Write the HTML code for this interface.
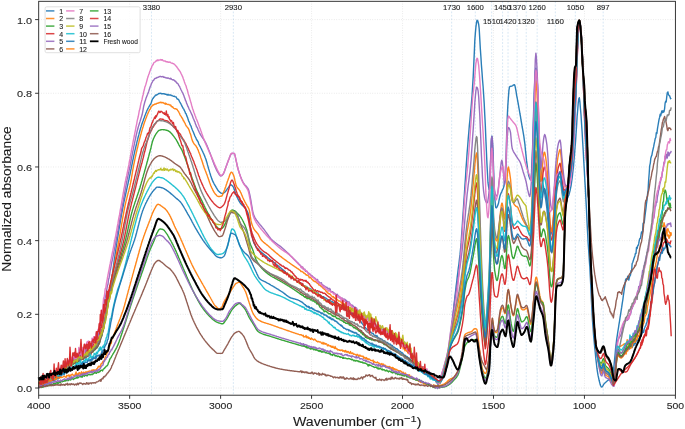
<!DOCTYPE html>
<html><head><meta charset="utf-8"><style>
html,body{margin:0;padding:0;background:#fff;}
svg{display:block;font-family:"Liberation Sans", sans-serif;will-change:transform;} text{stroke:#222;stroke-width:0.1px;paint-order:stroke;}
</style></head><body>
<svg width="685" height="429" viewBox="0 0 685 429">
<rect width="685" height="429" fill="#fff"/>
<line x1="129.66" y1="1.3" x2="129.66" y2="395.2" stroke="#b8b8b8" stroke-opacity="0.45" stroke-width="0.8" stroke-dasharray="0.8 1.6"/>
<line x1="220.61" y1="1.3" x2="220.61" y2="395.2" stroke="#b8b8b8" stroke-opacity="0.45" stroke-width="0.8" stroke-dasharray="0.8 1.6"/>
<line x1="311.57" y1="1.3" x2="311.57" y2="395.2" stroke="#b8b8b8" stroke-opacity="0.45" stroke-width="0.8" stroke-dasharray="0.8 1.6"/>
<line x1="402.53" y1="1.3" x2="402.53" y2="395.2" stroke="#b8b8b8" stroke-opacity="0.45" stroke-width="0.8" stroke-dasharray="0.8 1.6"/>
<line x1="493.49" y1="1.3" x2="493.49" y2="395.2" stroke="#b8b8b8" stroke-opacity="0.45" stroke-width="0.8" stroke-dasharray="0.8 1.6"/>
<line x1="584.44" y1="1.3" x2="584.44" y2="395.2" stroke="#b8b8b8" stroke-opacity="0.45" stroke-width="0.8" stroke-dasharray="0.8 1.6"/>
<line x1="38.7" y1="388.00" x2="675.4" y2="388.00" stroke="#b8b8b8" stroke-opacity="0.45" stroke-width="0.8" stroke-dasharray="0.8 1.6"/>
<line x1="38.7" y1="314.32" x2="675.4" y2="314.32" stroke="#b8b8b8" stroke-opacity="0.45" stroke-width="0.8" stroke-dasharray="0.8 1.6"/>
<line x1="38.7" y1="240.64" x2="675.4" y2="240.64" stroke="#b8b8b8" stroke-opacity="0.45" stroke-width="0.8" stroke-dasharray="0.8 1.6"/>
<line x1="38.7" y1="166.96" x2="675.4" y2="166.96" stroke="#b8b8b8" stroke-opacity="0.45" stroke-width="0.8" stroke-dasharray="0.8 1.6"/>
<line x1="38.7" y1="93.28" x2="675.4" y2="93.28" stroke="#b8b8b8" stroke-opacity="0.45" stroke-width="0.8" stroke-dasharray="0.8 1.6"/>
<line x1="38.7" y1="19.60" x2="675.4" y2="19.60" stroke="#b8b8b8" stroke-opacity="0.45" stroke-width="0.8" stroke-dasharray="0.8 1.6"/>
<line x1="151.49" y1="1.3" x2="151.49" y2="395.2" stroke="#8fbce0" stroke-opacity="0.45" stroke-width="0.8" stroke-dasharray="1.8 1.6"/>
<line x1="233.35" y1="1.3" x2="233.35" y2="395.2" stroke="#8fbce0" stroke-opacity="0.45" stroke-width="0.8" stroke-dasharray="1.8 1.6"/>
<line x1="451.65" y1="1.3" x2="451.65" y2="395.2" stroke="#8fbce0" stroke-opacity="0.45" stroke-width="0.8" stroke-dasharray="1.8 1.6"/>
<line x1="475.29" y1="1.3" x2="475.29" y2="395.2" stroke="#8fbce0" stroke-opacity="0.45" stroke-width="0.8" stroke-dasharray="1.8 1.6"/>
<line x1="491.67" y1="1.3" x2="491.67" y2="395.2" stroke="#8fbce0" stroke-opacity="0.45" stroke-width="0.8" stroke-dasharray="1.8 1.6"/>
<line x1="502.58" y1="1.3" x2="502.58" y2="395.2" stroke="#8fbce0" stroke-opacity="0.45" stroke-width="0.8" stroke-dasharray="1.8 1.6"/>
<line x1="508.04" y1="1.3" x2="508.04" y2="395.2" stroke="#8fbce0" stroke-opacity="0.45" stroke-width="0.8" stroke-dasharray="1.8 1.6"/>
<line x1="517.13" y1="1.3" x2="517.13" y2="395.2" stroke="#8fbce0" stroke-opacity="0.45" stroke-width="0.8" stroke-dasharray="1.8 1.6"/>
<line x1="526.23" y1="1.3" x2="526.23" y2="395.2" stroke="#8fbce0" stroke-opacity="0.45" stroke-width="0.8" stroke-dasharray="1.8 1.6"/>
<line x1="537.15" y1="1.3" x2="537.15" y2="395.2" stroke="#8fbce0" stroke-opacity="0.45" stroke-width="0.8" stroke-dasharray="1.8 1.6"/>
<line x1="555.34" y1="1.3" x2="555.34" y2="395.2" stroke="#8fbce0" stroke-opacity="0.45" stroke-width="0.8" stroke-dasharray="1.8 1.6"/>
<line x1="575.35" y1="1.3" x2="575.35" y2="395.2" stroke="#8fbce0" stroke-opacity="0.45" stroke-width="0.8" stroke-dasharray="1.8 1.6"/>
<line x1="603.18" y1="1.3" x2="603.18" y2="395.2" stroke="#8fbce0" stroke-opacity="0.45" stroke-width="0.8" stroke-dasharray="1.8 1.6"/>
<g>
<polyline points="38.7,385.2 39.2,385.2 39.8,384.5 40.3,383.7 40.9,383.8 41.4,383.1 42.0,383.7 42.5,384.5 43.1,382.7 43.6,382.4 44.2,383.0 44.7,382.6 45.3,382.1 45.8,381.0 46.4,381.4 46.9,381.8 47.5,379.8 48.0,380.2 48.6,378.7 49.1,378.9 49.7,378.1 50.2,379.2 50.8,378.0 51.3,379.0 51.9,378.6 52.4,378.0 53.0,375.7 53.5,377.0 54.1,377.1 54.6,376.9 55.2,375.2 55.7,375.7 56.3,375.0 56.8,374.8 57.4,376.0 57.9,374.1 58.5,374.3 59.0,374.7 59.6,373.1 60.1,373.2 60.7,372.9 61.2,372.5 61.8,371.0 62.3,371.6 62.9,372.3 63.4,369.4 64.0,370.9 64.5,369.8 65.1,368.7 65.6,370.4 66.2,368.9 66.7,366.8 67.3,367.4 67.8,367.4 68.4,366.3 68.9,366.6 69.5,365.5 70.0,365.7 70.6,366.0 71.1,363.8 71.7,364.2 72.2,363.3 72.8,363.5 73.3,362.0 73.9,362.2 74.4,362.2 75.0,362.8 75.5,362.7 76.1,360.3 76.6,360.5 77.2,361.4 77.7,358.9 78.3,359.8 78.8,359.8 79.4,360.7 79.9,359.9 80.5,358.7 81.0,358.4 81.6,358.2 82.1,359.3 82.7,357.4 83.2,357.2 83.8,357.4 84.3,356.7 84.9,356.3 85.4,355.2 86.0,355.8 86.5,355.1 87.1,356.1 87.6,355.3 88.2,354.4 88.7,354.5 89.3,353.2 89.8,353.9 90.4,352.5 90.9,352.5 91.5,350.4 92.0,351.3 92.6,349.0 93.1,348.2 93.7,349.1 94.2,348.1 94.8,348.4 95.3,349.6 95.9,346.5 96.4,346.1 97.0,346.1 97.5,345.6 98.1,344.2 98.6,343.1 99.2,342.7 99.7,341.1 100.3,338.3 100.8,337.5 101.4,335.8 101.9,333.0 102.5,332.1 103.0,329.1 103.6,328.4 104.1,325.2 104.7,322.4 105.2,318.9 105.8,316.2 106.3,311.4 106.9,308.7 107.4,306.5 108.0,301.0 108.5,299.9 109.1,294.2 109.6,292.8 110.2,288.0 110.7,285.9 111.3,281.6 111.8,276.5 112.4,273.9 112.9,270.0 113.5,266.1 114.0,262.2 114.6,258.2 115.1,254.4 115.7,250.5 116.2,246.8 116.8,243.2 117.3,239.7 117.9,236.3 118.4,232.9 119.0,229.5 119.5,226.3 120.1,223.0 120.6,219.8 121.2,216.7 121.7,213.7 122.3,210.7 122.8,207.8 123.4,205.0 123.9,202.2 124.5,199.6 125.0,197.1 125.6,194.5 126.1,192.1 126.7,189.6 127.2,187.1 127.8,184.6 128.3,182.1 128.9,179.5 129.4,176.9 130.0,174.3 130.5,171.7 131.1,169.0 131.6,166.3 132.2,163.6 132.7,160.9 133.3,158.3 133.8,155.7 134.4,153.2 134.9,150.7 135.5,148.3 136.0,146.0 136.6,143.7 137.1,141.4 137.7,139.2 138.2,137.0 138.8,134.9 139.3,132.8 139.9,130.8 140.4,128.8 141.0,127.0 141.5,125.3 142.1,123.6 142.6,122.0 143.2,120.5 143.7,119.0 144.3,117.5 144.8,116.1 145.4,114.6 145.9,113.2 146.5,111.8 147.0,110.5 147.6,109.4 148.1,108.3 148.7,107.3 149.2,106.3 149.8,105.3 150.3,104.5 150.9,103.6 151.4,102.2 152.0,100.2 152.5,98.9 153.1,98.5 153.6,97.3 154.2,96.9 154.7,96.5 155.3,95.4 155.8,95.0 156.4,95.2 156.9,94.8 157.5,94.4 158.0,94.1 158.6,93.7 159.1,93.3 159.7,93.5 160.2,93.3 160.8,93.1 161.3,93.7 161.9,93.6 162.4,93.8 163.0,93.6 163.5,93.8 164.1,93.8 164.6,93.9 165.2,94.3 165.7,94.1 166.3,94.5 166.8,94.6 167.4,95.1 167.9,94.3 168.5,95.0 169.0,94.9 169.6,95.0 170.1,94.8 170.7,95.1 171.2,95.6 171.8,95.5 172.3,95.7 172.9,95.9 173.4,96.4 174.0,96.4 174.5,96.2 175.1,96.9 175.6,96.9 176.2,97.0 176.7,98.1 177.3,99.0 177.8,99.2 178.4,99.5 178.9,100.2 179.5,101.5 180.0,102.3 180.6,103.3 181.1,104.3 181.7,105.4 182.2,106.7 182.8,107.6 183.3,108.6 183.9,109.3 184.4,110.7 185.0,111.6 185.5,113.2 186.1,113.8 186.6,115.4 187.2,116.8 187.7,117.9 188.3,120.1 188.8,121.4 189.4,122.4 189.9,124.1 190.5,125.3 191.0,126.0 191.6,128.0 192.1,129.3 192.7,130.7 193.2,131.7 193.8,133.2 194.3,134.5 194.9,136.1 195.4,137.0 196.0,138.1 196.5,139.6 197.1,140.1 197.6,141.2 198.2,142.0 198.7,143.8 199.3,144.8 199.8,145.9 200.4,146.8 200.9,148.0 201.5,149.1 202.0,150.2 202.6,151.4 203.1,152.6 203.7,153.8 204.2,155.0 204.8,156.4 205.3,157.8 205.9,159.3 206.4,161.0 207.0,162.9 207.5,164.9 208.1,166.9 208.6,168.8 209.2,170.6 209.7,172.4 210.3,174.2 210.8,176.0 211.4,177.6 211.9,179.1 212.5,180.5 213.0,181.7 213.6,182.8 214.1,183.8 214.7,184.8 215.2,185.7 215.8,186.7 216.3,187.6 216.9,188.5 217.4,189.5 218.0,190.3 218.5,191.0 219.1,191.6 219.6,192.1 220.2,192.5 220.7,192.9 221.3,193.2 221.8,193.4 222.4,193.5 222.9,193.4 223.5,193.1 224.0,192.7 224.6,192.3 225.1,191.9 225.7,191.3 226.2,190.5 226.8,189.7 227.3,188.9 227.9,188.1 228.4,187.4 229.0,186.6 229.5,185.8 230.1,185.1 230.6,184.8 231.2,184.9 231.7,185.2 232.3,185.7 232.8,186.3 233.4,187.1 233.9,188.4 234.5,189.9 235.0,191.6 235.6,193.4 236.1,194.9 236.7,196.2 237.2,197.4 237.8,198.5 238.3,199.7 238.9,200.7 239.4,201.7 240.0,202.6 240.5,203.3 241.1,204.0 241.6,204.6 242.2,205.1 242.7,205.6 243.3,206.1 243.8,206.7 244.4,207.3 244.9,207.9 245.5,208.7 246.0,209.4 246.6,210.2 247.1,211.1 247.7,212.3 248.2,213.8 248.8,216.3 249.3,219.7 249.9,223.5 250.4,227.4 251.0,230.9 251.5,233.7 252.1,236.2 252.6,238.6 253.2,240.7 253.7,242.4 254.3,243.6 254.8,244.7 255.4,245.6 255.9,246.5 256.5,247.2 257.0,247.9 257.6,248.5 258.1,249.2 258.7,249.8 259.2,250.3 259.8,250.9 260.3,251.4 260.9,251.9 261.4,252.4 262.0,252.8 262.5,253.3 263.1,253.7 263.6,254.2 264.2,254.6 264.7,255.0 265.3,255.5 265.8,255.9 266.4,256.4 266.9,256.8 267.5,257.3 268.0,257.8 268.6,258.2 269.1,258.6 269.7,259.1 270.2,259.5 270.8,260.0 271.3,260.4 271.9,260.8 272.4,261.3 273.0,261.7 273.5,262.1 274.1,262.6 274.6,263.0 275.2,263.4 275.7,263.9 276.3,264.3 276.8,264.7 277.4,265.2 277.9,265.6 278.5,266.0 279.0,266.5 279.6,266.9 280.1,267.4 280.7,267.8 281.2,268.3 281.8,268.7 282.3,269.2 282.9,269.7 283.4,270.1 284.0,270.6 284.5,271.1 285.1,271.6 285.6,272.2 286.2,272.7 286.7,273.2 287.3,273.7 287.8,274.2 288.4,274.7 288.9,275.1 289.5,275.6 290.0,276.0 290.6,276.5 291.1,276.9 291.7,277.3 292.2,277.7 292.8,278.1 293.3,278.5 293.9,278.9 294.4,279.3 295.0,279.7 295.5,280.1 296.1,280.4 296.6,280.8 297.2,281.2 297.7,281.6 298.3,281.9 298.8,282.3 299.4,282.6 299.9,283.0 300.5,282.9 301.0,283.0 301.6,284.7 302.1,284.3 302.7,284.8 303.2,285.1 303.8,285.5 304.3,285.8 304.9,286.8 305.4,286.1 306.0,286.3 306.5,286.8 307.1,287.0 307.6,288.1 308.2,288.5 308.7,288.2 309.3,288.3 309.8,289.0 310.4,290.0 310.9,288.8 311.5,290.3 312.0,290.1 312.6,291.2 313.1,290.7 313.7,291.3 314.2,291.2 314.8,291.7 315.3,292.9 315.9,293.0 316.4,292.8 317.0,293.0 317.5,292.9 318.1,293.8 318.6,294.2 319.2,294.5 319.7,294.8 320.3,294.8 320.8,295.5 321.4,295.8 321.9,296.6 322.5,297.1 323.0,296.7 323.6,296.8 324.1,297.4 324.7,297.5 325.2,297.8 325.8,298.3 326.3,298.3 326.9,299.2 327.4,299.3 328.0,299.7 328.5,299.9 329.1,300.0 329.6,300.2 330.2,300.8 330.7,301.0 331.3,301.6 331.8,301.8 332.4,301.6 332.9,302.5 333.5,302.3 334.0,302.9 334.6,303.3 335.1,303.0 335.7,304.1 336.2,304.4 336.8,304.6 337.3,304.9 337.9,305.2 338.4,305.3 339.0,305.9 339.5,306.1 340.1,306.7 340.6,306.5 341.2,307.4 341.7,307.6 342.3,307.8 342.8,308.0 343.4,308.7 343.9,308.2 344.5,309.3 345.0,309.5 345.6,309.8 346.1,310.2 346.7,310.1 347.2,310.6 347.8,311.2 348.3,311.5 348.9,311.7 349.4,311.4 350.0,312.5 350.5,313.1 351.1,313.4 351.6,313.4 352.2,313.2 352.7,314.5 353.3,314.4 353.8,314.0 354.4,315.4 354.9,315.2 355.5,315.7 356.0,316.4 356.6,317.6 357.1,317.5 357.7,318.3 358.2,319.4 358.8,320.0 359.3,320.0 359.9,320.6 360.4,320.9 361.0,321.7 361.5,322.8 362.1,323.5 362.6,324.0 363.2,325.0 363.7,325.1 364.3,326.0 364.8,327.0 365.4,327.6 365.9,328.4 366.5,328.8 367.0,329.1 367.6,329.9 368.1,330.0 368.7,330.3 369.2,331.6 369.8,331.8 370.3,332.4 370.9,332.1 371.4,333.0 372.0,333.2 372.5,333.5 373.1,333.4 373.6,334.4 374.2,335.2 374.7,335.4 375.3,335.3 375.8,335.9 376.4,336.5 376.9,335.5 377.5,336.8 378.0,337.3 378.6,337.7 379.1,338.4 379.7,338.5 380.2,338.5 380.8,338.9 381.3,339.4 381.9,339.2 382.4,339.8 383.0,340.4 383.5,341.2 384.1,340.7 384.6,341.1 385.2,341.5 385.7,342.3 386.3,342.1 386.8,343.0 387.4,342.5 387.9,343.1 388.5,343.4 389.0,344.1 389.6,344.5 390.1,344.0 390.7,344.5 391.2,345.4 391.8,345.4 392.3,345.4 392.9,346.7 393.4,346.9 394.0,347.3 394.5,347.3 395.1,348.2 395.6,348.2 396.2,349.0 396.7,348.7 397.3,349.1 397.8,349.9 398.4,350.0 398.9,350.8 399.5,351.1 400.0,351.1 400.6,351.8 401.1,352.1 401.7,353.0 402.2,352.8 402.8,353.3 403.3,354.3 403.9,355.1 404.4,355.5 405.0,355.2 405.5,355.7 406.1,356.6 406.6,356.4 407.2,356.6 407.7,357.4 408.3,358.0 408.8,358.0 409.4,358.1 409.9,358.7 410.5,359.9 411.0,359.9 411.6,360.6 412.1,361.2 412.7,361.9 413.2,362.0 413.8,362.8 414.3,362.8 414.9,363.5 415.4,363.8 416.0,365.1 416.5,365.2 417.1,365.4 417.6,366.0 418.2,366.6 418.7,367.4 419.3,367.0 419.8,367.7 420.4,368.4 420.9,369.9 421.5,369.8 422.0,369.8 422.6,370.6 423.1,371.5 423.7,371.0 424.2,371.4 424.8,372.3 425.3,372.4 425.9,372.9 426.4,372.8 427.0,374.0 427.5,374.3 428.1,374.3 428.6,374.7 429.2,374.1 429.7,375.4 430.3,375.5 430.8,376.1 431.4,376.6 431.9,376.7 432.5,376.6 433.0,377.8 433.6,377.9 434.1,378.7 434.7,379.3 435.2,380.1 435.8,380.2 436.3,382.3 436.9,382.6 437.4,383.5 438.0,384.3 438.5,383.9 439.1,383.3 439.6,383.4 440.2,383.1 440.7,382.2 441.3,381.3 441.8,380.3 442.4,379.3 442.9,378.2 443.5,377.1 444.0,375.8 444.6,374.4 445.1,372.8 445.7,371.0 446.2,369.0 446.8,366.5 447.3,363.6 447.9,360.2 448.4,356.5 449.0,352.5 449.5,348.4 450.1,344.2 450.6,339.6 451.2,334.5 451.7,329.1 452.3,323.4 452.8,317.6 453.4,311.8 453.9,306.2 454.5,300.9 455.0,296.0 455.6,291.1 456.1,286.4 456.7,281.8 457.2,277.1 457.8,272.5 458.3,268.2 458.9,264.0 459.4,259.7 460.0,254.9 460.5,249.5 461.1,242.9 461.6,235.2 462.2,227.0 462.7,218.7 463.3,210.6 463.8,202.4 464.4,194.1 464.9,185.8 465.5,177.2 466.0,168.6 466.6,160.6 467.1,153.1 467.7,146.0 468.2,139.1 468.8,132.4 469.3,125.9 469.9,120.0 470.4,114.3 471.0,108.5 471.5,102.2 472.1,95.0 472.6,86.4 473.2,76.6 473.7,65.9 474.3,52.9 474.8,40.6 475.4,32.6 475.9,27.1 476.5,22.6 477.0,20.3 477.6,20.5 478.1,22.0 478.7,24.5 479.2,28.9 479.8,39.4 480.3,48.4 480.9,56.7 481.4,64.7 482.0,72.4 482.5,79.5 483.1,86.5 483.6,94.2 484.2,103.4 484.7,113.8 485.3,125.0 485.8,137.8 486.4,151.3 486.9,163.0 487.5,174.0 488.0,182.7 488.6,186.9 489.1,189.4 489.7,188.2 490.2,172.2 490.8,156.9 491.3,141.6 491.9,136.1 492.4,141.2 493.0,150.0 493.5,166.3 494.1,185.6 494.6,195.5 495.2,203.0 495.7,207.5 496.3,207.9 496.8,207.3 497.4,206.3 497.9,205.1 498.5,203.3 499.0,200.5 499.6,197.6 500.1,195.5 500.7,194.0 501.2,192.7 501.8,191.5 502.3,190.2 502.9,189.1 503.4,187.9 504.0,186.0 504.5,182.1 505.1,175.7 505.6,167.3 506.2,152.2 506.7,133.3 507.3,116.3 507.8,106.0 508.4,97.5 508.9,90.7 509.5,86.9 510.0,86.4 510.6,86.3 511.1,86.2 511.7,86.1 512.2,85.9 512.8,85.6 513.3,85.1 513.9,84.8 514.4,84.7 515.0,85.8 515.5,88.3 516.1,91.6 516.6,95.1 517.2,98.0 517.7,101.0 518.3,104.0 518.8,107.1 519.4,110.3 519.9,113.5 520.5,116.7 521.0,120.0 521.6,123.3 522.1,126.5 522.7,129.6 523.2,132.7 523.8,136.1 524.3,139.8 524.9,144.1 525.4,149.7 526.0,155.4 526.5,160.4 527.1,164.8 527.6,169.1 528.2,172.8 528.7,175.5 529.3,177.2 529.8,178.7 530.4,179.8 530.9,179.6 531.5,172.9 532.0,160.8 532.6,147.5 533.1,128.9 533.7,108.6 534.2,94.0 534.8,80.9 535.3,71.0 535.9,68.1 536.4,71.2 537.0,77.7 537.5,85.8 538.1,101.2 538.6,122.8 539.2,142.7 539.7,154.3 540.3,162.5 540.8,169.0 541.4,174.2 541.9,178.3 542.5,181.5 543.0,184.3 543.6,187.2 544.1,190.3 544.7,193.5 545.2,196.6 545.8,200.0 546.3,203.9 546.9,208.6 547.4,214.7 548.0,220.7 548.5,225.3 549.1,229.1 549.6,232.5 550.2,234.6 550.7,234.8 551.3,233.1 551.8,230.1 552.4,226.4 552.9,222.4 553.5,217.2 554.0,209.9 554.6,201.7 555.1,193.8 555.7,187.4 556.2,183.4 556.8,180.4 557.3,177.7 557.9,175.7 558.4,174.1 559.0,172.9 559.5,172.0 560.1,171.7 560.6,173.4 561.2,176.7 561.7,180.5 562.3,183.9 562.8,187.9 563.4,191.9 563.9,194.8 564.5,196.8 565.0,198.5 565.6,199.7 566.1,200.0 566.7,199.6 567.2,198.7 567.8,197.6 568.3,196.3 568.9,195.0 569.4,193.1 570.0,190.9 570.5,188.3 571.1,185.5 571.6,182.0 572.2,177.8 572.7,173.2 573.3,168.1 573.8,162.4 574.4,156.0 574.9,149.2 575.5,142.0 576.0,134.5 576.6,125.5 577.1,116.6 577.7,109.7 578.2,103.4 578.8,98.7 579.3,97.7 579.9,101.9 580.4,108.2 581.0,114.8 581.5,122.9 582.1,131.8 582.6,140.7 583.2,150.2 583.7,160.1 584.3,170.0 584.8,179.6 585.4,189.1 585.9,199.1 586.5,209.9 587.0,221.4 587.6,232.6 588.1,242.5 588.7,250.8 589.2,258.5 589.8,266.7 590.3,276.4 590.9,288.0 591.4,300.0 592.0,311.4 592.5,320.7 593.1,328.5 593.6,335.4 594.2,341.7 594.7,347.5 595.3,353.0 595.8,358.4 596.4,363.5 596.9,368.2 597.5,372.2 598.0,375.2 598.6,377.8 599.1,380.3 599.7,382.6 600.2,384.6 600.8,386.0 601.3,386.8 601.9,387.0 602.4,386.4 603.0,385.6 603.5,384.6 604.1,383.9 604.6,383.3 605.2,382.8 605.7,382.3 606.3,381.8 606.8,381.3 607.4,380.8 607.9,380.3 608.5,379.9 609.0,379.7 609.6,379.6 610.1,379.6 610.7,379.6 611.2,379.6 611.8,379.6 612.3,377.8 612.9,374.3 613.4,370.0 614.0,365.6 614.5,360.4 615.1,354.4 615.6,348.4 616.2,343.4 616.7,339.2 617.3,335.4 617.8,331.8 618.4,328.4 618.9,324.9 619.5,321.3 620.0,317.8 620.6,314.3 621.1,310.8 621.7,307.2 622.2,303.7 622.8,300.0 623.3,296.1 623.9,292.0 624.4,288.3 625.0,284.7 625.5,280.1 626.1,278.7 626.6,279.5 627.2,278.8 627.7,276.2 628.3,279.4 628.8,280.1 629.4,277.3 629.9,275.9 630.5,275.0 631.0,270.6 631.6,271.8 632.1,263.7 632.7,262.5 633.2,261.1 633.8,259.0 634.3,257.6 634.9,255.9 635.4,253.4 636.0,253.5 636.5,247.5 637.1,248.6 637.6,246.0 638.2,245.3 638.7,243.7 639.3,240.3 639.8,238.7 640.4,238.4 640.9,235.6 641.5,232.0 642.0,233.2 642.6,231.0 643.1,223.4 643.7,222.9 644.2,222.8 644.8,217.4 645.3,213.3 645.9,208.9 646.4,204.3 647.0,200.0 647.5,194.5 648.1,190.0 648.6,180.9 649.2,173.3 649.7,165.9 650.3,163.1 650.8,158.4 651.4,156.2 651.9,155.1 652.5,151.7 653.0,149.5 653.6,146.9 654.1,144.1 654.7,141.4 655.2,138.6 655.8,137.5 656.3,132.6 656.9,133.4 657.4,129.2 658.0,125.5 658.5,122.7 659.1,119.2 659.6,117.4 660.2,114.2 660.7,115.8 661.3,113.0 661.8,110.9 662.4,112.7 662.9,110.7 663.5,112.2 664.0,111.8 664.6,108.7 665.1,103.3 665.7,101.2 666.2,101.9 666.8,96.4 667.3,92.6 667.9,91.9 668.4,94.3 669.0,95.5 669.5,95.6 670.1,97.2 670.6,98.7 671.2,97.8" fill="none" stroke="#1f77b4" stroke-opacity="0.95" stroke-width="1.4" stroke-linejoin="round"/>
<polyline points="38.7,384.0 39.2,384.6 39.8,383.6 40.3,384.0 40.9,383.8 41.4,385.2 42.0,382.6 42.5,382.9 43.1,382.6 43.6,382.7 44.2,382.9 44.7,381.5 45.3,381.0 45.8,380.1 46.4,380.3 46.9,381.1 47.5,380.4 48.0,379.3 48.6,379.5 49.1,379.5 49.7,379.5 50.2,378.4 50.8,378.3 51.3,376.9 51.9,377.0 52.4,378.7 53.0,375.6 53.5,376.6 54.1,376.7 54.6,375.9 55.2,375.3 55.7,375.5 56.3,375.2 56.8,374.8 57.4,373.1 57.9,374.0 58.5,373.1 59.0,372.9 59.6,373.1 60.1,373.0 60.7,372.8 61.2,371.3 61.8,371.9 62.3,371.7 62.9,371.2 63.4,370.9 64.0,369.3 64.5,368.8 65.1,369.0 65.6,366.9 66.2,367.6 66.7,366.6 67.3,366.2 67.8,364.7 68.4,364.9 68.9,365.0 69.5,365.3 70.0,364.9 70.6,363.7 71.1,363.3 71.7,362.4 72.2,362.9 72.8,362.1 73.3,362.4 73.9,362.9 74.4,361.3 75.0,359.9 75.5,360.0 76.1,359.3 76.6,359.1 77.2,360.6 77.7,359.5 78.3,357.9 78.8,359.2 79.4,359.3 79.9,357.8 80.5,357.3 81.0,357.2 81.6,357.3 82.1,357.2 82.7,357.3 83.2,357.0 83.8,356.6 84.3,356.4 84.9,355.6 85.4,353.6 86.0,354.3 86.5,354.3 87.1,353.4 87.6,353.9 88.2,352.6 88.7,351.7 89.3,352.9 89.8,351.8 90.4,351.0 90.9,350.9 91.5,350.5 92.0,349.4 92.6,346.8 93.1,347.5 93.7,347.0 94.2,346.1 94.8,346.4 95.3,346.5 95.9,344.7 96.4,343.5 97.0,345.1 97.5,342.5 98.1,341.0 98.6,340.8 99.2,339.5 99.7,337.0 100.3,336.2 100.8,333.3 101.4,330.9 101.9,329.4 102.5,327.6 103.0,324.3 103.6,322.7 104.1,319.8 104.7,319.2 105.2,313.8 105.8,312.4 106.3,308.4 106.9,305.2 107.4,302.7 108.0,299.7 108.5,296.9 109.1,293.1 109.6,289.4 110.2,286.6 110.7,284.4 111.3,281.5 111.8,279.2 112.4,275.3 112.9,272.4 113.5,269.5 114.0,266.6 114.6,263.7 115.1,260.8 115.7,257.8 116.2,254.9 116.8,252.0 117.3,249.0 117.9,246.0 118.4,243.0 119.0,240.0 119.5,236.9 120.1,233.7 120.6,230.5 121.2,227.2 121.7,224.0 122.3,220.7 122.8,217.5 123.4,214.4 123.9,211.4 124.5,208.5 125.0,205.8 125.6,203.2 126.1,200.9 126.7,198.7 127.2,196.5 127.8,194.4 128.3,192.4 128.9,190.2 129.4,188.0 130.0,185.7 130.5,183.2 131.1,180.5 131.6,177.4 132.2,173.7 132.7,170.3 133.3,167.3 133.8,164.5 134.4,161.8 134.9,159.2 135.5,156.6 136.0,154.2 136.6,151.7 137.1,149.3 137.7,147.0 138.2,144.7 138.8,142.4 139.3,140.2 139.9,138.1 140.4,136.0 141.0,134.0 141.5,132.0 142.1,130.1 142.6,128.3 143.2,126.5 143.7,124.7 144.3,123.1 144.8,121.4 145.4,119.9 145.9,118.4 146.5,116.9 147.0,115.5 147.6,114.2 148.1,112.9 148.7,111.7 149.2,110.5 149.8,109.4 150.3,108.9 150.9,107.2 151.4,106.5 152.0,106.1 152.5,105.3 153.1,104.9 153.6,105.1 154.2,104.5 154.7,104.1 155.3,103.9 155.8,104.2 156.4,103.9 156.9,103.3 157.5,103.1 158.0,103.2 158.6,103.0 159.1,102.5 159.7,102.7 160.2,102.6 160.8,102.1 161.3,102.5 161.9,102.8 162.4,102.7 163.0,102.4 163.5,103.0 164.1,103.4 164.6,103.8 165.2,103.0 165.7,104.3 166.3,103.6 166.8,104.2 167.4,104.4 167.9,104.5 168.5,104.5 169.0,104.4 169.6,105.1 170.1,105.1 170.7,105.0 171.2,106.6 171.8,106.5 172.3,107.2 172.9,107.0 173.4,108.0 174.0,108.4 174.5,108.7 175.1,108.6 175.6,108.6 176.2,109.2 176.7,109.1 177.3,109.7 177.8,110.7 178.4,111.2 178.9,112.3 179.5,113.3 180.0,114.8 180.6,115.6 181.1,116.2 181.7,117.5 182.2,118.1 182.8,119.2 183.3,120.6 183.9,121.1 184.4,122.4 185.0,123.2 185.5,124.5 186.1,125.8 186.6,126.1 187.2,127.1 187.7,127.7 188.3,128.5 188.8,129.4 189.4,131.1 189.9,132.7 190.5,134.1 191.0,135.8 191.6,138.2 192.1,139.7 192.7,141.4 193.2,142.4 193.8,143.3 194.3,144.2 194.9,144.7 195.4,145.5 196.0,145.9 196.5,147.0 197.1,147.7 197.6,149.1 198.2,150.1 198.7,151.7 199.3,153.3 199.8,154.4 200.4,156.3 200.9,157.9 201.5,159.4 202.0,161.1 202.6,162.8 203.1,164.5 203.7,166.1 204.2,167.7 204.8,169.2 205.3,170.6 205.9,172.1 206.4,173.5 207.0,174.9 207.5,176.4 208.1,178.0 208.6,179.6 209.2,181.2 209.7,182.8 210.3,184.3 210.8,185.7 211.4,186.9 211.9,188.1 212.5,189.2 213.0,190.4 213.6,191.4 214.1,192.4 214.7,193.2 215.2,194.0 215.8,194.6 216.3,195.1 216.9,195.7 217.4,196.1 218.0,196.4 218.5,196.5 219.1,196.5 219.6,196.5 220.2,196.4 220.7,196.3 221.3,196.2 221.8,196.0 222.4,195.2 222.9,194.0 223.5,192.6 224.0,191.1 224.6,189.8 225.1,188.3 225.7,186.7 226.2,185.1 226.8,183.4 227.3,181.8 227.9,180.3 228.4,178.8 229.0,177.2 229.5,175.6 230.1,174.1 230.6,173.0 231.2,172.3 231.7,172.3 232.3,172.8 232.8,173.7 233.4,174.8 233.9,176.2 234.5,178.4 235.0,180.9 235.6,183.4 236.1,185.4 236.7,186.6 237.2,187.5 237.8,188.2 238.3,188.8 238.9,189.5 239.4,190.2 240.0,191.0 240.5,192.1 241.1,193.3 241.6,194.6 242.2,195.9 242.7,197.3 243.3,198.5 243.8,199.6 244.4,200.7 244.9,201.8 245.5,202.8 246.0,203.8 246.6,204.9 247.1,205.8 247.7,206.7 248.2,207.6 248.8,208.7 249.3,210.2 249.9,213.0 250.4,216.9 251.0,220.7 251.5,223.1 252.1,224.8 252.6,226.3 253.2,227.5 253.7,228.6 254.3,229.5 254.8,230.3 255.4,230.9 255.9,231.6 256.5,232.2 257.0,232.8 257.6,233.4 258.1,234.2 258.7,235.2 259.2,236.2 259.8,237.3 260.3,238.4 260.9,239.3 261.4,240.1 262.0,240.7 262.5,241.3 263.1,241.8 263.6,242.3 264.2,242.7 264.7,243.2 265.3,243.6 265.8,244.0 266.4,244.4 266.9,244.9 267.5,245.3 268.0,245.8 268.6,246.3 269.1,246.8 269.7,247.2 270.2,247.7 270.8,248.2 271.3,248.7 271.9,249.2 272.4,249.7 273.0,250.1 273.5,250.6 274.1,251.1 274.6,251.6 275.2,252.0 275.7,252.5 276.3,253.0 276.8,253.4 277.4,253.9 277.9,254.3 278.5,254.8 279.0,255.2 279.6,255.7 280.1,256.1 280.7,256.5 281.2,256.9 281.8,257.4 282.3,257.8 282.9,258.2 283.4,258.6 284.0,259.0 284.5,259.4 285.1,259.8 285.6,260.2 286.2,260.6 286.7,261.0 287.3,261.4 287.8,261.8 288.4,262.2 288.9,262.5 289.5,262.9 290.0,263.3 290.6,263.7 291.1,264.1 291.7,264.5 292.2,264.9 292.8,265.3 293.3,265.7 293.9,266.0 294.4,266.4 295.0,266.8 295.5,267.2 296.1,267.5 296.6,267.9 297.2,268.3 297.7,268.7 298.3,269.0 298.8,269.4 299.4,269.8 299.9,270.2 300.5,270.6 301.0,271.6 301.6,271.5 302.1,271.4 302.7,272.1 303.2,272.1 303.8,273.0 304.3,273.6 304.9,273.3 305.4,274.0 306.0,275.0 306.5,274.7 307.1,275.4 307.6,275.3 308.2,275.8 308.7,276.3 309.3,277.9 309.8,277.2 310.4,277.6 310.9,278.0 311.5,278.6 312.0,279.4 312.6,279.6 313.1,280.8 313.7,280.5 314.2,281.4 314.8,281.4 315.3,281.9 315.9,281.5 316.4,282.5 317.0,283.0 317.5,283.4 318.1,283.0 318.6,284.7 319.2,284.7 319.7,285.1 320.3,285.6 320.8,286.1 321.4,286.8 321.9,286.6 322.5,287.2 323.0,288.2 323.6,288.6 324.1,288.9 324.7,289.4 325.2,289.8 325.8,290.6 326.3,291.7 326.9,291.3 327.4,292.9 328.0,293.2 328.5,293.1 329.1,294.2 329.6,293.8 330.2,294.1 330.7,294.8 331.3,295.7 331.8,296.1 332.4,296.5 332.9,297.2 333.5,296.6 334.0,298.1 334.6,297.7 335.1,298.4 335.7,298.8 336.2,298.8 336.8,299.1 337.3,299.6 337.9,300.3 338.4,300.9 339.0,301.2 339.5,300.9 340.1,301.1 340.6,301.3 341.2,302.7 341.7,301.1 342.3,304.0 342.8,303.0 343.4,303.1 343.9,304.4 344.5,305.3 345.0,305.1 345.6,306.0 346.1,305.7 346.7,306.9 347.2,307.3 347.8,306.7 348.3,308.2 348.9,307.6 349.4,308.0 350.0,307.6 350.5,308.4 351.1,309.7 351.6,308.4 352.2,310.4 352.7,310.5 353.3,310.9 353.8,309.4 354.4,311.4 354.9,312.4 355.5,311.8 356.0,312.9 356.6,311.4 357.1,314.2 357.7,313.6 358.2,315.3 358.8,313.6 359.3,316.1 359.9,315.8 360.4,317.1 361.0,316.2 361.5,317.0 362.1,319.7 362.6,317.7 363.2,318.3 363.7,319.1 364.3,319.0 364.8,321.1 365.4,322.0 365.9,320.6 366.5,320.3 367.0,323.0 367.6,323.4 368.1,323.7 368.7,324.4 369.2,323.2 369.8,324.2 370.3,323.7 370.9,324.1 371.4,326.4 372.0,325.5 372.5,328.2 373.1,326.8 373.6,326.6 374.2,328.1 374.7,329.2 375.3,328.5 375.8,327.5 376.4,329.1 376.9,330.2 377.5,329.0 378.0,329.1 378.6,330.8 379.1,330.5 379.7,329.8 380.2,330.7 380.8,330.7 381.3,331.8 381.9,332.0 382.4,333.2 383.0,333.1 383.5,331.7 384.1,333.5 384.6,334.2 385.2,334.2 385.7,334.9 386.3,334.0 386.8,334.0 387.4,335.7 387.9,334.5 388.5,333.9 389.0,336.7 389.6,335.6 390.1,336.3 390.7,335.8 391.2,336.2 391.8,336.6 392.3,337.6 392.9,338.5 393.4,336.8 394.0,339.6 394.5,338.5 395.1,339.0 395.6,340.8 396.2,340.6 396.7,339.9 397.3,343.0 397.8,341.4 398.4,342.8 398.9,343.2 399.5,344.7 400.0,343.7 400.6,345.4 401.1,344.5 401.7,346.5 402.2,345.6 402.8,346.5 403.3,348.8 403.9,348.1 404.4,348.5 405.0,350.7 405.5,349.8 406.1,349.4 406.6,351.2 407.2,350.3 407.7,352.7 408.3,353.3 408.8,352.5 409.4,353.1 409.9,354.3 410.5,354.8 411.0,354.7 411.6,356.5 412.1,355.1 412.7,357.0 413.2,357.7 413.8,358.4 414.3,359.5 414.9,358.9 415.4,361.0 416.0,361.0 416.5,361.3 417.1,361.4 417.6,362.2 418.2,364.0 418.7,363.7 419.3,365.1 419.8,366.5 420.4,367.1 420.9,368.1 421.5,367.3 422.0,367.2 422.6,369.4 423.1,369.3 423.7,370.5 424.2,370.1 424.8,371.5 425.3,371.7 425.9,372.0 426.4,372.3 427.0,372.7 427.5,373.0 428.1,373.5 428.6,374.6 429.2,373.9 429.7,376.1 430.3,375.3 430.8,375.8 431.4,376.3 431.9,376.8 432.5,377.3 433.0,377.7 433.6,378.1 434.1,378.6 434.7,379.0 435.2,379.5 435.8,380.0 436.3,380.5 436.9,381.0 437.4,381.5 438.0,382.0 438.5,382.3 439.1,382.6 439.6,382.2 440.2,381.3 440.7,380.0 441.3,378.8 441.8,377.6 442.4,376.1 442.9,374.5 443.5,372.7 444.0,370.6 444.6,368.0 445.1,365.3 445.7,363.3 446.2,361.2 446.8,359.1 447.3,356.8 447.9,354.2 448.4,351.3 449.0,348.1 449.5,344.8 450.1,341.6 450.6,338.5 451.2,335.5 451.7,332.8 452.3,330.0 452.8,327.3 453.4,324.6 453.9,321.9 454.5,319.3 455.0,316.7 455.6,314.2 456.1,311.8 456.7,309.4 457.2,307.1 457.8,304.6 458.3,302.0 458.9,299.1 459.4,296.1 460.0,292.9 460.5,289.6 461.1,286.1 461.6,282.4 462.2,278.5 462.7,274.0 463.3,269.0 463.8,263.3 464.4,256.6 464.9,251.0 465.5,245.9 466.0,240.9 466.6,236.3 467.1,232.3 467.7,228.9 468.2,225.9 468.8,222.8 469.3,219.4 469.9,215.8 470.4,211.8 471.0,207.1 471.5,201.8 472.1,196.1 472.6,190.2 473.2,184.3 473.7,178.4 474.3,171.7 474.8,165.1 475.4,159.6 475.9,155.7 476.5,152.9 477.0,153.9 477.6,164.5 478.1,176.2 478.7,190.7 479.2,206.8 479.8,222.5 480.3,239.2 480.9,255.0 481.4,269.4 482.0,282.3 482.5,294.3 483.1,304.8 483.6,313.8 484.2,322.0 484.7,329.4 485.3,335.9 485.8,334.0 486.4,327.0 486.9,319.6 487.5,312.0 488.0,303.9 488.6,294.9 489.1,284.8 489.7,268.8 490.2,245.8 490.8,225.7 491.3,204.3 491.9,192.3 492.4,193.5 493.0,207.3 493.5,223.2 494.1,230.7 494.6,235.8 495.2,238.1 495.7,239.6 496.3,240.7 496.8,240.8 497.4,239.5 497.9,236.0 498.5,230.9 499.0,225.4 499.6,220.4 500.1,215.4 500.7,210.3 501.2,205.8 501.8,203.2 502.3,203.6 502.9,206.7 503.4,210.4 504.0,215.5 504.5,219.1 505.1,217.1 505.6,209.9 506.2,200.3 506.7,186.1 507.3,175.4 507.8,168.7 508.4,166.9 508.9,169.0 509.5,171.9 510.0,175.4 510.6,179.6 511.1,186.0 511.7,192.7 512.2,196.9 512.8,199.7 513.3,202.1 513.9,203.8 514.4,204.7 515.0,205.3 515.5,205.9 516.1,206.4 516.6,206.6 517.2,206.9 517.7,207.3 518.3,208.4 518.8,209.8 519.4,211.2 519.9,212.5 520.5,213.9 521.0,215.4 521.6,216.8 522.1,218.1 522.7,219.4 523.2,220.5 523.8,221.5 524.3,222.5 524.9,223.4 525.4,224.2 526.0,225.2 526.5,225.2 527.1,225.8 527.6,226.8 528.2,227.6 528.7,228.6 529.3,229.3 529.8,229.0 530.4,225.7 530.9,219.5 531.5,211.4 532.0,199.6 532.6,183.4 533.1,165.4 533.7,148.2 534.2,128.5 534.8,107.4 535.3,89.8 535.9,80.9 536.4,84.1 537.0,93.4 537.5,104.4 538.1,118.3 538.6,134.6 539.2,151.4 539.7,168.1 540.3,176.7 540.8,181.4 541.4,179.5 541.9,172.8 542.5,166.3 543.0,159.5 543.6,154.9 544.1,152.4 544.7,152.3 545.2,154.4 545.8,158.1 546.3,162.1 546.9,167.0 547.4,173.1 548.0,181.3 548.5,192.3 549.1,202.9 549.6,213.7 550.2,223.1 550.7,228.5 551.3,231.3 551.8,231.7 552.4,229.3 552.9,223.7 553.5,217.1 554.0,209.3 554.6,199.3 555.1,188.8 555.7,179.4 556.2,172.4 556.8,166.7 557.3,161.6 557.9,157.5 558.4,154.7 559.0,152.4 559.5,150.5 560.1,149.4 560.6,151.8 561.2,157.3 561.7,163.6 562.3,168.8 562.8,174.4 563.4,179.4 563.9,182.3 564.5,184.5 565.0,186.0 565.6,186.6 566.1,186.7 566.7,186.8 567.2,186.7 567.8,186.1 568.3,184.8 568.9,183.0 569.4,181.0 570.0,178.9 570.5,176.3 571.1,173.0 571.6,169.1 572.2,163.2 572.7,155.2 573.3,146.5 573.8,136.4 574.4,125.7 574.9,115.1 575.5,104.0 576.0,91.5 576.6,75.9 577.1,60.1 577.7,45.2 578.2,33.6 578.8,25.3 579.3,20.1 579.9,21.3 580.4,25.1 581.0,30.3 581.5,37.2 582.1,48.5 582.6,61.6 583.2,77.2 583.7,93.3 584.3,109.6 584.8,124.0 585.4,136.0 585.9,146.6 586.5,156.6 587.0,165.7 587.6,174.6 588.1,185.2 588.7,198.5 589.2,214.0 589.8,230.4 590.3,246.3 590.9,261.8 591.4,278.0 592.0,293.2 592.5,305.1 593.1,314.3 593.6,322.3 594.2,329.2 594.7,335.2 595.3,340.7 595.8,345.7 596.4,350.1 596.9,354.0 597.5,357.3 598.0,360.3 598.6,363.1 599.1,365.9 599.7,368.5 600.2,370.7 600.8,372.4 601.3,373.2 601.9,373.1 602.4,371.5 603.0,369.4 603.5,368.5 604.1,370.0 604.6,372.7 605.2,374.5 605.7,375.1 606.3,375.6 606.8,375.9 607.4,376.1 607.9,376.4 608.5,376.8 609.0,377.4 609.6,378.3 610.1,379.4 610.7,380.6 611.2,381.7 611.8,382.8 612.3,383.8 612.9,384.7 613.4,382.5 614.0,379.1 614.5,375.4 615.1,371.2 615.6,365.4 616.2,358.6 616.7,352.4 617.3,348.5 617.8,347.6 618.4,347.2 618.9,346.9 619.5,346.7 620.0,346.4 620.6,346.2 621.1,345.9 621.7,345.6 622.2,345.2 622.8,344.9 623.3,344.6 623.9,344.2 624.4,343.9 625.0,343.6 625.5,343.5 626.1,343.5 626.6,343.6 627.2,339.7 627.7,344.1 628.3,344.9 628.8,343.0 629.4,342.7 629.9,339.2 630.5,340.5 631.0,339.1 631.6,338.9 632.1,340.4 632.7,337.5 633.2,337.7 633.8,334.7 634.3,336.2 634.9,335.8 635.4,333.9 636.0,333.0 636.5,335.6 637.1,330.5 637.6,329.7 638.2,328.9 638.7,330.4 639.3,330.3 639.8,326.6 640.4,323.8 640.9,322.8 641.5,323.2 642.0,318.9 642.6,320.3 643.1,318.5 643.7,314.8 644.2,313.6 644.8,311.8 645.3,310.6 645.9,304.5 646.4,304.4 647.0,298.9 647.5,294.8 648.1,292.3 648.6,288.2 649.2,283.6 649.7,279.3 650.3,277.1 650.8,277.1 651.4,274.8 651.9,270.1 652.5,267.8 653.0,262.6 653.6,260.3 654.1,257.8 654.7,253.0 655.2,249.9 655.8,247.8 656.3,243.6 656.9,239.0 657.4,237.6 658.0,233.7 658.5,233.0 659.1,230.0 659.6,228.6 660.2,228.4 660.7,227.2 661.3,225.8 661.8,225.6 662.4,226.6 662.9,226.1 663.5,226.8 664.0,222.8 664.6,225.0 665.1,226.3 665.7,228.8 666.2,230.0 666.8,232.0 667.3,235.5 667.9,236.1 668.4,235.0 669.0,238.3 669.5,237.5 670.1,234.8 670.6,235.7 671.2,232.3" fill="none" stroke="#ff7f0e" stroke-opacity="0.95" stroke-width="1.4" stroke-linejoin="round"/>
<polyline points="38.7,386.2 39.2,385.1 39.8,384.5 40.3,384.5 40.9,384.0 41.4,384.4 42.0,384.1 42.5,383.8 43.1,383.1 43.6,381.0 44.2,383.0 44.7,381.5 45.3,382.5 45.8,382.8 46.4,382.0 46.9,381.3 47.5,381.1 48.0,380.9 48.6,380.3 49.1,380.0 49.7,379.5 50.2,380.5 50.8,379.5 51.3,379.7 51.9,378.7 52.4,378.6 53.0,378.1 53.5,378.2 54.1,378.1 54.6,377.4 55.2,376.5 55.7,376.1 56.3,377.2 56.8,375.7 57.4,375.4 57.9,376.1 58.5,375.5 59.0,374.8 59.6,373.9 60.1,375.1 60.7,373.6 61.2,373.3 61.8,372.4 62.3,371.2 62.9,370.8 63.4,371.4 64.0,371.0 64.5,370.1 65.1,369.1 65.6,368.5 66.2,368.7 66.7,367.6 67.3,368.5 67.8,368.2 68.4,368.8 68.9,367.2 69.5,365.9 70.0,365.3 70.6,363.4 71.1,364.7 71.7,364.6 72.2,365.0 72.8,364.4 73.3,364.1 73.9,363.6 74.4,363.5 75.0,363.7 75.5,361.9 76.1,362.0 76.6,361.1 77.2,362.6 77.7,362.1 78.3,361.5 78.8,360.1 79.4,360.6 79.9,360.0 80.5,359.9 81.0,359.5 81.6,359.6 82.1,358.7 82.7,359.2 83.2,358.5 83.8,357.9 84.3,357.7 84.9,357.2 85.4,357.7 86.0,356.7 86.5,356.7 87.1,356.0 87.6,355.0 88.2,356.0 88.7,354.4 89.3,355.1 89.8,354.4 90.4,352.7 90.9,352.7 91.5,352.5 92.0,351.8 92.6,351.0 93.1,351.7 93.7,350.6 94.2,350.5 94.8,349.5 95.3,349.5 95.9,348.3 96.4,348.2 97.0,347.9 97.5,346.9 98.1,345.8 98.6,344.3 99.2,343.7 99.7,342.2 100.3,340.1 100.8,337.9 101.4,336.6 101.9,335.6 102.5,331.8 103.0,330.0 103.6,327.7 104.1,323.4 104.7,322.2 105.2,318.8 105.8,317.1 106.3,313.0 106.9,309.6 107.4,306.8 108.0,304.0 108.5,300.6 109.1,298.1 109.6,294.7 110.2,293.0 110.7,291.3 111.3,289.9 111.8,287.0 112.4,284.4 112.9,282.4 113.5,280.4 114.0,278.5 114.6,276.6 115.1,274.8 115.7,272.9 116.2,271.1 116.8,269.4 117.3,267.6 117.9,265.8 118.4,264.1 119.0,262.4 119.5,260.6 120.1,258.8 120.6,257.1 121.2,255.3 121.7,253.4 122.3,251.6 122.8,249.7 123.4,247.8 123.9,245.8 124.5,243.8 125.0,241.7 125.6,239.6 126.1,237.4 126.7,235.0 127.2,232.6 127.8,230.1 128.3,227.6 128.9,225.0 129.4,222.5 130.0,220.1 130.5,217.7 131.1,215.4 131.6,213.3 132.2,211.3 132.7,209.4 133.3,207.6 133.8,205.9 134.4,204.2 134.9,202.6 135.5,201.0 136.0,199.4 136.6,197.8 137.1,196.2 137.7,194.6 138.2,193.0 138.8,191.3 139.3,189.5 139.9,187.7 140.4,185.9 141.0,184.0 141.5,182.1 142.1,180.2 142.6,178.3 143.2,176.4 143.7,174.4 144.3,172.5 144.8,170.5 145.4,168.6 145.9,166.6 146.5,164.6 147.0,162.5 147.6,160.5 148.1,158.5 148.7,156.4 149.2,154.3 149.8,152.3 150.3,150.2 150.9,148.0 151.4,145.7 152.0,143.4 152.5,141.4 153.1,139.7 153.6,138.4 154.2,137.2 154.7,136.1 155.3,135.1 155.8,134.2 156.4,133.4 156.9,132.6 157.5,131.9 158.0,131.2 158.6,130.7 159.1,130.4 159.7,130.2 160.2,130.0 160.8,129.8 161.3,129.7 161.9,129.6 162.4,129.6 163.0,129.6 163.5,129.7 164.1,129.7 164.6,129.8 165.2,129.9 165.7,130.1 166.3,130.2 166.8,130.3 167.4,130.5 167.9,130.7 168.5,131.0 169.0,131.3 169.6,131.7 170.1,132.1 170.7,132.6 171.2,133.2 171.8,133.8 172.3,134.5 172.9,135.2 173.4,135.9 174.0,136.6 174.5,137.3 175.1,138.1 175.6,138.9 176.2,139.7 176.7,140.6 177.3,141.6 177.8,142.7 178.4,143.8 178.9,144.8 179.5,145.9 180.0,146.8 180.6,147.7 181.1,148.7 181.7,149.7 182.2,150.8 182.8,152.1 183.3,153.4 183.9,154.8 184.4,156.3 185.0,157.8 185.5,159.3 186.1,160.8 186.6,162.3 187.2,163.9 187.7,165.5 188.3,167.1 188.8,168.7 189.4,170.4 189.9,172.0 190.5,173.6 191.0,175.1 191.6,176.7 192.1,178.2 192.7,179.8 193.2,181.3 193.8,182.8 194.3,184.3 194.9,185.8 195.4,187.2 196.0,188.6 196.5,189.9 197.1,191.2 197.6,192.4 198.2,193.5 198.7,194.6 199.3,195.7 199.8,196.7 200.4,197.8 200.9,198.9 201.5,200.0 202.0,201.2 202.6,202.3 203.1,203.5 203.7,204.6 204.2,205.8 204.8,206.9 205.3,208.1 205.9,209.2 206.4,210.3 207.0,211.4 207.5,212.4 208.1,213.4 208.6,214.4 209.2,215.4 209.7,216.3 210.3,217.2 210.8,218.1 211.4,219.0 211.9,219.9 212.5,220.8 213.0,221.7 213.6,222.7 214.1,223.5 214.7,224.4 215.2,225.1 215.8,225.8 216.3,226.4 216.9,226.9 217.4,227.5 218.0,228.0 218.5,228.4 219.1,228.7 219.6,228.8 220.2,228.8 220.7,228.7 221.3,228.5 221.8,228.3 222.4,228.0 222.9,227.6 223.5,226.9 224.0,225.9 224.6,224.9 225.1,223.7 225.7,222.6 226.2,221.5 226.8,220.2 227.3,218.9 227.9,217.5 228.4,216.2 229.0,215.0 229.5,213.9 230.1,212.7 230.6,211.6 231.2,210.7 231.7,210.1 232.3,210.0 232.8,210.1 233.4,210.3 233.9,210.5 234.5,210.7 235.0,211.0 235.6,211.4 236.1,211.9 236.7,212.5 237.2,213.2 237.8,213.8 238.3,214.4 238.9,214.9 239.4,215.5 240.0,216.1 240.5,216.8 241.1,217.6 241.6,218.5 242.2,219.5 242.7,220.5 243.3,221.6 243.8,222.7 244.4,223.9 244.9,225.1 245.5,226.5 246.0,227.9 246.6,229.5 247.1,231.4 247.7,233.7 248.2,236.1 248.8,238.5 249.3,240.7 249.9,242.7 250.4,244.3 251.0,245.7 251.5,246.9 252.1,248.2 252.6,249.5 253.2,251.0 253.7,252.6 254.3,254.4 254.8,256.2 255.4,257.8 255.9,259.3 256.5,260.4 257.0,261.4 257.6,262.3 258.1,263.2 258.7,264.0 259.2,264.9 259.8,265.6 260.3,266.4 260.9,267.1 261.4,267.7 262.0,268.4 262.5,269.0 263.1,269.5 263.6,270.1 264.2,270.6 264.7,271.1 265.3,271.6 265.8,272.1 266.4,272.6 266.9,273.0 267.5,273.5 268.0,273.9 268.6,274.3 269.1,274.7 269.7,275.1 270.2,275.4 270.8,275.8 271.3,276.1 271.9,276.5 272.4,276.8 273.0,277.1 273.5,277.4 274.1,277.7 274.6,278.0 275.2,278.3 275.7,278.6 276.3,278.9 276.8,279.2 277.4,279.5 277.9,279.8 278.5,280.1 279.0,280.4 279.6,280.7 280.1,281.0 280.7,281.3 281.2,281.6 281.8,281.9 282.3,282.2 282.9,282.6 283.4,282.9 284.0,283.2 284.5,283.6 285.1,283.9 285.6,284.2 286.2,284.6 286.7,284.9 287.3,285.2 287.8,285.6 288.4,285.9 288.9,286.2 289.5,286.6 290.0,286.9 290.6,287.3 291.1,287.6 291.7,288.0 292.2,288.3 292.8,288.7 293.3,289.1 293.9,289.4 294.4,289.8 295.0,290.2 295.5,290.6 296.1,290.9 296.6,291.3 297.2,291.7 297.7,292.1 298.3,292.4 298.8,292.8 299.4,293.2 299.9,293.6 300.5,294.2 301.0,294.3 301.6,294.6 302.1,295.5 302.7,295.0 303.2,295.3 303.8,296.4 304.3,296.7 304.9,297.2 305.4,296.6 306.0,297.8 306.5,297.8 307.1,298.7 307.6,297.7 308.2,298.6 308.7,298.6 309.3,298.3 309.8,298.9 310.4,299.9 310.9,299.5 311.5,299.6 312.0,300.5 312.6,300.9 313.1,301.1 313.7,300.7 314.2,301.3 314.8,302.1 315.3,301.8 315.9,302.1 316.4,303.3 317.0,304.1 317.5,303.6 318.1,303.6 318.6,304.7 319.2,305.5 319.7,306.6 320.3,307.5 320.8,307.8 321.4,308.1 321.9,309.0 322.5,309.0 323.0,309.8 323.6,310.0 324.1,311.8 324.7,311.4 325.2,311.0 325.8,311.3 326.3,311.9 326.9,311.8 327.4,312.5 328.0,312.8 328.5,313.8 329.1,313.6 329.6,313.7 330.2,313.8 330.7,314.1 331.3,314.9 331.8,315.1 332.4,316.0 332.9,315.5 333.5,316.5 334.0,316.5 334.6,316.6 335.1,316.1 335.7,316.7 336.2,317.8 336.8,318.4 337.3,318.2 337.9,318.7 338.4,318.5 339.0,318.8 339.5,319.0 340.1,320.0 340.6,320.1 341.2,320.1 341.7,320.4 342.3,321.0 342.8,321.2 343.4,321.0 343.9,322.4 344.5,322.1 345.0,322.3 345.6,323.2 346.1,323.3 346.7,323.1 347.2,323.6 347.8,323.2 348.3,323.7 348.9,323.3 349.4,325.1 350.0,324.1 350.5,325.5 351.1,325.1 351.6,325.4 352.2,326.0 352.7,326.6 353.3,327.0 353.8,327.8 354.4,327.6 354.9,328.1 355.5,327.9 356.0,328.8 356.6,329.0 357.1,329.1 357.7,329.7 358.2,330.1 358.8,330.7 359.3,331.3 359.9,331.3 360.4,331.7 361.0,332.8 361.5,332.3 362.1,333.2 362.6,334.6 363.2,333.3 363.7,334.6 364.3,335.6 364.8,335.1 365.4,337.3 365.9,335.6 366.5,337.6 367.0,338.1 367.6,338.2 368.1,338.0 368.7,338.6 369.2,338.3 369.8,339.3 370.3,338.7 370.9,339.2 371.4,339.9 372.0,339.2 372.5,339.7 373.1,340.0 373.6,339.5 374.2,340.7 374.7,340.5 375.3,339.8 375.8,340.6 376.4,340.4 376.9,340.6 377.5,341.0 378.0,340.8 378.6,341.6 379.1,341.1 379.7,342.0 380.2,341.7 380.8,342.3 381.3,341.9 381.9,342.2 382.4,342.2 383.0,343.2 383.5,343.6 384.1,344.5 384.6,344.5 385.2,344.4 385.7,344.6 386.3,345.2 386.8,345.4 387.4,346.4 387.9,346.6 388.5,346.3 389.0,346.7 389.6,348.0 390.1,347.9 390.7,348.1 391.2,349.0 391.8,348.7 392.3,349.1 392.9,349.4 393.4,349.1 394.0,350.6 394.5,350.0 395.1,350.6 395.6,350.9 396.2,351.8 396.7,351.8 397.3,352.1 397.8,351.7 398.4,352.7 398.9,352.5 399.5,353.5 400.0,353.9 400.6,354.0 401.1,355.2 401.7,354.9 402.2,355.3 402.8,355.4 403.3,355.6 403.9,356.4 404.4,356.8 405.0,356.1 405.5,357.5 406.1,357.6 406.6,358.2 407.2,358.3 407.7,358.0 408.3,358.4 408.8,360.1 409.4,359.8 409.9,359.5 410.5,360.7 411.0,360.8 411.6,360.6 412.1,360.8 412.7,361.5 413.2,362.7 413.8,363.0 414.3,363.4 414.9,364.1 415.4,364.6 416.0,363.9 416.5,365.1 417.1,365.3 417.6,365.6 418.2,366.3 418.7,367.0 419.3,367.3 419.8,367.3 420.4,368.1 420.9,369.6 421.5,368.7 422.0,368.9 422.6,370.1 423.1,370.7 423.7,371.1 424.2,370.8 424.8,372.2 425.3,371.8 425.9,372.1 426.4,372.8 427.0,373.4 427.5,374.2 428.1,374.7 428.6,374.8 429.2,375.7 429.7,375.8 430.3,376.6 430.8,376.2 431.4,376.6 431.9,378.1 432.5,377.5 433.0,378.3 433.6,378.7 434.1,378.9 434.7,379.3 435.2,380.4 435.8,379.1 436.3,380.9 436.9,381.8 437.4,381.2 438.0,381.5 438.5,382.1 439.1,382.6 439.6,381.1 440.2,381.0 440.7,380.2 441.3,379.3 441.8,378.5 442.4,377.5 442.9,376.3 443.5,375.1 444.0,373.3 444.6,370.9 445.1,368.4 445.7,366.3 446.2,364.2 446.8,362.2 447.3,360.0 447.9,357.5 448.4,354.8 449.0,352.1 449.5,349.6 450.1,347.6 450.6,346.0 451.2,344.5 451.7,343.3 452.3,342.1 452.8,340.9 453.4,339.9 453.9,339.0 454.5,338.1 455.0,337.1 455.6,336.2 456.1,335.3 456.7,334.4 457.2,333.5 457.8,332.3 458.3,330.7 458.9,328.7 459.4,326.5 460.0,324.0 460.5,321.4 461.1,318.8 461.6,316.1 462.2,313.0 462.7,309.6 463.3,305.6 463.8,300.9 464.4,294.4 464.9,290.4 465.5,287.4 466.0,284.6 466.6,282.2 467.1,280.3 467.7,279.2 468.2,278.3 468.8,277.0 469.3,275.3 469.9,273.3 470.4,270.9 471.0,268.1 471.5,265.2 472.1,262.2 472.6,259.2 473.2,256.2 473.7,253.3 474.3,249.8 474.8,246.2 475.4,242.9 475.9,240.4 476.5,238.6 477.0,239.5 477.6,245.4 478.1,252.5 478.7,261.5 479.2,271.1 479.8,280.3 480.3,290.0 480.9,299.4 481.4,308.1 482.0,315.8 482.5,322.9 483.1,329.1 483.6,334.3 484.2,339.0 484.7,343.0 485.3,346.2 485.8,344.1 486.4,338.6 486.9,332.5 487.5,326.3 488.0,319.7 488.6,312.5 489.1,304.2 489.7,290.3 490.2,269.3 490.8,252.2 491.3,234.6 491.9,224.8 492.4,227.6 493.0,241.0 493.5,255.6 494.1,263.8 494.6,270.0 495.2,273.6 495.7,276.6 496.3,279.4 496.8,280.5 497.4,280.2 497.9,278.0 498.5,274.2 499.0,269.8 499.6,265.9 500.1,262.5 500.7,259.5 501.2,256.9 501.8,255.4 502.3,255.9 502.9,258.1 503.4,261.1 504.0,265.2 504.5,268.5 505.1,268.5 505.6,264.9 506.2,258.9 506.7,249.4 507.3,241.8 507.8,237.1 508.4,235.4 508.9,236.7 509.5,239.4 510.0,242.6 510.6,245.8 511.1,249.7 511.7,253.7 512.2,256.3 512.8,257.7 513.3,258.6 513.9,258.3 514.4,256.7 515.0,254.5 515.5,252.5 516.1,250.3 516.6,248.0 517.2,246.3 517.7,246.2 518.3,247.2 518.8,248.7 519.4,250.1 519.9,251.3 520.5,252.6 521.0,253.9 521.6,254.8 522.1,255.3 522.7,255.7 523.2,255.9 523.8,256.1 524.3,256.2 524.9,256.2 525.4,256.1 526.0,256.1 526.5,256.3 527.1,257.3 527.6,258.8 528.2,260.7 528.7,262.8 529.3,264.8 529.8,266.0 530.4,265.0 530.9,261.6 531.5,256.2 532.0,247.5 532.6,235.5 533.1,222.4 533.7,210.3 534.2,196.4 534.8,181.5 535.3,169.2 535.9,163.0 536.4,165.7 537.0,172.9 537.5,181.4 538.1,191.5 538.6,202.9 539.2,214.6 539.7,226.0 540.3,232.5 540.8,236.5 541.4,236.6 541.9,233.9 542.5,231.6 543.0,229.3 543.6,229.0 544.1,230.0 544.7,231.6 545.2,234.2 545.8,237.3 546.3,240.3 546.9,243.7 547.4,247.6 548.0,252.9 548.5,259.9 549.1,267.2 549.6,274.8 550.2,281.5 550.7,285.1 551.3,286.8 551.8,286.6 552.4,284.1 552.9,279.3 553.5,273.6 554.0,266.4 554.6,255.3 555.1,242.8 555.7,231.6 556.2,224.2 556.8,220.5 557.3,217.5 557.9,215.6 558.4,214.5 559.0,213.6 559.5,213.0 560.1,212.8 560.6,214.0 561.2,216.7 561.7,219.7 562.3,221.9 562.8,224.0 563.4,224.5 563.9,218.4 564.5,209.3 565.0,201.0 565.6,196.9 566.1,194.9 566.7,193.3 567.2,191.2 567.8,187.9 568.3,183.4 568.9,178.4 569.4,173.9 570.0,170.1 570.5,166.7 571.1,162.9 571.6,158.0 572.2,150.2 572.7,135.4 573.3,122.7 573.8,111.0 574.4,100.5 574.9,93.1 575.5,86.7 576.0,79.3 576.6,61.5 577.1,45.2 577.7,35.7 578.2,28.5 578.8,23.3 579.3,20.3 579.9,21.8 580.4,26.1 581.0,31.9 581.5,39.5 582.1,51.0 582.6,63.5 583.2,75.6 583.7,86.9 584.3,99.0 584.8,113.5 585.4,123.3 585.9,131.4 586.5,140.0 587.0,151.4 587.6,165.7 588.1,181.5 588.7,197.8 589.2,215.1 589.8,232.6 590.3,248.6 590.9,262.8 591.4,276.7 592.0,289.9 592.5,301.4 593.1,311.2 593.6,319.9 594.2,327.5 594.7,333.9 595.3,339.9 595.8,345.1 596.4,349.0 596.9,351.8 597.5,354.1 598.0,356.1 598.6,358.0 599.1,359.8 599.7,361.4 600.2,362.6 600.8,363.2 601.3,363.1 601.9,362.4 602.4,360.8 603.0,359.2 603.5,358.6 604.1,359.9 604.6,362.3 605.2,364.4 605.7,365.8 606.3,366.6 606.8,367.1 607.4,367.5 607.9,368.0 608.5,368.5 609.0,369.3 609.6,370.3 610.1,371.6 610.7,373.0 611.2,374.4 611.8,376.2 612.3,378.2 612.9,380.3 613.4,382.8 614.0,379.7 614.5,376.2 615.1,372.2 615.6,366.4 616.2,359.3 616.7,353.0 617.3,349.3 617.8,349.1 618.4,349.7 618.9,350.5 619.5,351.4 620.0,352.3 620.6,352.9 621.1,353.0 621.7,352.7 622.2,352.1 622.8,351.2 623.3,350.2 623.9,349.0 624.4,347.9 625.0,346.7 625.5,344.6 626.1,346.9 626.6,347.0 627.2,342.9 627.7,343.3 628.3,341.8 628.8,343.1 629.4,341.3 629.9,340.2 630.5,339.1 631.0,338.9 631.6,336.8 632.1,338.3 632.7,335.9 633.2,336.8 633.8,335.6 634.3,336.1 634.9,333.9 635.4,334.3 636.0,330.8 636.5,331.7 637.1,329.3 637.6,328.4 638.2,326.7 638.7,326.1 639.3,320.4 639.8,321.6 640.4,317.2 640.9,318.6 641.5,312.3 642.0,311.3 642.6,308.1 643.1,310.2 643.7,303.9 644.2,303.4 644.8,300.2 645.3,296.1 645.9,295.4 646.4,294.0 647.0,289.9 647.5,288.4 648.1,283.6 648.6,280.9 649.2,277.2 649.7,275.0 650.3,273.9 650.8,268.7 651.4,265.5 651.9,261.4 652.5,258.4 653.0,258.4 653.6,252.1 654.1,249.5 654.7,247.7 655.2,244.4 655.8,244.8 656.3,236.5 656.9,237.5 657.4,235.6 658.0,231.1 658.5,229.7 659.1,229.2 659.6,228.8 660.2,223.3 660.7,220.1 661.3,220.9 661.8,218.4 662.4,211.1 662.9,202.6 663.5,201.4 664.0,194.0 664.6,192.3 665.1,190.0 665.7,191.1 666.2,193.7 666.8,199.2 667.3,201.5 667.9,198.1 668.4,200.9 669.0,205.7 669.5,203.8 670.1,203.3 670.6,205.7 671.2,205.8" fill="none" stroke="#2ca02c" stroke-opacity="0.95" stroke-width="1.4" stroke-linejoin="round"/>
<polyline points="38.7,384.1 39.2,383.4 39.8,383.3 40.3,382.9 40.9,383.5 41.4,381.9 42.0,382.2 42.5,382.1 43.1,383.6 43.6,382.2 44.2,381.3 44.7,381.8 45.3,381.3 45.8,381.8 46.4,380.8 46.9,382.1 47.5,381.2 48.0,379.2 48.6,378.5 49.1,379.7 49.7,378.9 50.2,377.9 50.8,374.0 51.3,375.1 51.9,374.2 52.4,377.6 53.0,377.3 53.5,374.5 54.1,376.9 54.6,374.7 55.2,372.1 55.7,375.1 56.3,373.3 56.8,373.1 57.4,371.0 57.9,372.0 58.5,370.5 59.0,372.8 59.6,372.0 60.1,372.6 60.7,371.5 61.2,369.9 61.8,370.6 62.3,369.2 62.9,369.9 63.4,369.1 64.0,367.0 64.5,367.7 65.1,367.2 65.6,366.3 66.2,367.2 66.7,367.7 67.3,364.7 67.8,364.2 68.4,361.4 68.9,363.5 69.5,362.7 70.0,357.2 70.6,362.8 71.1,362.8 71.7,360.3 72.2,360.5 72.8,359.2 73.3,361.5 73.9,357.6 74.4,359.2 75.0,362.3 75.5,359.0 76.1,359.3 76.6,358.0 77.2,356.1 77.7,357.5 78.3,357.9 78.8,355.3 79.4,357.1 79.9,358.2 80.5,357.6 81.0,353.1 81.6,353.6 82.1,352.3 82.7,356.1 83.2,355.0 83.8,354.8 84.3,352.0 84.9,351.2 85.4,352.7 86.0,352.4 86.5,350.5 87.1,351.6 87.6,352.0 88.2,350.8 88.7,348.3 89.3,346.1 89.8,348.5 90.4,346.2 90.9,347.2 91.5,346.3 92.0,345.3 92.6,346.8 93.1,345.0 93.7,344.6 94.2,342.2 94.8,342.1 95.3,342.7 95.9,340.2 96.4,339.1 97.0,339.7 97.5,341.1 98.1,338.4 98.6,339.0 99.2,334.6 99.7,332.2 100.3,328.2 100.8,327.0 101.4,327.7 101.9,323.7 102.5,322.1 103.0,319.9 103.6,316.5 104.1,313.9 104.7,312.1 105.2,310.6 105.8,308.0 106.3,305.7 106.9,302.8 107.4,299.1 108.0,297.6 108.5,295.8 109.1,293.5 109.6,291.4 110.2,289.2 110.7,287.1 111.3,285.1 111.8,283.1 112.4,281.2 112.9,279.2 113.5,277.3 114.0,275.5 114.6,273.6 115.1,271.7 115.7,269.9 116.2,268.1 116.8,266.2 117.3,264.4 117.9,262.5 118.4,260.6 119.0,258.7 119.5,256.8 120.1,254.8 120.6,252.8 121.2,250.8 121.7,248.7 122.3,246.6 122.8,244.4 123.4,242.1 123.9,239.8 124.5,237.3 125.0,234.7 125.6,231.9 126.1,229.0 126.7,226.1 127.2,223.2 127.8,220.3 128.3,217.5 128.9,214.8 129.4,212.2 130.0,209.8 130.5,207.5 131.1,205.2 131.6,203.0 132.2,200.9 132.7,198.8 133.3,196.6 133.8,194.5 134.4,192.4 134.9,190.2 135.5,188.0 136.0,185.8 136.6,183.6 137.1,181.4 137.7,179.1 138.2,176.9 138.8,174.7 139.3,172.6 139.9,170.4 140.4,168.4 141.0,166.0 141.5,164.3 142.1,162.2 142.6,160.1 143.2,157.9 143.7,155.8 144.3,152.9 144.8,151.6 145.4,149.1 145.9,146.9 146.5,144.4 147.0,141.9 147.6,140.2 148.1,138.7 148.7,137.1 149.2,135.0 149.8,133.5 150.3,132.7 150.9,130.9 151.4,130.5 152.0,128.9 152.5,127.7 153.1,127.2 153.6,126.4 154.2,124.9 154.7,124.8 155.3,123.6 155.8,123.3 156.4,122.1 156.9,121.2 157.5,121.1 158.0,120.7 158.6,120.4 159.1,119.8 159.7,119.2 160.2,118.9 160.8,118.9 161.3,119.1 161.9,119.1 162.4,119.4 163.0,119.1 163.5,119.9 164.1,120.0 164.6,120.8 165.2,120.6 165.7,120.5 166.3,120.9 166.8,120.7 167.4,121.1 167.9,121.1 168.5,122.2 169.0,122.4 169.6,122.4 170.1,123.2 170.7,124.0 171.2,124.5 171.8,125.1 172.3,125.4 172.9,126.1 173.4,126.9 174.0,127.6 174.5,127.7 175.1,128.2 175.6,129.3 176.2,129.3 176.7,130.3 177.3,130.7 177.8,131.4 178.4,132.3 178.9,132.7 179.5,133.4 180.0,133.8 180.6,134.7 181.1,135.8 181.7,136.9 182.2,137.7 182.8,138.9 183.3,139.3 183.9,140.2 184.4,141.4 185.0,142.2 185.5,143.2 186.1,144.0 186.6,145.6 187.2,146.2 187.7,147.8 188.3,148.5 188.8,150.3 189.4,151.0 189.9,152.6 190.5,153.3 191.0,154.9 191.6,156.6 192.1,157.5 192.7,159.1 193.2,160.4 193.8,161.3 194.3,163.4 194.9,164.8 195.4,165.9 196.0,167.8 196.5,169.0 197.1,170.5 197.6,172.4 198.2,173.8 198.7,176.0 199.3,176.6 199.8,178.7 200.4,179.9 200.9,181.3 201.5,182.6 202.0,183.9 202.6,185.1 203.1,186.3 203.7,187.5 204.2,188.6 204.8,189.7 205.3,190.8 205.9,191.8 206.4,192.8 207.0,193.7 207.5,194.7 208.1,195.5 208.6,196.4 209.2,197.2 209.7,198.0 210.3,198.8 210.8,199.6 211.4,200.3 211.9,201.0 212.5,201.7 213.0,202.4 213.6,203.1 214.1,203.7 214.7,204.3 215.2,204.8 215.8,205.2 216.3,205.7 216.9,206.2 217.4,206.6 218.0,207.0 218.5,207.4 219.1,207.6 219.6,207.7 220.2,207.7 220.7,207.5 221.3,207.2 221.8,206.8 222.4,206.2 222.9,205.7 223.5,205.0 224.0,204.3 224.6,203.3 225.1,201.9 225.7,200.1 226.2,198.2 226.8,196.1 227.3,194.1 227.9,192.3 228.4,190.5 229.0,188.5 229.5,186.3 230.1,184.3 230.6,182.4 231.2,181.0 231.7,180.2 232.3,180.1 232.8,180.9 233.4,182.4 233.9,183.9 234.5,185.3 235.0,187.0 235.6,188.8 236.1,190.5 236.7,192.2 237.2,193.6 237.8,195.0 238.3,196.3 238.9,197.5 239.4,198.7 240.0,199.8 240.5,200.9 241.1,201.8 241.6,202.7 242.2,203.6 242.7,204.4 243.3,205.2 243.8,206.1 244.4,207.0 244.9,207.9 245.5,209.0 246.0,210.1 246.6,211.5 247.1,213.1 247.7,215.0 248.2,217.0 248.8,219.2 249.3,221.5 249.9,224.1 250.4,226.8 251.0,229.3 251.5,231.3 252.1,233.1 252.6,234.6 253.2,236.1 253.7,237.4 254.3,238.7 254.8,239.9 255.4,241.0 255.9,242.1 256.5,243.1 257.0,244.1 257.6,244.9 258.1,245.7 258.7,246.4 259.2,247.1 259.8,247.7 260.3,248.3 260.9,248.9 261.4,249.5 262.0,250.0 262.5,250.5 263.1,251.0 263.6,251.4 264.2,251.8 264.7,252.2 265.3,252.5 265.8,252.7 266.4,253.1 266.9,253.5 267.5,253.9 268.0,254.3 268.6,254.8 269.1,255.3 269.7,255.9 270.2,256.4 270.8,256.9 271.3,257.4 271.9,257.9 272.4,258.4 273.0,258.8 273.5,259.3 274.1,259.7 274.6,260.2 275.2,260.6 275.7,261.0 276.3,261.5 276.8,261.9 277.4,262.3 277.9,262.7 278.5,263.2 279.0,263.6 279.6,264.0 280.1,265.0 280.7,264.4 281.2,265.1 281.8,265.9 282.3,266.2 282.9,266.4 283.4,266.1 284.0,267.1 284.5,266.9 285.1,268.5 285.6,267.8 286.2,268.3 286.7,268.1 287.3,268.7 287.8,268.7 288.4,269.9 288.9,269.8 289.5,270.4 290.0,270.4 290.6,270.9 291.1,272.1 291.7,271.8 292.2,272.1 292.8,273.5 293.3,273.6 293.9,274.5 294.4,275.6 295.0,275.6 295.5,276.8 296.1,276.8 296.6,278.2 297.2,278.6 297.7,278.4 298.3,278.8 298.8,278.9 299.4,279.5 299.9,280.0 300.5,279.2 301.0,280.2 301.6,279.5 302.1,279.8 302.7,279.6 303.2,281.1 303.8,280.5 304.3,280.7 304.9,280.5 305.4,281.3 306.0,280.3 306.5,281.3 307.1,282.5 307.6,282.0 308.2,282.6 308.7,283.5 309.3,283.6 309.8,284.6 310.4,285.7 310.9,286.2 311.5,287.0 312.0,287.4 312.6,288.4 313.1,288.9 313.7,290.0 314.2,290.2 314.8,290.2 315.3,289.7 315.9,291.1 316.4,291.3 317.0,290.9 317.5,290.6 318.1,291.0 318.6,291.9 319.2,291.3 319.7,291.6 320.3,292.0 320.8,292.5 321.4,292.2 321.9,292.3 322.5,292.4 323.0,293.4 323.6,293.4 324.1,293.3 324.7,293.2 325.2,293.7 325.8,294.6 326.3,294.5 326.9,295.5 327.4,295.7 328.0,296.2 328.5,296.7 329.1,297.1 329.6,297.1 330.2,297.7 330.7,299.2 331.3,298.3 331.8,299.0 332.4,300.0 332.9,300.0 333.5,300.2 334.0,300.4 334.6,301.4 335.1,301.9 335.7,302.4 336.2,302.3 336.8,303.0 337.3,302.6 337.9,303.4 338.4,303.4 339.0,304.0 339.5,304.6 340.1,305.0 340.6,304.6 341.2,305.8 341.7,305.5 342.3,305.6 342.8,306.3 343.4,306.1 343.9,307.0 344.5,307.4 345.0,307.4 345.6,308.7 346.1,308.0 346.7,308.7 347.2,307.2 347.8,309.5 348.3,308.7 348.9,307.7 349.4,310.4 350.0,311.2 350.5,309.1 351.1,309.6 351.6,311.7 352.2,313.1 352.7,313.3 353.3,314.4 353.8,315.3 354.4,314.6 354.9,314.3 355.5,311.3 356.0,313.9 356.6,314.9 357.1,316.3 357.7,316.6 358.2,316.7 358.8,316.9 359.3,318.3 359.9,318.2 360.4,318.7 361.0,319.2 361.5,318.5 362.1,318.3 362.6,316.9 363.2,321.1 363.7,320.7 364.3,320.9 364.8,324.9 365.4,321.4 365.9,322.6 366.5,323.6 367.0,322.2 367.6,324.3 368.1,327.0 368.7,326.3 369.2,326.3 369.8,326.6 370.3,326.4 370.9,327.9 371.4,324.3 372.0,326.9 372.5,327.9 373.1,329.4 373.6,329.0 374.2,329.8 374.7,326.6 375.3,331.3 375.8,333.1 376.4,332.2 376.9,330.3 377.5,330.0 378.0,331.8 378.6,330.4 379.1,333.0 379.7,331.6 380.2,333.9 380.8,334.7 381.3,330.5 381.9,333.8 382.4,332.7 383.0,332.0 383.5,333.3 384.1,334.0 384.6,335.9 385.2,332.7 385.7,336.3 386.3,337.7 386.8,336.0 387.4,336.1 387.9,335.6 388.5,334.2 389.0,336.7 389.6,336.7 390.1,337.3 390.7,339.9 391.2,337.7 391.8,337.6 392.3,339.3 392.9,335.7 393.4,336.2 394.0,337.5 394.5,337.4 395.1,339.5 395.6,338.5 396.2,341.5 396.7,341.5 397.3,340.9 397.8,339.7 398.4,341.4 398.9,342.0 399.5,336.9 400.0,342.2 400.6,343.0 401.1,342.8 401.7,345.0 402.2,345.0 402.8,342.8 403.3,344.5 403.9,343.8 404.4,346.2 405.0,344.8 405.5,347.7 406.1,347.5 406.6,348.9 407.2,348.0 407.7,347.0 408.3,352.1 408.8,350.4 409.4,353.4 409.9,353.1 410.5,354.5 411.0,357.0 411.6,356.1 412.1,358.4 412.7,355.6 413.2,359.5 413.8,356.8 414.3,360.0 414.9,361.1 415.4,362.4 416.0,365.0 416.5,361.2 417.1,364.5 417.6,364.1 418.2,367.2 418.7,365.7 419.3,367.3 419.8,366.6 420.4,368.4 420.9,369.2 421.5,367.7 422.0,368.6 422.6,367.0 423.1,366.8 423.7,370.7 424.2,369.1 424.8,371.7 425.3,370.5 425.9,370.9 426.4,371.3 427.0,371.7 427.5,372.1 428.1,372.6 428.6,373.0 429.2,373.4 429.7,373.8 430.3,374.3 430.8,374.7 431.4,375.2 431.9,375.7 432.5,376.1 433.0,376.5 433.6,377.0 434.1,377.5 434.7,378.0 435.2,378.5 435.8,379.1 436.3,379.7 436.9,380.2 437.4,380.8 438.0,381.3 438.5,381.7 439.1,382.0 439.6,381.8 440.2,381.0 440.7,380.0 441.3,379.0 441.8,377.9 442.4,376.7 442.9,375.3 443.5,373.7 444.0,371.6 444.6,369.1 445.1,366.4 445.7,364.4 446.2,362.3 446.8,360.2 447.3,358.0 447.9,355.4 448.4,352.6 449.0,349.6 449.5,346.6 450.1,343.8 450.6,341.2 451.2,338.8 451.7,336.6 452.3,334.4 452.8,332.2 453.4,330.1 453.9,328.1 454.5,326.0 455.0,324.0 455.6,322.1 456.1,320.2 456.7,318.4 457.2,316.5 457.8,314.5 458.3,312.2 458.9,309.7 459.4,306.9 460.0,304.0 460.5,300.9 461.1,297.7 461.6,294.4 462.2,290.7 462.7,286.6 463.3,281.9 463.8,276.6 464.4,270.0 464.9,264.9 465.5,260.5 466.0,256.3 466.6,252.5 467.1,249.2 467.7,246.6 468.2,244.3 468.8,241.8 469.3,239.0 469.9,235.9 470.4,232.4 471.0,228.5 471.5,224.0 472.1,219.2 472.6,214.4 473.2,209.5 473.7,204.6 474.3,199.0 474.8,193.5 475.4,188.8 475.9,185.3 476.5,182.9 477.0,183.9 477.6,193.8 478.1,204.9 478.7,218.4 479.2,233.1 479.8,247.4 480.3,262.3 480.9,276.4 481.4,289.2 482.0,300.7 482.5,311.4 483.1,320.8 483.6,328.9 484.2,336.3 484.7,343.1 485.3,348.9 485.8,347.0 486.4,340.2 486.9,333.0 487.5,325.6 488.0,318.0 488.6,309.5 489.1,300.0 489.7,284.6 490.2,262.0 490.8,243.0 491.3,223.1 491.9,211.6 492.4,212.2 493.0,224.3 493.5,238.2 494.1,244.8 494.6,249.3 495.2,251.1 495.7,252.2 496.3,252.9 496.8,252.1 497.4,249.8 497.9,245.4 498.5,239.2 499.0,232.6 499.6,226.5 500.1,220.4 500.7,214.2 501.2,209.9 501.8,208.9 502.3,210.8 502.9,215.3 503.4,220.2 504.0,226.4 504.5,231.2 505.1,230.9 505.6,226.0 506.2,218.9 506.7,207.6 507.3,199.4 507.8,194.9 508.4,193.8 508.9,195.9 509.5,199.0 510.0,202.8 510.6,206.9 511.1,212.6 511.7,218.6 512.2,222.5 512.8,225.1 513.3,227.2 513.9,228.4 514.4,228.6 515.0,228.3 515.5,228.0 516.1,227.6 516.6,227.0 517.2,226.5 517.7,226.4 518.3,227.2 518.8,228.4 519.4,229.5 519.9,230.5 520.5,231.6 521.0,232.7 521.6,233.6 522.1,234.3 522.7,234.9 523.2,235.4 523.8,235.8 524.3,236.2 524.9,236.4 525.4,236.6 526.0,237.0 526.5,236.7 527.1,237.2 527.6,238.0 528.2,239.0 528.7,240.1 529.3,240.9 529.8,240.8 530.4,238.1 530.9,232.5 531.5,224.9 532.0,213.7 532.6,198.5 533.1,181.6 533.7,165.6 534.2,147.1 534.8,127.4 535.3,110.8 535.9,102.3 536.4,104.9 537.0,113.3 537.5,123.3 538.1,135.9 538.6,150.6 539.2,165.9 539.7,181.1 540.3,189.0 540.8,193.3 541.4,191.6 541.9,185.5 542.5,179.5 543.0,173.4 543.6,169.4 544.1,167.3 544.7,167.2 545.2,169.2 545.8,172.4 546.3,176.0 546.9,180.4 547.4,185.8 548.0,193.2 548.5,203.2 549.1,213.1 549.6,223.1 550.2,231.8 550.7,236.7 551.3,239.4 551.8,240.0 552.4,237.9 552.9,232.7 553.5,226.5 554.0,219.2 554.6,209.3 555.1,198.7 555.7,189.1 556.2,182.3 556.8,177.3 557.3,172.8 557.9,169.4 558.4,167.2 559.0,165.4 559.5,164.0 560.1,163.3 560.6,165.5 561.2,170.4 561.7,175.9 562.3,180.5 562.8,185.3 563.4,189.3 563.9,190.3 564.5,189.9 565.0,189.3 565.6,188.9 566.1,188.5 566.7,188.2 567.2,187.7 567.8,186.5 568.3,184.5 568.9,182.0 569.4,179.4 570.0,177.0 570.5,174.1 571.1,170.8 571.6,166.6 572.2,160.3 572.7,150.7 573.3,141.1 573.8,130.6 574.4,120.0 574.9,110.1 575.5,100.1 576.0,88.7 576.6,72.6 577.1,56.7 577.7,43.0 578.2,32.4 578.8,24.8 579.3,20.1 579.9,21.4 580.4,25.3 581.0,30.7 581.5,37.8 582.1,49.1 582.6,62.1 583.2,76.8 583.7,91.8 584.3,107.1 584.8,121.5 585.4,133.0 585.9,143.0 586.5,152.6 587.0,162.3 587.6,172.5 588.1,184.3 588.7,198.3 589.2,214.2 589.8,230.9 590.3,246.9 590.9,262.0 591.4,277.7 592.0,292.4 592.5,304.2 593.1,313.5 593.6,321.7 594.2,328.8 594.7,334.9 595.3,340.5 595.8,345.6 596.4,349.9 596.9,353.4 597.5,356.5 598.0,359.2 598.6,361.8 599.1,364.4 599.7,366.7 600.2,368.7 600.8,370.1 601.3,370.7 601.9,370.5 602.4,368.8 603.0,366.9 603.5,366.1 604.1,367.5 604.6,370.1 605.2,372.0 605.7,372.8 606.3,373.3 606.8,373.7 607.4,374.0 607.9,374.3 608.5,374.7 609.0,375.3 609.6,376.3 610.1,377.4 610.7,378.7 611.2,379.9 611.8,381.2 612.3,382.4 612.9,383.6 613.4,385.8 614.0,384.2 614.5,382.6 615.1,380.9 615.6,379.1 616.2,377.3 616.7,374.8 617.3,372.2 617.8,370.1 618.4,369.0 618.9,369.1 619.5,369.6 620.0,370.2 620.6,370.8 621.1,371.1 621.7,371.2 622.2,371.4 622.8,371.5 623.3,371.7 623.9,371.8 624.4,371.9 625.0,372.0 625.5,372.0 626.1,372.0 626.6,371.7 627.2,371.2 627.7,370.4 628.3,369.4 628.8,368.3 629.4,367.1 629.9,366.0 630.5,364.9 631.0,363.9 631.6,363.1 632.1,362.2 632.7,361.4 633.2,360.5 633.8,359.7 634.3,358.8 634.9,357.9 635.4,357.0 636.0,356.0 636.5,355.0 637.1,353.9 637.6,352.9 638.2,351.8 638.7,350.6 639.3,349.5 639.8,348.3 640.4,347.6 640.9,345.0 641.5,345.2 642.0,344.7 642.6,341.2 643.1,340.8 643.7,337.3 644.2,335.3 644.8,336.0 645.3,333.8 645.9,332.2 646.4,329.6 647.0,327.8 647.5,326.7 648.1,325.2 648.6,321.1 649.2,317.0 649.7,316.5 650.3,312.4 650.8,308.8 651.4,304.6 651.9,302.5 652.5,296.6 653.0,293.0 653.6,287.1 654.1,284.6 654.7,281.1 655.2,278.5 655.8,275.7 656.3,271.6 656.9,270.7 657.4,265.2 658.0,262.9 658.5,260.9 659.1,257.1 659.6,256.6 660.2,254.9 660.7,252.3 661.3,252.5 661.8,249.2 662.4,247.7 662.9,245.0 663.5,243.0 664.0,242.7 664.6,242.0 665.1,241.1 665.7,241.8 666.2,238.8 666.8,240.1 667.3,240.0 667.9,243.4 668.4,242.3 669.0,242.8 669.5,242.5 670.1,244.0 670.6,241.6 671.2,240.5" fill="none" stroke="#d62728" stroke-opacity="0.95" stroke-width="1.4" stroke-linejoin="round"/>
<polyline points="38.7,384.0 39.2,382.6 39.8,382.4 40.3,382.2 40.9,382.8 41.4,382.1 42.0,381.8 42.5,382.0 43.1,381.6 43.6,382.4 44.2,380.7 44.7,379.7 45.3,380.2 45.8,381.1 46.4,379.1 46.9,379.3 47.5,378.7 48.0,379.0 48.6,378.5 49.1,377.3 49.7,377.5 50.2,378.1 50.8,377.9 51.3,377.4 51.9,377.0 52.4,375.7 53.0,375.3 53.5,376.0 54.1,373.9 54.6,374.5 55.2,372.6 55.7,373.5 56.3,372.8 56.8,372.0 57.4,373.1 57.9,371.7 58.5,371.6 59.0,371.2 59.6,370.4 60.1,371.8 60.7,369.8 61.2,369.9 61.8,368.2 62.3,368.4 62.9,368.0 63.4,367.5 64.0,366.7 64.5,366.8 65.1,367.4 65.6,365.5 66.2,365.0 66.7,364.2 67.3,366.1 67.8,364.8 68.4,363.5 68.9,363.1 69.5,361.4 70.0,361.4 70.6,361.3 71.1,360.8 71.7,359.5 72.2,359.2 72.8,359.9 73.3,359.3 73.9,356.9 74.4,358.4 75.0,359.0 75.5,357.1 76.1,357.4 76.6,355.7 77.2,357.2 77.7,355.2 78.3,354.8 78.8,355.2 79.4,357.0 79.9,354.2 80.5,353.3 81.0,354.4 81.6,353.8 82.1,354.6 82.7,351.8 83.2,351.1 83.8,351.8 84.3,352.0 84.9,351.6 85.4,351.8 86.0,349.2 86.5,349.3 87.1,349.5 87.6,349.8 88.2,349.0 88.7,347.7 89.3,346.6 89.8,347.6 90.4,347.0 90.9,347.8 91.5,344.7 92.0,345.5 92.6,342.4 93.1,342.2 93.7,341.4 94.2,340.9 94.8,339.9 95.3,339.5 95.9,339.1 96.4,338.0 97.0,338.0 97.5,336.3 98.1,335.1 98.6,334.6 99.2,331.4 99.7,328.5 100.3,325.4 100.8,322.4 101.4,319.7 101.9,315.6 102.5,314.3 103.0,311.7 103.6,308.4 104.1,304.0 104.7,300.0 105.2,297.9 105.8,295.3 106.3,292.7 106.9,288.8 107.4,285.7 108.0,284.2 108.5,279.5 109.1,278.0 109.6,275.0 110.2,270.3 110.7,268.7 111.3,265.2 111.8,262.0 112.4,260.0 112.9,257.1 113.5,254.3 114.0,251.4 114.6,248.5 115.1,245.6 115.7,242.7 116.2,239.7 116.8,236.8 117.3,233.8 117.9,230.7 118.4,227.7 119.0,224.6 119.5,221.6 120.1,218.5 120.6,215.5 121.2,212.4 121.7,209.4 122.3,206.3 122.8,203.3 123.4,200.2 123.9,197.1 124.5,194.0 125.0,190.9 125.6,187.9 126.1,184.9 126.7,182.0 127.2,179.2 127.8,176.6 128.3,174.0 128.9,171.4 129.4,168.8 130.0,166.1 130.5,163.3 131.1,160.5 131.6,157.7 132.2,154.9 132.7,152.1 133.3,149.4 133.8,146.7 134.4,144.1 134.9,141.4 135.5,138.8 136.0,136.2 136.6,133.7 137.1,131.4 137.7,129.2 138.2,127.3 138.8,125.4 139.3,123.7 139.9,121.9 140.4,120.2 141.0,118.3 141.5,116.6 142.1,114.8 142.6,112.4 143.2,109.2 143.7,106.2 144.3,104.0 144.8,102.0 145.4,100.2 145.9,98.6 146.5,97.0 147.0,95.7 147.6,94.3 148.1,92.9 148.7,91.4 149.2,89.8 149.8,88.1 150.3,86.4 150.9,85.3 151.4,83.6 152.0,82.7 152.5,81.7 153.1,80.4 153.6,80.3 154.2,79.3 154.7,78.5 155.3,78.5 155.8,78.2 156.4,78.1 156.9,77.4 157.5,77.5 158.0,77.3 158.6,77.0 159.1,76.9 159.7,76.5 160.2,76.3 160.8,76.6 161.3,76.7 161.9,76.6 162.4,76.7 163.0,76.5 163.5,77.2 164.1,77.3 164.6,77.1 165.2,77.6 165.7,77.8 166.3,77.8 166.8,78.1 167.4,78.2 167.9,77.8 168.5,78.2 169.0,78.5 169.6,78.7 170.1,79.0 170.7,78.3 171.2,78.9 171.8,79.3 172.3,79.6 172.9,80.0 173.4,79.7 174.0,80.2 174.5,80.4 175.1,81.3 175.6,81.2 176.2,82.3 176.7,82.9 177.3,83.4 177.8,83.5 178.4,84.6 178.9,85.7 179.5,86.2 180.0,87.5 180.6,88.7 181.1,90.0 181.7,91.0 182.2,92.1 182.8,93.1 183.3,94.4 183.9,95.7 184.4,97.4 185.0,98.7 185.5,100.5 186.1,101.3 186.6,103.4 187.2,104.4 187.7,106.0 188.3,106.9 188.8,108.3 189.4,109.6 189.9,110.3 190.5,111.7 191.0,112.8 191.6,114.2 192.1,115.1 192.7,116.8 193.2,118.2 193.8,119.4 194.3,120.9 194.9,121.9 195.4,123.9 196.0,125.0 196.5,126.7 197.1,127.3 197.6,128.5 198.2,130.1 198.7,130.9 199.3,132.5 199.8,133.3 200.4,134.4 200.9,135.3 201.5,136.2 202.0,137.0 202.6,137.8 203.1,138.6 203.7,139.4 204.2,140.3 204.8,141.2 205.3,142.2 205.9,143.2 206.4,144.3 207.0,145.5 207.5,146.8 208.1,148.2 208.6,149.6 209.2,151.0 209.7,152.4 210.3,153.8 210.8,155.3 211.4,156.8 211.9,158.4 212.5,160.0 213.0,161.5 213.6,163.0 214.1,164.4 214.7,165.7 215.2,167.0 215.8,168.2 216.3,169.4 216.9,170.6 217.4,171.6 218.0,172.5 218.5,173.4 219.1,174.3 219.6,175.1 220.2,175.7 220.7,176.0 221.3,175.9 221.8,175.6 222.4,175.1 222.9,174.6 223.5,173.8 224.0,172.5 224.6,171.0 225.1,169.4 225.7,167.8 226.2,166.3 226.8,164.8 227.3,163.3 227.9,161.8 228.4,160.3 229.0,159.0 229.5,157.6 230.1,156.1 230.6,154.8 231.2,153.8 231.7,153.5 232.3,153.5 232.8,153.5 233.4,153.5 233.9,153.5 234.5,153.7 235.0,155.4 235.6,158.1 236.1,160.6 236.7,163.1 237.2,165.7 237.8,168.0 238.3,170.0 238.9,171.8 239.4,173.4 240.0,175.0 240.5,176.5 241.1,177.9 241.6,179.2 242.2,180.4 242.7,181.5 243.3,182.6 243.8,183.5 244.4,184.4 244.9,185.0 245.5,185.6 246.0,186.1 246.6,186.7 247.1,187.4 247.7,188.1 248.2,189.1 248.8,190.6 249.3,192.7 249.9,195.1 250.4,197.8 251.0,201.0 251.5,204.3 252.1,207.7 252.6,211.0 253.2,213.2 253.7,214.8 254.3,216.2 254.8,217.3 255.4,218.3 255.9,219.2 256.5,220.1 257.0,220.8 257.6,221.5 258.1,222.2 258.7,222.9 259.2,223.6 259.8,224.3 260.3,225.0 260.9,225.6 261.4,226.3 262.0,226.9 262.5,227.6 263.1,228.3 263.6,228.9 264.2,229.6 264.7,230.3 265.3,231.1 265.8,231.8 266.4,232.6 266.9,233.4 267.5,234.2 268.0,235.0 268.6,235.8 269.1,236.5 269.7,237.3 270.2,237.9 270.8,238.6 271.3,239.2 271.9,239.7 272.4,240.2 273.0,240.7 273.5,241.2 274.1,241.7 274.6,242.1 275.2,242.5 275.7,243.0 276.3,243.4 276.8,243.8 277.4,244.2 277.9,244.6 278.5,245.0 279.0,245.4 279.6,245.8 280.1,246.2 280.7,246.6 281.2,247.1 281.8,247.5 282.3,248.0 282.9,248.5 283.4,249.0 284.0,249.4 284.5,249.9 285.1,250.5 285.6,251.0 286.2,251.5 286.7,252.0 287.3,252.5 287.8,253.1 288.4,253.6 288.9,254.1 289.5,254.7 290.0,255.2 290.6,255.8 291.1,256.3 291.7,256.8 292.2,257.4 292.8,257.9 293.3,258.5 293.9,259.0 294.4,259.6 295.0,260.1 295.5,260.6 296.1,261.2 296.6,261.7 297.2,262.3 297.7,262.9 298.3,263.4 298.8,264.0 299.4,264.6 299.9,265.1 300.5,265.7 301.0,266.1 301.6,267.8 302.1,267.1 302.7,266.9 303.2,268.5 303.8,269.0 304.3,269.6 304.9,269.2 305.4,271.2 306.0,271.1 306.5,271.5 307.1,271.2 307.6,272.8 308.2,273.0 308.7,274.2 309.3,273.7 309.8,273.8 310.4,274.9 310.9,274.9 311.5,276.0 312.0,275.7 312.6,276.6 313.1,277.0 313.7,277.5 314.2,277.7 314.8,278.0 315.3,278.8 315.9,279.0 316.4,279.8 317.0,280.0 317.5,279.4 318.1,281.0 318.6,282.1 319.2,282.0 319.7,282.6 320.3,282.9 320.8,282.9 321.4,282.8 321.9,284.4 322.5,284.9 323.0,285.1 323.6,285.4 324.1,285.9 324.7,286.1 325.2,286.7 325.8,286.9 326.3,287.5 326.9,287.3 327.4,287.9 328.0,288.9 328.5,288.9 329.1,288.2 329.6,290.0 330.2,289.1 330.7,291.7 331.3,291.5 331.8,291.9 332.4,291.6 332.9,291.8 333.5,292.6 334.0,293.1 334.6,293.1 335.1,294.0 335.7,294.6 336.2,294.9 336.8,294.4 337.3,294.2 337.9,295.6 338.4,295.6 339.0,296.5 339.5,297.4 340.1,298.4 340.6,297.4 341.2,298.5 341.7,299.3 342.3,298.2 342.8,298.7 343.4,299.6 343.9,299.2 344.5,299.1 345.0,299.3 345.6,300.4 346.1,300.2 346.7,301.9 347.2,301.2 347.8,303.3 348.3,303.5 348.9,301.6 349.4,304.2 350.0,303.3 350.5,305.3 351.1,305.0 351.6,304.9 352.2,306.0 352.7,305.3 353.3,306.6 353.8,307.1 354.4,307.0 354.9,308.0 355.5,307.2 356.0,309.1 356.6,308.0 357.1,310.2 357.7,310.5 358.2,311.3 358.8,310.6 359.3,314.5 359.9,312.0 360.4,312.9 361.0,312.6 361.5,315.1 362.1,313.9 362.6,315.7 363.2,314.4 363.7,316.0 364.3,315.8 364.8,317.5 365.4,316.8 365.9,316.7 366.5,318.3 367.0,317.3 367.6,317.9 368.1,319.9 368.7,317.9 369.2,320.7 369.8,320.0 370.3,320.0 370.9,321.4 371.4,322.2 372.0,321.5 372.5,322.2 373.1,323.5 373.6,323.8 374.2,323.5 374.7,323.2 375.3,323.4 375.8,324.2 376.4,325.7 376.9,326.0 377.5,326.1 378.0,327.5 378.6,326.3 379.1,326.6 379.7,327.0 380.2,329.4 380.8,326.2 381.3,328.6 381.9,329.1 382.4,329.0 383.0,331.4 383.5,330.6 384.1,330.5 384.6,329.2 385.2,330.7 385.7,330.1 386.3,330.7 386.8,331.1 387.4,330.7 387.9,332.0 388.5,333.2 389.0,332.9 389.6,332.5 390.1,330.9 390.7,334.0 391.2,334.3 391.8,333.5 392.3,333.7 392.9,335.1 393.4,334.2 394.0,336.0 394.5,334.7 395.1,335.3 395.6,336.6 396.2,335.7 396.7,337.4 397.3,338.3 397.8,337.1 398.4,339.6 398.9,338.7 399.5,340.1 400.0,340.2 400.6,340.0 401.1,340.4 401.7,339.7 402.2,341.0 402.8,341.3 403.3,343.9 403.9,343.8 404.4,342.0 405.0,344.5 405.5,344.4 406.1,344.4 406.6,345.7 407.2,346.6 407.7,346.0 408.3,347.1 408.8,348.4 409.4,348.3 409.9,350.4 410.5,351.2 411.0,351.8 411.6,352.7 412.1,354.8 412.7,356.3 413.2,356.7 413.8,356.6 414.3,359.0 414.9,359.4 415.4,360.7 416.0,362.1 416.5,361.1 417.1,362.6 417.6,363.0 418.2,363.4 418.7,366.5 419.3,366.1 419.8,364.1 420.4,366.6 420.9,366.1 421.5,368.0 422.0,367.4 422.6,367.5 423.1,368.2 423.7,368.8 424.2,368.8 424.8,368.9 425.3,369.4 425.9,370.4 426.4,369.3 427.0,370.8 427.5,371.1 428.1,371.1 428.6,372.7 429.2,371.3 429.7,372.5 430.3,373.3 430.8,373.7 431.4,374.2 431.9,374.6 432.5,375.1 433.0,375.7 433.6,376.2 434.1,376.9 434.7,377.7 435.2,378.6 435.8,379.5 436.3,380.4 436.9,381.3 437.4,382.0 438.0,382.6 438.5,382.9 439.1,383.0 439.6,381.8 440.2,379.6 440.7,377.1 441.3,375.2 441.8,373.4 442.4,371.6 442.9,369.9 443.5,368.1 444.0,366.2 444.6,364.2 445.1,362.3 445.7,360.3 446.2,358.3 446.8,356.1 447.3,353.7 447.9,351.1 448.4,348.0 449.0,344.4 449.5,340.3 450.1,336.0 450.6,331.6 451.2,327.3 451.7,323.2 452.3,319.0 452.8,314.9 453.4,310.8 453.9,306.7 454.5,302.6 455.0,298.6 455.6,294.8 456.1,291.2 456.7,287.7 457.2,284.2 457.8,280.8 458.3,277.4 458.9,273.9 459.4,270.4 460.0,266.7 460.5,262.9 461.1,258.9 461.6,254.6 462.2,250.0 462.7,244.9 463.3,239.1 463.8,232.8 464.4,226.2 464.9,219.5 465.5,212.7 466.0,206.2 466.6,200.1 467.1,194.5 467.7,189.6 468.2,185.1 468.8,180.8 469.3,176.5 469.9,171.8 470.4,166.6 471.0,160.4 471.5,153.4 472.1,145.6 472.6,137.5 473.2,129.4 473.7,121.2 474.3,112.0 474.8,103.0 475.4,96.0 475.9,90.9 476.5,87.3 477.0,87.3 477.6,88.6 478.1,90.8 478.7,96.9 479.2,105.8 479.8,115.5 480.3,128.0 480.9,141.7 481.4,154.8 482.0,166.0 482.5,177.0 483.1,185.8 483.6,191.1 484.2,195.3 484.7,198.4 485.3,200.2 485.8,201.5 486.4,202.4 486.9,202.9 487.5,202.6 488.0,200.1 488.6,195.8 489.1,190.5 489.7,181.7 490.2,168.2 490.8,154.5 491.3,138.8 491.9,136.5 492.4,139.6 493.0,156.7 493.5,176.9 494.1,185.4 494.6,191.2 495.2,193.5 495.7,194.8 496.3,195.6 496.8,196.0 497.4,195.2 497.9,191.8 498.5,187.0 499.0,181.8 499.6,177.2 500.1,172.2 500.7,166.8 501.2,162.3 501.8,160.1 502.3,161.9 502.9,167.1 503.4,172.6 504.0,179.8 504.5,184.7 505.1,182.6 505.6,174.3 506.2,163.7 506.7,148.0 507.3,136.7 507.8,130.3 508.4,127.5 508.9,127.9 509.5,128.9 510.0,130.4 510.6,133.0 511.1,138.9 511.7,145.3 512.2,148.5 512.8,150.1 513.3,151.3 513.9,152.3 514.4,153.2 515.0,154.0 515.5,154.8 516.1,155.8 516.6,156.7 517.2,157.5 517.7,158.3 518.3,159.1 518.8,159.9 519.4,160.8 519.9,161.8 520.5,163.0 521.0,164.4 521.6,166.2 522.1,168.1 522.7,170.1 523.2,172.0 523.8,173.8 524.3,175.5 524.9,177.3 525.4,179.2 526.0,181.2 526.5,183.7 527.1,186.6 527.6,189.4 528.2,191.7 528.7,194.0 529.3,195.8 529.8,196.5 530.4,193.7 530.9,187.6 531.5,180.0 532.0,168.6 532.6,152.2 533.1,134.0 533.7,117.0 534.2,97.3 534.8,76.5 535.3,59.9 535.9,53.1 536.4,57.7 537.0,68.6 537.5,81.1 538.1,96.9 538.6,115.2 539.2,134.1 539.7,152.7 540.3,162.4 540.8,167.7 541.4,165.8 541.9,158.6 542.5,151.6 543.0,144.3 543.6,139.4 544.1,136.2 544.7,134.5 545.2,135.3 545.8,137.8 546.3,140.9 546.9,144.9 547.4,150.3 548.0,158.1 548.5,169.2 549.1,179.8 549.6,190.5 550.2,199.8 550.7,204.8 551.3,208.1 551.8,209.9 552.4,208.7 552.9,203.9 553.5,198.0 554.0,191.1 554.6,182.5 555.1,173.5 555.7,165.5 556.2,159.5 556.8,154.1 557.3,149.4 557.9,145.8 558.4,143.5 559.0,141.8 559.5,140.6 560.1,140.1 560.6,142.6 561.2,148.5 561.7,155.3 562.3,161.1 562.8,167.1 563.4,172.7 563.9,177.0 564.5,180.8 565.0,183.8 565.6,185.1 566.1,185.5 566.7,185.8 567.2,186.0 567.8,185.9 568.3,185.0 568.9,183.7 569.4,182.1 570.0,180.3 570.5,177.8 571.1,174.7 571.6,170.9 572.2,165.4 572.7,158.4 573.3,150.5 573.8,140.7 574.4,130.0 574.9,118.9 575.5,107.0 576.0,93.7 576.6,78.4 577.1,62.8 577.7,46.9 578.2,34.5 578.8,25.7 579.3,20.1 579.9,21.2 580.4,24.9 581.0,30.0 581.5,36.8 582.1,48.0 582.6,61.2 583.2,77.4 583.7,94.6 584.3,111.7 584.8,126.1 585.4,138.6 585.9,149.8 586.5,160.0 587.0,168.6 587.6,176.5 588.1,186.0 588.7,198.7 589.2,213.7 589.8,229.9 590.3,245.8 590.9,261.6 591.4,278.3 592.0,293.9 592.5,305.9 593.1,315.0 593.6,322.8 594.2,329.6 594.7,335.5 595.3,340.9 595.8,345.8 596.4,350.4 596.9,354.5 597.5,358.1 598.0,361.3 598.6,364.3 599.1,367.4 599.7,370.3 600.2,372.7 600.8,374.7 601.3,375.8 601.9,375.8 602.4,374.1 603.0,371.9 603.5,371.0 604.1,372.6 604.6,375.3 605.2,377.0 605.7,377.5 606.3,377.8 606.8,378.1 607.4,378.3 607.9,378.5 608.5,378.8 609.0,379.4 609.6,380.2 610.1,381.3 610.7,382.4 611.2,383.6 611.8,384.5 612.3,385.2 612.9,385.7 613.4,386.2 614.0,386.4 614.5,382.0 615.1,371.5 615.6,359.0 616.2,348.5 616.7,343.8 617.3,341.8 617.8,340.3 618.4,339.1 618.9,338.1 619.5,337.2 620.0,336.5 620.6,335.7 621.1,334.6 621.7,332.5 622.2,329.6 622.8,326.6 623.3,323.8 623.9,322.0 624.4,321.1 625.0,320.4 625.5,321.5 626.1,320.3 626.6,317.5 627.2,320.4 627.7,319.8 628.3,318.8 628.8,318.0 629.4,316.0 629.9,313.8 630.5,314.2 631.0,312.6 631.6,307.8 632.1,308.8 632.7,306.5 633.2,306.0 633.8,303.9 634.3,303.7 634.9,302.2 635.4,300.6 636.0,296.1 636.5,297.3 637.1,294.5 637.6,291.0 638.2,291.3 638.7,286.5 639.3,287.3 639.8,286.2 640.4,281.0 640.9,280.6 641.5,277.7 642.0,275.5 642.6,270.5 643.1,270.6 643.7,267.5 644.2,265.8 644.8,262.3 645.3,261.2 645.9,257.6 646.4,255.5 647.0,253.8 647.5,249.5 648.1,247.9 648.6,244.1 649.2,241.7 649.7,237.6 650.3,236.4 650.8,234.2 651.4,229.6 651.9,227.9 652.5,224.5 653.0,219.6 653.6,218.5 654.1,216.7 654.7,211.2 655.2,206.5 655.8,206.0 656.3,201.9 656.9,202.3 657.4,197.0 658.0,194.3 658.5,190.7 659.1,189.2 659.6,185.4 660.2,182.4 660.7,180.8 661.3,177.3 661.8,177.5 662.4,171.6 662.9,170.0 663.5,166.1 664.0,162.2 664.6,163.3 665.1,156.1 665.7,158.9 666.2,154.2 666.8,155.6 667.3,158.0 667.9,152.0 668.4,152.7 669.0,155.8 669.5,154.0 670.1,152.6 670.6,152.7 671.2,150.9" fill="none" stroke="#9467bd" stroke-opacity="0.95" stroke-width="1.4" stroke-linejoin="round"/>
<polyline points="38.7,385.5 39.2,386.1 39.8,384.7 40.3,384.8 40.9,385.1 41.4,385.3 42.0,383.6 42.5,383.8 43.1,383.1 43.6,382.7 44.2,382.6 44.7,382.2 45.3,381.3 45.8,380.9 46.4,381.3 46.9,381.5 47.5,381.9 48.0,380.6 48.6,380.5 49.1,380.7 49.7,380.4 50.2,379.6 50.8,379.3 51.3,380.2 51.9,378.6 52.4,378.2 53.0,377.2 53.5,378.1 54.1,377.3 54.6,378.3 55.2,376.6 55.7,377.0 56.3,376.7 56.8,376.8 57.4,374.7 57.9,376.0 58.5,374.7 59.0,374.3 59.6,373.8 60.1,373.4 60.7,373.0 61.2,371.4 61.8,372.7 62.3,372.0 62.9,371.0 63.4,371.0 64.0,372.0 64.5,370.4 65.1,369.4 65.6,370.2 66.2,368.3 66.7,368.2 67.3,367.5 67.8,367.2 68.4,367.4 68.9,366.8 69.5,365.6 70.0,365.6 70.6,365.3 71.1,364.7 71.7,364.5 72.2,363.8 72.8,363.5 73.3,363.6 73.9,362.6 74.4,363.2 75.0,362.5 75.5,361.8 76.1,361.7 76.6,361.4 77.2,361.3 77.7,361.2 78.3,360.7 78.8,360.0 79.4,361.1 79.9,360.5 80.5,359.7 81.0,359.9 81.6,359.2 82.1,358.6 82.7,358.5 83.2,359.7 83.8,358.4 84.3,358.1 84.9,357.0 85.4,357.3 86.0,357.9 86.5,356.5 87.1,356.5 87.6,356.3 88.2,355.6 88.7,355.7 89.3,354.5 89.8,354.2 90.4,353.0 90.9,354.5 91.5,352.6 92.0,352.0 92.6,352.2 93.1,350.6 93.7,350.3 94.2,349.4 94.8,349.4 95.3,348.6 95.9,348.6 96.4,347.7 97.0,346.8 97.5,346.2 98.1,345.5 98.6,344.2 99.2,343.8 99.7,342.3 100.3,340.4 100.8,337.9 101.4,337.0 101.9,334.1 102.5,332.9 103.0,330.9 103.6,328.3 104.1,325.7 104.7,323.1 105.2,321.9 105.8,317.6 106.3,314.6 106.9,312.2 107.4,308.9 108.0,306.2 108.5,302.0 109.1,299.4 109.6,299.4 110.2,295.2 110.7,292.9 111.3,291.0 111.8,289.4 112.4,286.8 112.9,284.8 113.5,282.9 114.0,281.0 114.6,279.2 115.1,277.4 115.7,275.6 116.2,273.9 116.8,272.2 117.3,270.5 117.9,268.8 118.4,267.2 119.0,265.5 119.5,263.9 120.1,262.2 120.6,260.6 121.2,258.9 121.7,257.3 122.3,255.6 122.8,253.9 123.4,252.2 123.9,250.5 124.5,248.7 125.0,247.0 125.6,245.1 126.1,243.3 126.7,241.4 127.2,239.5 127.8,237.5 128.3,235.4 128.9,233.3 129.4,231.1 130.0,229.0 130.5,226.8 131.1,224.7 131.6,222.5 132.2,220.4 132.7,218.4 133.3,216.4 133.8,214.5 134.4,212.7 134.9,211.0 135.5,209.3 136.0,207.6 136.6,206.0 137.1,204.4 137.7,202.8 138.2,201.2 138.8,199.6 139.3,198.0 139.9,196.4 140.4,194.7 141.0,193.0 141.5,191.2 142.1,189.2 142.6,187.3 143.2,185.3 143.7,183.2 144.3,181.1 144.8,179.0 145.4,177.1 145.9,175.2 146.5,173.4 147.0,171.8 147.6,170.2 148.1,168.8 148.7,167.5 149.2,166.4 149.8,165.3 150.3,164.3 150.9,163.3 151.4,162.4 152.0,161.5 152.5,160.7 153.1,160.0 153.6,159.3 154.2,158.7 154.7,158.2 155.3,157.7 155.8,157.3 156.4,156.9 156.9,156.6 157.5,156.3 158.0,156.1 158.6,155.9 159.1,155.8 159.7,155.7 160.2,155.7 160.8,155.8 161.3,155.9 161.9,156.0 162.4,156.2 163.0,156.3 163.5,156.5 164.1,156.7 164.6,156.9 165.2,157.1 165.7,157.4 166.3,157.7 166.8,158.0 167.4,158.3 167.9,158.6 168.5,158.9 169.0,159.2 169.6,159.6 170.1,159.9 170.7,160.3 171.2,160.7 171.8,161.1 172.3,161.5 172.9,161.9 173.4,162.4 174.0,162.8 174.5,163.2 175.1,163.7 175.6,164.0 176.2,164.4 176.7,164.7 177.3,165.1 177.8,165.4 178.4,165.8 178.9,166.1 179.5,166.6 180.0,167.0 180.6,167.6 181.1,168.3 181.7,169.1 182.2,170.0 182.8,170.8 183.3,171.7 183.9,172.6 184.4,173.4 185.0,174.1 185.5,174.8 186.1,175.5 186.6,176.2 187.2,176.9 187.7,177.5 188.3,178.3 188.8,179.0 189.4,179.8 189.9,180.8 190.5,181.8 191.0,182.8 191.6,184.0 192.1,185.1 192.7,186.3 193.2,187.5 193.8,188.6 194.3,189.7 194.9,190.7 195.4,191.8 196.0,192.8 196.5,193.8 197.1,194.9 197.6,195.9 198.2,197.0 198.7,198.0 199.3,199.1 199.8,200.2 200.4,201.3 200.9,202.4 201.5,203.6 202.0,204.7 202.6,205.9 203.1,207.1 203.7,208.2 204.2,209.4 204.8,210.6 205.3,211.7 205.9,212.9 206.4,214.2 207.0,215.4 207.5,216.6 208.1,217.9 208.6,219.1 209.2,220.4 209.7,221.6 210.3,222.8 210.8,223.9 211.4,225.1 211.9,226.2 212.5,227.2 213.0,228.2 213.6,229.2 214.1,230.2 214.7,231.1 215.2,231.9 215.8,232.7 216.3,233.5 216.9,234.3 217.4,235.1 218.0,235.8 218.5,236.4 219.1,236.6 219.6,236.6 220.2,236.5 220.7,236.4 221.3,236.2 221.8,236.1 222.4,235.7 222.9,234.7 223.5,233.4 224.0,231.8 224.6,230.1 225.1,228.6 225.7,226.8 226.2,224.8 226.8,222.8 227.3,220.9 227.9,219.3 228.4,217.8 229.0,216.4 229.5,215.0 230.1,213.8 230.6,212.9 231.2,212.5 231.7,212.5 232.3,212.6 232.8,212.7 233.4,212.8 233.9,213.0 234.5,213.2 235.0,213.4 235.6,213.8 236.1,214.2 236.7,214.7 237.2,215.3 237.8,216.4 238.3,217.8 238.9,219.4 239.4,221.1 240.0,222.6 240.5,224.0 241.1,225.4 241.6,226.8 242.2,228.1 242.7,229.6 243.3,231.0 243.8,232.6 244.4,234.2 244.9,235.9 245.5,237.6 246.0,239.5 246.6,241.3 247.1,243.2 247.7,245.0 248.2,246.9 248.8,248.9 249.3,251.0 249.9,253.2 250.4,255.1 251.0,256.7 251.5,257.9 252.1,258.7 252.6,259.4 253.2,260.1 253.7,260.6 254.3,261.1 254.8,261.6 255.4,262.0 255.9,262.4 256.5,262.8 257.0,263.2 257.6,263.7 258.1,264.1 258.7,264.6 259.2,265.1 259.8,265.6 260.3,266.1 260.9,266.6 261.4,267.1 262.0,267.6 262.5,268.0 263.1,268.5 263.6,268.9 264.2,269.4 264.7,269.8 265.3,270.3 265.8,270.7 266.4,271.1 266.9,271.5 267.5,271.8 268.0,272.2 268.6,272.6 269.1,272.9 269.7,273.3 270.2,273.6 270.8,274.0 271.3,274.3 271.9,274.6 272.4,275.0 273.0,275.3 273.5,275.6 274.1,275.9 274.6,276.2 275.2,276.6 275.7,276.9 276.3,277.2 276.8,277.5 277.4,277.8 277.9,278.1 278.5,278.4 279.0,278.7 279.6,279.0 280.1,279.4 280.7,279.7 281.2,280.0 281.8,280.3 282.3,280.6 282.9,281.0 283.4,281.3 284.0,281.6 284.5,282.0 285.1,282.3 285.6,282.7 286.2,283.0 286.7,283.3 287.3,283.7 287.8,284.0 288.4,284.3 288.9,284.7 289.5,285.0 290.0,285.3 290.6,285.7 291.1,286.0 291.7,286.3 292.2,286.6 292.8,286.9 293.3,287.3 293.9,287.6 294.4,287.9 295.0,288.2 295.5,288.5 296.1,288.9 296.6,289.2 297.2,289.5 297.7,289.9 298.3,290.2 298.8,290.6 299.4,290.9 299.9,291.3 300.5,292.3 301.0,292.5 301.6,292.3 302.1,293.1 302.7,293.3 303.2,293.8 303.8,294.1 304.3,294.4 304.9,294.5 305.4,294.5 306.0,295.8 306.5,296.5 307.1,296.0 307.6,296.8 308.2,296.8 308.7,297.3 309.3,297.1 309.8,297.6 310.4,297.9 310.9,297.3 311.5,298.5 312.0,298.6 312.6,298.0 313.1,299.4 313.7,299.4 314.2,299.8 314.8,300.2 315.3,300.3 315.9,300.4 316.4,301.1 317.0,301.6 317.5,303.0 318.1,303.4 318.6,303.2 319.2,303.7 319.7,304.5 320.3,305.2 320.8,305.3 321.4,305.7 321.9,307.2 322.5,307.3 323.0,306.8 323.6,307.1 324.1,307.8 324.7,308.5 325.2,309.0 325.8,309.0 326.3,308.9 326.9,309.9 327.4,310.3 328.0,310.5 328.5,310.6 329.1,311.3 329.6,311.4 330.2,311.3 330.7,312.0 331.3,311.8 331.8,312.9 332.4,313.0 332.9,312.8 333.5,313.5 334.0,314.2 334.6,313.3 335.1,314.3 335.7,315.2 336.2,314.4 336.8,315.2 337.3,315.0 337.9,315.8 338.4,315.3 339.0,315.9 339.5,316.6 340.1,317.2 340.6,317.6 341.2,317.9 341.7,318.5 342.3,318.7 342.8,319.0 343.4,318.7 343.9,319.3 344.5,320.8 345.0,320.8 345.6,320.7 346.1,321.0 346.7,321.4 347.2,321.2 347.8,322.4 348.3,321.9 348.9,322.3 349.4,323.5 350.0,322.3 350.5,323.5 351.1,323.1 351.6,323.8 352.2,324.4 352.7,324.7 353.3,325.2 353.8,325.2 354.4,325.8 354.9,325.8 355.5,326.5 356.0,326.5 356.6,327.7 357.1,327.4 357.7,328.6 358.2,328.6 358.8,329.1 359.3,330.1 359.9,330.2 360.4,330.0 361.0,331.3 361.5,330.6 362.1,332.2 362.6,332.5 363.2,332.6 363.7,333.6 364.3,333.9 364.8,335.2 365.4,334.8 365.9,336.1 366.5,336.3 367.0,336.0 367.6,336.3 368.1,337.4 368.7,337.2 369.2,337.7 369.8,337.8 370.3,337.7 370.9,338.3 371.4,338.3 372.0,338.3 372.5,339.0 373.1,339.9 373.6,340.0 374.2,339.6 374.7,339.8 375.3,340.1 375.8,340.6 376.4,340.4 376.9,340.3 377.5,340.5 378.0,341.2 378.6,342.0 379.1,341.0 379.7,340.7 380.2,341.9 380.8,341.9 381.3,342.2 381.9,342.9 382.4,342.7 383.0,342.6 383.5,342.7 384.1,343.7 384.6,343.6 385.2,344.5 385.7,344.3 386.3,345.0 386.8,345.0 387.4,345.8 387.9,346.1 388.5,346.9 389.0,347.5 389.6,347.4 390.1,347.5 390.7,348.9 391.2,348.6 391.8,349.1 392.3,349.4 392.9,350.1 393.4,350.2 394.0,350.4 394.5,350.8 395.1,350.5 395.6,350.9 396.2,351.4 396.7,351.8 397.3,352.1 397.8,352.5 398.4,352.8 398.9,352.9 399.5,352.8 400.0,354.0 400.6,354.2 401.1,354.0 401.7,354.8 402.2,355.1 402.8,355.3 403.3,355.0 403.9,355.6 404.4,356.1 405.0,357.3 405.5,356.7 406.1,357.3 406.6,357.4 407.2,357.9 407.7,358.6 408.3,358.1 408.8,358.3 409.4,359.9 409.9,360.1 410.5,360.3 411.0,361.3 411.6,361.7 412.1,361.0 412.7,362.1 413.2,363.0 413.8,362.8 414.3,363.4 414.9,364.3 415.4,364.3 416.0,364.4 416.5,365.0 417.1,365.2 417.6,366.3 418.2,365.9 418.7,367.4 419.3,366.8 419.8,367.9 420.4,367.8 420.9,368.6 421.5,369.5 422.0,370.0 422.6,370.5 423.1,370.4 423.7,370.9 424.2,371.4 424.8,372.0 425.3,372.0 425.9,373.0 426.4,373.2 427.0,373.9 427.5,374.1 428.1,374.6 428.6,374.6 429.2,375.2 429.7,375.3 430.3,376.1 430.8,376.7 431.4,377.5 431.9,377.3 432.5,379.2 433.0,378.4 433.6,379.2 434.1,379.5 434.7,378.6 435.2,379.8 435.8,380.8 436.3,379.8 436.9,381.3 437.4,381.1 438.0,381.6 438.5,382.1 439.1,381.5 439.6,382.0 440.2,381.2 440.7,380.2 441.3,379.2 441.8,378.1 442.4,377.0 442.9,375.7 443.5,374.2 444.0,372.2 444.6,369.8 445.1,367.2 445.7,365.1 446.2,363.0 446.8,361.0 447.3,358.7 447.9,356.2 448.4,353.4 449.0,350.5 449.5,347.7 450.1,345.2 450.6,343.0 451.2,340.9 451.7,339.0 452.3,337.2 452.8,335.4 453.4,333.6 453.9,332.0 454.5,330.3 455.0,328.7 455.6,327.0 456.1,325.5 456.7,324.0 457.2,322.4 457.8,320.7 458.3,318.6 458.9,316.2 459.4,313.6 460.0,310.8 460.5,307.9 461.1,304.8 461.6,301.6 462.2,298.2 462.7,294.2 463.3,289.7 463.8,284.6 464.4,278.0 464.9,273.2 465.5,269.2 466.0,265.5 466.6,262.0 467.1,259.1 467.7,257.0 468.2,255.1 468.8,252.9 469.3,250.4 469.9,247.6 470.4,244.4 471.0,240.9 471.5,236.8 472.1,232.6 472.6,228.4 473.2,224.1 473.7,219.8 474.3,214.9 474.8,209.9 475.4,205.7 475.9,202.5 476.5,200.3 477.0,201.2 477.6,209.2 478.1,218.5 478.7,230.0 479.2,242.5 479.8,254.7 480.3,267.5 480.9,279.8 481.4,291.1 482.0,301.1 482.5,310.4 483.1,318.6 483.6,325.5 484.2,331.8 484.7,337.3 485.3,342.0 485.8,340.2 486.4,334.3 486.9,327.9 487.5,321.4 488.0,314.5 488.6,306.8 489.1,298.0 489.7,283.6 490.2,262.1 490.8,244.2 491.3,225.6 491.9,215.2 492.4,216.9 493.0,229.8 493.5,244.2 494.1,251.6 494.6,256.9 495.2,259.6 495.7,261.5 496.3,263.2 496.8,263.9 497.4,263.5 497.9,261.1 498.5,257.1 499.0,252.5 499.6,248.5 500.1,244.8 500.7,241.3 501.2,238.3 501.8,236.7 502.3,237.4 502.9,240.2 503.4,243.7 504.0,248.4 504.5,252.1 505.1,251.6 505.6,247.1 506.2,240.2 506.7,229.5 507.3,221.2 507.8,216.1 508.4,214.6 508.9,216.3 509.5,219.2 510.0,222.7 510.6,226.3 511.1,231.2 511.7,236.2 512.2,239.4 512.8,241.4 513.3,242.9 513.9,243.4 514.4,242.7 515.0,241.4 515.5,240.3 516.1,239.0 516.6,237.5 517.2,236.5 517.7,236.6 518.3,237.8 518.8,239.4 519.4,240.9 519.9,242.3 520.5,243.8 521.0,245.2 521.6,246.4 522.1,247.2 522.7,247.9 523.2,248.5 523.8,249.0 524.3,249.4 524.9,249.7 525.4,249.9 526.0,250.2 526.5,250.5 527.1,251.5 527.6,253.1 528.2,254.8 528.7,256.9 529.3,258.7 529.8,259.7 530.4,258.4 530.9,254.7 531.5,248.9 532.0,239.8 532.6,227.2 533.1,213.5 533.7,200.7 534.2,186.0 534.8,170.3 535.3,157.3 535.9,150.8 536.4,153.1 537.0,160.0 537.5,168.3 538.1,178.6 538.6,190.4 539.2,202.6 539.7,214.6 540.3,221.2 540.8,225.0 541.4,224.3 541.9,220.5 542.5,216.8 543.0,213.2 543.6,211.4 544.1,211.2 544.7,212.2 545.2,214.5 545.8,217.4 546.3,220.4 546.9,223.9 547.4,228.2 548.0,233.9 548.5,241.7 549.1,249.7 549.6,258.0 550.2,265.1 550.7,269.1 551.3,271.1 551.8,271.3 552.4,269.0 552.9,264.2 553.5,258.4 554.0,251.3 554.6,240.8 555.1,228.9 555.7,218.4 556.2,211.2 556.8,207.2 557.3,203.9 557.9,201.6 558.4,200.3 559.0,199.3 559.5,198.5 560.1,198.2 560.6,199.7 561.2,203.1 561.7,206.8 562.3,209.7 562.8,212.6 563.4,214.2 563.9,210.2 564.5,203.6 565.0,197.6 565.6,194.6 566.1,193.0 566.7,191.8 567.2,190.2 567.8,187.5 568.3,183.7 568.9,179.5 569.4,175.5 570.0,172.2 570.5,168.9 571.1,165.3 571.6,160.6 572.2,153.2 572.7,140.0 573.3,128.2 573.8,116.9 574.4,106.4 574.9,98.2 575.5,90.8 576.0,82.2 576.6,64.9 577.1,48.7 577.7,38.0 578.2,29.7 578.8,23.8 579.3,20.2 579.9,21.7 580.4,25.9 581.0,31.5 581.5,39.0 582.1,50.4 582.6,63.1 583.2,76.0 583.7,88.5 584.3,101.5 584.8,116.0 585.4,126.3 585.9,135.0 586.5,158.3 587.0,167.5 587.6,176.7 588.1,185.8 588.7,195.0 589.2,204.3 589.8,214.2 590.3,224.4 590.9,234.1 591.4,242.9 592.0,250.0 592.5,255.8 593.1,261.1 593.6,266.0 594.2,270.3 594.7,274.2 595.3,277.7 595.8,280.8 596.4,283.7 596.9,286.4 597.5,288.9 598.0,291.1 598.6,293.1 599.1,294.8 599.7,296.1 600.2,296.1 600.8,298.8 601.3,298.8 601.9,300.4 602.4,300.6 603.0,299.7 603.5,299.0 604.1,298.9 604.6,297.9 605.2,296.7 605.7,298.2 606.3,299.8 606.8,301.2 607.4,303.0 607.9,304.4 608.5,306.1 609.0,307.2 609.6,308.6 610.1,312.0 610.7,311.9 611.2,313.8 611.8,313.7 612.3,315.8 612.9,315.5 613.4,317.9 614.0,313.2 614.5,310.4 615.1,308.5 615.6,305.6 616.2,300.6 616.7,299.1 617.3,296.4 617.8,292.4 618.4,292.6 618.9,291.8 619.5,291.8 620.0,292.6 620.6,292.9 621.1,292.4 621.7,294.4 622.2,291.0 622.8,288.7 623.3,287.6 623.9,285.2 624.4,284.9 625.0,282.7 625.5,282.1 626.1,281.0 626.6,280.0 627.2,278.7 627.7,277.7 628.3,278.0 628.8,275.3 629.4,274.4 629.9,273.5 630.5,273.2 631.0,272.2 631.6,271.7 632.1,269.4 632.7,269.8 633.2,268.8 633.8,268.1 634.3,267.6 634.9,265.3 635.4,265.9 636.0,264.7 636.5,262.1 637.1,261.2 637.6,260.2 638.2,256.3 638.7,254.4 639.3,251.2 639.8,248.1 640.4,245.5 640.9,243.4 641.5,242.0 642.0,238.7 642.6,234.3 643.1,231.4 643.7,223.9 644.2,215.4 644.8,208.7 645.3,203.1 645.9,200.2 646.4,200.5 647.0,196.8 647.5,196.6 648.1,192.6 648.6,190.9 649.2,187.8 649.7,184.5 650.3,180.2 650.8,178.7 651.4,175.9 651.9,172.5 652.5,170.3 653.0,168.3 653.6,164.5 654.1,162.7 654.7,159.4 655.2,158.4 655.8,156.8 656.3,156.5 656.9,153.7 657.4,151.7 658.0,150.6 658.5,146.9 659.1,146.0 659.6,141.8 660.2,137.5 660.7,134.0 661.3,129.3 661.8,127.1 662.4,122.5 662.9,121.3 663.5,119.0 664.0,118.2 664.6,116.4 665.1,118.4 665.7,120.1 666.2,122.8 666.8,126.1 667.3,129.6 667.9,130.7 668.4,128.5 669.0,127.7 669.5,128.4 670.1,128.2 670.6,128.9 671.2,130.2" fill="none" stroke="#8c564b" stroke-opacity="0.95" stroke-width="1.4" stroke-linejoin="round"/>
<polyline points="38.7,383.5 39.2,384.0 39.8,380.6 40.3,382.2 40.9,381.3 41.4,381.7 42.0,381.2 42.5,380.0 43.1,380.1 43.6,381.8 44.2,379.1 44.7,377.8 45.3,380.3 45.8,380.5 46.4,378.3 46.9,378.6 47.5,376.8 48.0,377.4 48.6,379.1 49.1,378.3 49.7,376.9 50.2,375.9 50.8,373.5 51.3,376.1 51.9,376.0 52.4,376.5 53.0,377.6 53.5,374.8 54.1,375.3 54.6,371.7 55.2,374.9 55.7,374.0 56.3,374.4 56.8,372.9 57.4,372.2 57.9,373.4 58.5,369.7 59.0,371.2 59.6,371.5 60.1,368.2 60.7,367.2 61.2,369.1 61.8,368.1 62.3,368.4 62.9,367.9 63.4,365.2 64.0,366.3 64.5,367.0 65.1,364.2 65.6,363.7 66.2,361.9 66.7,364.3 67.3,365.4 67.8,359.8 68.4,362.5 68.9,362.2 69.5,359.5 70.0,359.0 70.6,356.9 71.1,357.1 71.7,358.9 72.2,359.6 72.8,357.9 73.3,356.4 73.9,357.3 74.4,353.7 75.0,359.4 75.5,358.4 76.1,353.6 76.6,359.0 77.2,355.6 77.7,354.4 78.3,358.2 78.8,347.5 79.4,349.2 79.9,354.2 80.5,351.6 81.0,349.6 81.6,354.9 82.1,352.1 82.7,347.5 83.2,348.5 83.8,351.7 84.3,353.4 84.9,344.1 85.4,349.0 86.0,347.0 86.5,343.4 87.1,341.7 87.6,342.7 88.2,341.0 88.7,349.0 89.3,345.8 89.8,345.8 90.4,344.6 90.9,343.3 91.5,344.0 92.0,338.2 92.6,339.3 93.1,341.3 93.7,336.8 94.2,336.7 94.8,339.8 95.3,339.8 95.9,334.0 96.4,332.6 97.0,334.8 97.5,332.9 98.1,329.2 98.6,330.1 99.2,327.1 99.7,322.7 100.3,325.8 100.8,318.6 101.4,310.5 101.9,311.4 102.5,312.8 103.0,305.3 103.6,298.0 104.1,297.3 104.7,293.5 105.2,288.9 105.8,287.8 106.3,284.0 106.9,281.0 107.4,278.0 108.0,275.0 108.5,272.1 109.1,269.3 109.6,266.5 110.2,263.7 110.7,260.9 111.3,258.2 111.8,255.5 112.4,252.5 112.9,250.2 113.5,247.1 114.0,244.3 114.6,240.9 115.1,238.6 115.7,235.8 116.2,232.9 116.8,229.6 117.3,226.7 117.9,223.7 118.4,220.3 119.0,217.2 119.5,214.9 120.1,211.0 120.6,208.5 121.2,205.1 121.7,202.3 122.3,198.5 122.8,195.7 123.4,192.5 123.9,189.2 124.5,186.3 125.0,183.1 125.6,180.5 126.1,177.8 126.7,175.7 127.2,173.0 127.8,170.1 128.3,167.6 128.9,164.7 129.4,161.4 130.0,158.9 130.5,155.6 131.1,152.7 131.6,149.4 132.2,146.6 132.7,144.2 133.3,140.7 133.8,138.4 134.4,135.5 134.9,132.6 135.5,130.0 136.0,126.9 136.6,124.5 137.1,121.4 137.7,118.7 138.2,116.8 138.8,113.7 139.3,110.7 139.9,109.1 140.4,106.1 141.0,102.9 141.5,101.4 142.1,99.2 142.6,96.5 143.2,94.5 143.7,91.8 144.3,89.8 144.8,87.3 145.4,85.7 145.9,84.2 146.5,82.1 147.0,80.2 147.6,77.9 148.1,76.6 148.7,74.6 149.2,73.5 149.8,71.5 150.3,70.3 150.9,68.6 151.4,68.0 152.0,66.0 152.5,65.1 153.1,64.6 153.6,63.2 154.2,62.4 154.7,62.2 155.3,61.8 155.8,61.4 156.4,60.4 156.9,60.7 157.5,59.9 158.0,60.7 158.6,60.1 159.1,59.9 159.7,60.1 160.2,60.0 160.8,59.5 161.3,60.2 161.9,59.9 162.4,59.7 163.0,60.6 163.5,60.8 164.1,61.0 164.6,61.0 165.2,60.9 165.7,61.5 166.3,61.8 166.8,61.7 167.4,62.1 167.9,61.7 168.5,62.3 169.0,62.4 169.6,62.0 170.1,62.2 170.7,62.6 171.2,62.9 171.8,63.2 172.3,63.2 172.9,63.5 173.4,63.7 174.0,64.0 174.5,64.5 175.1,65.0 175.6,65.5 176.2,66.2 176.7,66.7 177.3,67.8 177.8,68.2 178.4,69.4 178.9,69.8 179.5,70.8 180.0,71.4 180.6,72.5 181.1,73.6 181.7,74.8 182.2,75.9 182.8,77.1 183.3,78.8 183.9,80.3 184.4,81.9 185.0,83.6 185.5,84.8 186.1,86.0 186.6,88.2 187.2,89.5 187.7,91.5 188.3,93.9 188.8,95.6 189.4,97.2 189.9,99.1 190.5,101.2 191.0,102.7 191.6,105.2 192.1,106.8 192.7,109.1 193.2,110.0 193.8,112.2 194.3,113.3 194.9,115.3 195.4,116.3 196.0,118.2 196.5,119.3 197.1,120.6 197.6,122.1 198.2,123.6 198.7,124.9 199.3,126.6 199.8,127.9 200.4,129.2 200.9,130.8 201.5,132.4 202.0,134.0 202.6,135.6 203.1,137.2 203.7,138.7 204.2,140.1 204.8,141.5 205.3,142.9 205.9,144.2 206.4,145.4 207.0,146.7 207.5,148.0 208.1,149.2 208.6,150.5 209.2,151.7 209.7,153.0 210.3,154.2 210.8,155.4 211.4,156.7 211.9,157.9 212.5,159.1 213.0,160.4 213.6,161.7 214.1,162.9 214.7,164.2 215.2,165.4 215.8,166.6 216.3,167.7 216.9,168.9 217.4,170.1 218.0,171.2 218.5,172.2 219.1,173.2 219.6,174.2 220.2,175.1 220.7,175.5 221.3,175.4 221.8,175.1 222.4,174.6 222.9,174.1 223.5,173.3 224.0,172.2 224.6,170.8 225.1,169.3 225.7,167.8 226.2,166.4 226.8,164.9 227.3,163.4 227.9,161.8 228.4,160.4 229.0,159.0 229.5,157.6 230.1,156.0 230.6,154.6 231.2,153.6 231.7,153.3 232.3,153.3 232.8,153.3 233.4,153.4 233.9,153.4 234.5,153.7 235.0,155.5 235.6,158.1 236.1,160.6 236.7,163.1 237.2,165.7 237.8,168.0 238.3,169.9 238.9,171.7 239.4,173.4 240.0,175.0 240.5,176.7 241.1,178.3 241.6,179.8 242.2,181.0 242.7,182.1 243.3,183.1 243.8,184.0 244.4,184.8 244.9,185.6 245.5,186.3 246.0,187.0 246.6,187.8 247.1,188.7 247.7,189.8 248.2,191.1 248.8,193.1 249.3,195.7 249.9,198.5 250.4,201.3 251.0,204.3 251.5,207.3 252.1,210.5 252.6,213.5 253.2,215.7 253.7,217.2 254.3,218.6 254.8,219.7 255.4,220.8 255.9,221.8 256.5,222.8 257.0,223.6 257.6,224.4 258.1,225.2 258.7,226.0 259.2,226.7 259.8,227.4 260.3,228.1 260.9,228.8 261.4,229.5 262.0,230.1 262.5,230.7 263.1,231.4 263.6,232.0 264.2,232.7 264.7,233.3 265.3,233.9 265.8,234.5 266.4,235.2 266.9,235.8 267.5,236.4 268.0,237.0 268.6,237.6 269.1,238.1 269.7,238.7 270.2,239.3 270.8,239.8 271.3,240.3 271.9,240.9 272.4,241.4 273.0,242.0 273.5,242.5 274.1,243.0 274.6,243.5 275.2,244.0 275.7,244.5 276.3,245.0 276.8,245.5 277.4,246.0 277.9,246.5 278.5,247.0 279.0,247.4 279.6,247.9 280.1,248.3 280.7,248.8 281.2,249.2 281.8,249.6 282.3,250.0 282.9,250.4 283.4,250.7 284.0,251.1 284.5,251.4 285.1,251.8 285.6,252.1 286.2,252.5 286.7,252.8 287.3,253.2 287.8,253.6 288.4,254.0 288.9,254.5 289.5,254.9 290.0,255.4 290.6,255.9 291.1,256.4 291.7,257.0 292.2,257.5 292.8,258.1 293.3,258.7 293.9,259.3 294.4,259.9 295.0,260.5 295.5,261.0 296.1,261.6 296.6,262.2 297.2,262.8 297.7,263.4 298.3,263.9 298.8,264.5 299.4,265.0 299.9,265.5 300.5,265.9 301.0,267.5 301.6,267.6 302.1,267.1 302.7,267.8 303.2,269.6 303.8,269.6 304.3,269.5 304.9,270.1 305.4,270.6 306.0,270.6 306.5,271.4 307.1,271.6 307.6,272.2 308.2,273.2 308.7,272.9 309.3,274.3 309.8,274.4 310.4,275.3 310.9,275.8 311.5,276.5 312.0,276.7 312.6,277.2 313.1,277.2 313.7,278.1 314.2,277.8 314.8,278.7 315.3,279.7 315.9,279.8 316.4,280.6 317.0,280.3 317.5,282.2 318.1,281.7 318.6,282.7 319.2,283.1 319.7,284.1 320.3,283.9 320.8,284.1 321.4,284.1 321.9,285.5 322.5,285.4 323.0,286.8 323.6,287.7 324.1,286.1 324.7,287.0 325.2,288.3 325.8,289.1 326.3,289.0 326.9,289.4 327.4,289.8 328.0,290.2 328.5,291.1 329.1,290.9 329.6,290.3 330.2,291.0 330.7,291.8 331.3,291.6 331.8,292.3 332.4,292.5 332.9,292.8 333.5,294.0 334.0,293.8 334.6,293.8 335.1,294.4 335.7,295.2 336.2,296.7 336.8,296.1 337.3,297.2 337.9,297.0 338.4,296.0 339.0,297.8 339.5,297.5 340.1,296.9 340.6,297.6 341.2,301.1 341.7,297.9 342.3,299.3 342.8,301.7 343.4,301.5 343.9,299.4 344.5,301.5 345.0,301.5 345.6,302.2 346.1,303.6 346.7,302.6 347.2,303.3 347.8,305.6 348.3,302.4 348.9,304.4 349.4,305.8 350.0,304.3 350.5,305.4 351.1,305.1 351.6,307.1 352.2,306.6 352.7,308.6 353.3,309.2 353.8,308.6 354.4,308.5 354.9,309.6 355.5,309.8 356.0,308.8 356.6,311.7 357.1,311.2 357.7,312.2 358.2,310.3 358.8,313.1 359.3,314.8 359.9,313.6 360.4,311.8 361.0,313.8 361.5,314.1 362.1,314.8 362.6,314.8 363.2,316.0 363.7,315.4 364.3,316.6 364.8,316.0 365.4,317.4 365.9,318.8 366.5,317.7 367.0,319.5 367.6,318.3 368.1,319.3 368.7,320.0 369.2,322.1 369.8,320.4 370.3,323.1 370.9,320.7 371.4,322.6 372.0,324.2 372.5,324.5 373.1,323.1 373.6,323.3 374.2,326.1 374.7,324.2 375.3,326.6 375.8,325.8 376.4,326.8 376.9,329.8 377.5,329.4 378.0,329.0 378.6,327.0 379.1,329.3 379.7,329.4 380.2,329.6 380.8,331.5 381.3,328.6 381.9,331.1 382.4,331.3 383.0,330.6 383.5,333.6 384.1,330.7 384.6,332.4 385.2,332.7 385.7,330.5 386.3,331.6 386.8,332.3 387.4,334.5 387.9,334.9 388.5,334.8 389.0,334.7 389.6,332.3 390.1,335.2 390.7,334.6 391.2,336.8 391.8,337.2 392.3,338.5 392.9,337.2 393.4,337.6 394.0,336.0 394.5,337.5 395.1,336.5 395.6,339.2 396.2,337.3 396.7,338.8 397.3,338.6 397.8,339.4 398.4,340.9 398.9,340.2 399.5,341.6 400.0,340.7 400.6,343.9 401.1,342.1 401.7,344.5 402.2,346.3 402.8,341.8 403.3,344.0 403.9,345.4 404.4,347.5 405.0,346.3 405.5,347.8 406.1,347.2 406.6,349.3 407.2,348.0 407.7,350.9 408.3,347.5 408.8,349.5 409.4,354.4 409.9,353.5 410.5,353.2 411.0,357.5 411.6,357.1 412.1,358.0 412.7,357.2 413.2,359.1 413.8,359.9 414.3,358.4 414.9,361.7 415.4,361.8 416.0,364.3 416.5,365.1 417.1,363.7 417.6,364.5 418.2,366.0 418.7,367.0 419.3,366.3 419.8,367.1 420.4,368.3 420.9,368.4 421.5,369.6 422.0,368.9 422.6,368.0 423.1,367.3 423.7,370.5 424.2,369.6 424.8,369.9 425.3,370.3 425.9,369.3 426.4,371.0 427.0,368.9 427.5,371.8 428.1,371.6 428.6,375.1 429.2,374.0 429.7,373.7 430.3,374.3 430.8,374.7 431.4,375.2 431.9,375.7 432.5,376.2 433.0,376.7 433.6,377.2 434.1,377.9 434.7,378.6 435.2,379.5 435.8,380.3 436.3,381.1 436.9,381.9 437.4,382.6 438.0,383.1 438.5,383.4 439.1,383.5 439.6,382.4 440.2,380.2 440.7,377.9 441.3,376.0 441.8,374.2 442.4,372.3 442.9,370.5 443.5,368.6 444.0,366.6 444.6,364.6 445.1,362.6 445.7,360.6 446.2,358.6 446.8,356.4 447.3,354.1 447.9,351.5 448.4,348.5 449.0,344.9 449.5,341.0 450.1,336.8 450.6,332.8 451.2,328.9 451.7,325.5 452.3,322.4 452.8,319.6 453.4,316.9 453.9,314.2 454.5,311.5 455.0,308.6 455.6,305.4 456.1,301.8 456.7,297.7 457.2,292.9 457.8,287.6 458.3,281.7 458.9,275.5 459.4,269.0 460.0,262.3 460.5,255.5 461.1,248.8 461.6,241.6 462.2,234.0 462.7,226.0 463.3,218.0 463.8,210.1 464.4,202.6 464.9,195.6 465.5,189.3 466.0,183.5 466.6,177.9 467.1,172.2 467.7,166.2 468.2,159.6 468.8,152.8 469.3,145.6 469.9,138.3 470.4,130.7 471.0,122.5 471.5,113.6 472.1,105.2 472.6,98.3 473.2,93.0 473.7,88.3 474.3,83.2 474.8,76.6 475.4,69.0 475.9,63.3 476.5,60.1 477.0,58.1 477.6,58.8 478.1,61.7 478.7,65.6 479.2,71.7 479.8,79.4 480.3,87.3 480.9,96.2 481.4,105.6 482.0,115.0 482.5,123.9 483.1,132.6 483.6,141.4 484.2,151.0 484.7,161.8 485.3,176.0 485.8,191.9 486.4,202.0 486.9,210.6 487.5,216.5 488.0,217.8 488.6,213.5 489.1,205.6 489.7,196.0 490.2,180.1 490.8,165.0 491.3,152.9 491.9,148.2 492.4,154.4 493.0,163.6 493.5,176.7 494.1,186.1 494.6,192.1 495.2,196.9 495.7,199.7 496.3,199.7 496.8,198.0 497.4,195.3 497.9,192.3 498.5,188.5 499.0,183.4 499.6,178.1 500.1,173.8 500.7,171.3 501.2,169.4 501.8,167.9 502.3,166.9 502.9,166.7 503.4,171.0 504.0,177.2 504.5,180.0 505.1,175.6 505.6,166.5 506.2,155.5 506.7,138.8 507.3,126.5 507.8,119.3 508.4,116.0 508.9,116.4 509.5,117.2 510.0,118.1 510.6,118.8 511.1,119.5 511.7,120.2 512.2,120.9 512.8,121.6 513.3,122.3 513.9,122.9 514.4,123.5 515.0,124.2 515.5,125.0 516.1,126.0 516.6,127.6 517.2,129.7 517.7,132.1 518.3,134.6 518.8,137.2 519.4,139.7 519.9,141.9 520.5,144.2 521.0,146.4 521.6,148.7 522.1,150.9 522.7,153.1 523.2,155.2 523.8,157.3 524.3,159.3 524.9,161.4 525.4,163.4 526.0,165.3 526.5,167.1 527.1,168.8 527.6,170.4 528.2,171.8 528.7,173.2 529.3,174.6 529.8,176.1 530.4,178.1 530.9,180.2 531.5,181.5 532.0,178.9 532.6,166.6 533.1,149.9 533.7,134.3 534.2,114.7 534.8,93.6 535.3,76.9 535.9,70.0 536.4,72.3 537.0,78.2 537.5,86.1 538.1,96.9 538.6,116.1 539.2,134.4 539.7,142.4 540.3,146.9 540.8,150.2 541.4,152.8 541.9,154.8 542.5,156.4 543.0,157.5 543.6,158.7 544.1,160.6 544.7,163.8 545.2,168.2 545.8,173.1 546.3,178.9 546.9,186.4 547.4,194.1 548.0,200.0 548.5,204.6 549.1,208.7 549.6,211.4 550.2,211.9 550.7,211.3 551.3,210.1 551.8,208.5 552.4,205.7 552.9,200.4 553.5,194.3 554.0,189.7 554.6,186.1 555.1,182.7 555.7,179.6 556.2,177.1 556.8,175.4 557.3,174.4 557.9,173.6 558.4,172.9 559.0,172.4 559.5,172.1 560.1,172.0 560.6,172.6 561.2,173.8 561.7,175.3 562.3,177.1 562.8,178.9 563.4,181.3 563.9,184.0 564.5,186.0 565.0,187.5 565.6,188.9 566.1,189.8 566.7,190.0 567.2,189.8 567.8,189.5 568.3,189.1 568.9,188.4 569.4,186.8 570.0,184.5 570.5,181.7 571.1,177.7 571.6,172.2 572.2,165.7 572.7,158.7 573.3,150.3 573.8,140.8 574.4,130.1 574.9,118.1 575.5,105.0 576.0,90.2 576.6,74.7 577.1,59.9 577.7,46.2 578.2,35.1 578.8,26.6 579.3,20.6 579.9,21.7 580.4,25.1 581.0,30.0 581.5,36.7 582.1,48.0 582.6,61.2 583.2,77.4 583.7,94.6 584.3,111.7 584.8,126.1 585.4,138.6 585.9,149.8 586.5,160.0 587.0,168.6 587.6,176.5 588.1,186.0 588.7,198.7 589.2,213.9 589.8,230.1 590.3,245.9 590.9,261.1 591.4,276.8 592.0,291.4 592.5,302.9 593.1,311.9 593.6,319.8 594.2,326.6 594.7,332.5 595.3,337.8 595.8,342.6 596.4,347.0 596.9,350.9 597.5,354.3 598.0,357.2 598.6,360.1 599.1,362.9 599.7,365.5 600.2,367.6 600.8,369.2 601.3,370.0 601.9,369.5 602.4,367.7 603.0,365.8 603.5,365.0 604.1,365.9 604.6,367.7 605.2,369.8 605.7,371.5 606.3,372.4 606.8,373.0 607.4,373.5 607.9,373.9 608.5,374.4 609.0,375.1 609.6,376.1 610.1,377.4 610.7,378.9 611.2,380.4 611.8,381.7 612.3,382.8 612.9,383.6 613.4,384.3 614.0,384.8 614.5,385.0 615.1,380.9 615.6,372.3 616.2,361.9 616.7,352.9 617.3,347.3 617.8,343.0 618.4,339.5 618.9,336.7 619.5,334.3 620.0,332.2 620.6,330.3 621.1,328.5 621.7,326.9 622.2,325.4 622.8,324.1 623.3,322.9 623.9,322.0 624.4,321.2 625.0,320.6 625.5,319.6 626.1,318.1 626.6,320.0 627.2,317.9 627.7,319.0 628.3,315.8 628.8,318.8 629.4,314.5 629.9,315.7 630.5,311.6 631.0,310.9 631.6,308.0 632.1,307.5 632.7,305.2 633.2,305.7 633.8,303.6 634.3,302.5 634.9,302.6 635.4,298.2 636.0,299.6 636.5,296.5 637.1,292.9 637.6,294.1 638.2,291.6 638.7,292.5 639.3,287.9 639.8,286.9 640.4,285.4 640.9,280.6 641.5,281.9 642.0,277.8 642.6,278.9 643.1,277.0 643.7,272.4 644.2,267.9 644.8,267.8 645.3,265.3 645.9,263.4 646.4,259.4 647.0,255.5 647.5,254.2 648.1,250.2 648.6,250.9 649.2,244.5 649.7,241.5 650.3,239.1 650.8,234.2 651.4,231.9 651.9,228.5 652.5,224.0 653.0,220.2 653.6,217.9 654.1,212.6 654.7,206.0 655.2,203.2 655.8,201.1 656.3,195.8 656.9,193.8 657.4,191.1 658.0,189.7 658.5,186.7 659.1,184.9 659.6,182.0 660.2,181.7 660.7,177.7 661.3,179.2 661.8,174.6 662.4,172.0 662.9,171.0 663.5,167.2 664.0,164.6 664.6,160.9 665.1,156.2 665.7,152.4 666.2,149.9 666.8,149.8 667.3,145.0 667.9,143.3 668.4,141.7 669.0,142.2 669.5,143.0 670.1,138.4 670.6,140.4 671.2,140.1" fill="none" stroke="#e377c2" stroke-opacity="0.95" stroke-width="1.4" stroke-linejoin="round"/>
<polyline points="38.7,384.7 39.2,385.1 39.8,384.6 40.3,383.3 40.9,382.3 41.4,384.5 42.0,383.1 42.5,384.3 43.1,382.9 43.6,382.1 44.2,382.8 44.7,381.9 45.3,381.8 45.8,380.9 46.4,381.7 46.9,381.7 47.5,380.3 48.0,381.6 48.6,379.6 49.1,379.9 49.7,378.3 50.2,377.7 50.8,380.3 51.3,379.5 51.9,379.0 52.4,376.6 53.0,377.7 53.5,377.5 54.1,376.9 54.6,376.7 55.2,375.5 55.7,375.7 56.3,374.7 56.8,374.9 57.4,375.0 57.9,373.9 58.5,373.8 59.0,373.4 59.6,373.3 60.1,373.6 60.7,372.7 61.2,372.4 61.8,370.6 62.3,370.9 62.9,371.3 63.4,369.6 64.0,369.5 64.5,368.6 65.1,369.8 65.6,368.0 66.2,367.3 66.7,367.8 67.3,367.7 67.8,366.8 68.4,366.7 68.9,365.7 69.5,365.0 70.0,364.4 70.6,363.9 71.1,363.5 71.7,363.8 72.2,363.1 72.8,362.9 73.3,362.9 73.9,362.1 74.4,360.8 75.0,360.9 75.5,360.4 76.1,359.5 76.6,360.6 77.2,359.4 77.7,359.0 78.3,358.9 78.8,360.0 79.4,358.8 79.9,359.4 80.5,358.3 81.0,357.8 81.6,358.2 82.1,357.8 82.7,357.2 83.2,356.0 83.8,356.1 84.3,355.3 84.9,355.6 85.4,355.5 86.0,356.2 86.5,355.8 87.1,354.9 87.6,354.7 88.2,353.8 88.7,355.2 89.3,353.8 89.8,354.1 90.4,352.0 90.9,351.5 91.5,351.4 92.0,350.2 92.6,349.7 93.1,348.2 93.7,349.0 94.2,347.9 94.8,347.8 95.3,346.5 95.9,344.8 96.4,345.8 97.0,345.6 97.5,343.1 98.1,342.4 98.6,341.7 99.2,340.4 99.7,337.7 100.3,338.4 100.8,336.0 101.4,332.8 101.9,329.8 102.5,329.2 103.0,328.2 103.6,325.1 104.1,322.9 104.7,318.8 105.2,316.9 105.8,312.8 106.3,312.4 106.9,308.4 107.4,303.5 108.0,300.7 108.5,299.5 109.1,296.5 109.6,293.4 110.2,291.5 110.7,290.0 111.3,286.4 111.8,282.4 112.4,281.4 112.9,279.0 113.5,276.8 114.0,274.5 114.6,272.2 115.1,270.0 115.7,267.8 116.2,265.5 116.8,263.3 117.3,261.1 117.9,258.8 118.4,256.5 119.0,254.2 119.5,251.9 120.1,249.5 120.6,247.1 121.2,244.6 121.7,242.1 122.3,239.5 122.8,236.8 123.4,234.0 123.9,231.0 124.5,228.0 125.0,224.9 125.6,221.9 126.1,219.0 126.7,216.1 127.2,213.4 127.8,210.9 128.3,208.5 128.9,206.4 129.4,204.3 130.0,202.3 130.5,200.4 131.1,198.5 131.6,196.6 132.2,194.7 132.7,192.8 133.3,190.8 133.8,188.7 134.4,186.5 134.9,184.3 135.5,182.1 136.0,179.9 136.6,177.7 137.1,175.4 137.7,173.2 138.2,171.0 138.8,168.8 139.3,166.5 139.9,164.1 140.4,161.8 141.0,159.4 141.5,157.1 142.1,154.9 142.6,152.9 143.2,151.0 143.7,149.2 144.3,147.7 144.8,146.3 145.4,144.9 145.9,143.6 146.5,142.3 147.0,140.9 147.6,139.5 148.1,137.9 148.7,136.2 149.2,134.6 149.8,133.0 150.3,131.5 150.9,130.2 151.4,129.1 152.0,128.0 152.5,127.0 153.1,126.1 153.6,125.2 154.2,124.4 154.7,123.8 155.3,123.2 155.8,122.6 156.4,122.1 156.9,121.6 157.5,121.2 158.0,120.8 158.6,120.6 159.1,120.6 159.7,120.6 160.2,120.6 160.8,120.7 161.3,120.7 161.9,120.8 162.4,120.9 163.0,120.9 163.5,121.0 164.1,121.2 164.6,121.3 165.2,121.5 165.7,121.6 166.3,121.9 166.8,122.1 167.4,122.4 167.9,122.6 168.5,122.9 169.0,123.3 169.6,123.6 170.1,123.9 170.7,124.3 171.2,124.7 171.8,125.1 172.3,125.5 172.9,125.9 173.4,126.4 174.0,127.0 174.5,127.5 175.1,128.2 175.6,128.9 176.2,129.8 176.7,130.8 177.3,131.8 177.8,132.8 178.4,133.7 178.9,134.5 179.5,135.3 180.0,136.0 180.6,136.7 181.1,137.4 181.7,138.1 182.2,138.8 182.8,139.6 183.3,140.4 183.9,141.3 184.4,142.3 185.0,143.5 185.5,144.9 186.1,146.5 186.6,148.1 187.2,149.7 187.7,151.3 188.3,152.8 188.8,154.3 189.4,155.9 189.9,157.5 190.5,159.1 191.0,160.7 191.6,162.3 192.1,164.0 192.7,165.7 193.2,167.5 193.8,169.3 194.3,171.1 194.9,172.9 195.4,174.7 196.0,176.5 196.5,178.1 197.1,179.8 197.6,181.4 198.2,183.0 198.7,184.6 199.3,186.1 199.8,187.6 200.4,189.0 200.9,190.4 201.5,191.7 202.0,192.9 202.6,194.1 203.1,195.3 203.7,196.4 204.2,197.6 204.8,198.6 205.3,199.7 205.9,200.8 206.4,201.9 207.0,202.9 207.5,204.0 208.1,205.0 208.6,206.0 209.2,207.0 209.7,208.0 210.3,208.9 210.8,209.9 211.4,210.8 211.9,211.7 212.5,212.6 213.0,213.5 213.6,214.4 214.1,215.3 214.7,216.1 215.2,217.0 215.8,217.7 216.3,218.5 216.9,219.2 217.4,219.9 218.0,220.6 218.5,221.0 219.1,221.4 219.6,221.8 220.2,222.1 220.7,222.3 221.3,222.3 221.8,222.2 222.4,222.1 222.9,221.9 223.5,221.7 224.0,221.5 224.6,221.2 225.1,220.9 225.7,220.4 226.2,219.7 226.8,218.8 227.3,217.9 227.9,216.9 228.4,216.1 229.0,215.2 229.5,214.2 230.1,213.2 230.6,212.3 231.2,211.5 231.7,211.1 232.3,211.0 232.8,211.1 233.4,211.2 233.9,211.3 234.5,211.5 235.0,211.8 235.6,212.2 236.1,212.9 236.7,213.6 237.2,214.4 237.8,215.9 238.3,217.6 238.9,219.5 239.4,221.3 240.0,222.6 240.5,223.5 241.1,224.3 241.6,224.9 242.2,225.5 242.7,226.1 243.3,226.7 243.8,227.3 244.4,228.0 244.9,228.9 245.5,229.9 246.0,231.1 246.6,232.4 247.1,233.9 247.7,235.6 248.2,237.5 248.8,240.1 249.3,243.6 249.9,247.5 250.4,251.2 251.0,254.2 251.5,256.2 252.1,257.2 252.6,257.9 253.2,258.5 253.7,259.1 254.3,259.6 254.8,260.2 255.4,260.8 255.9,261.4 256.5,261.9 257.0,262.5 257.6,263.1 258.1,263.7 258.7,264.3 259.2,264.8 259.8,265.4 260.3,265.9 260.9,266.5 261.4,267.0 262.0,267.5 262.5,268.0 263.1,268.5 263.6,269.0 264.2,269.4 264.7,269.9 265.3,270.3 265.8,270.7 266.4,271.1 266.9,271.4 267.5,271.8 268.0,272.1 268.6,272.4 269.1,272.7 269.7,273.0 270.2,273.3 270.8,273.6 271.3,273.8 271.9,274.1 272.4,274.3 273.0,274.6 273.5,274.8 274.1,275.1 274.6,275.3 275.2,275.6 275.7,275.8 276.3,276.0 276.8,276.3 277.4,276.5 277.9,276.8 278.5,277.0 279.0,277.3 279.6,277.6 280.1,277.8 280.7,278.1 281.2,278.4 281.8,278.7 282.3,279.1 282.9,279.4 283.4,279.7 284.0,280.1 284.5,280.5 285.1,280.9 285.6,281.4 286.2,281.8 286.7,282.2 287.3,282.6 287.8,283.0 288.4,283.4 288.9,283.8 289.5,284.2 290.0,284.5 290.6,284.8 291.1,285.1 291.7,285.4 292.2,285.7 292.8,285.9 293.3,286.2 293.9,286.4 294.4,286.7 295.0,286.9 295.5,287.2 296.1,287.4 296.6,287.7 297.2,288.0 297.7,288.3 298.3,288.6 298.8,288.9 299.4,289.2 299.9,289.6 300.5,289.0 301.0,289.5 301.6,291.1 302.1,290.9 302.7,291.3 303.2,291.7 303.8,291.9 304.3,292.8 304.9,293.0 305.4,293.4 306.0,294.3 306.5,293.9 307.1,295.3 307.6,293.9 308.2,296.5 308.7,294.9 309.3,296.1 309.8,296.5 310.4,296.3 310.9,296.9 311.5,296.7 312.0,296.1 312.6,297.4 313.1,298.1 313.7,297.5 314.2,297.2 314.8,298.1 315.3,298.9 315.9,299.2 316.4,300.1 317.0,300.2 317.5,300.7 318.1,300.0 318.6,302.6 319.2,302.0 319.7,303.0 320.3,302.9 320.8,303.5 321.4,304.1 321.9,305.3 322.5,305.7 323.0,305.6 323.6,306.7 324.1,305.9 324.7,306.7 325.2,306.5 325.8,307.8 326.3,307.5 326.9,308.3 327.4,309.0 328.0,307.4 328.5,309.8 329.1,309.2 329.6,309.2 330.2,308.7 330.7,309.8 331.3,309.2 331.8,310.6 332.4,310.8 332.9,312.1 333.5,311.3 334.0,312.3 334.6,312.6 335.1,313.4 335.7,312.5 336.2,313.3 336.8,312.5 337.3,313.0 337.9,313.7 338.4,314.2 339.0,313.9 339.5,314.6 340.1,315.5 340.6,315.2 341.2,315.7 341.7,315.7 342.3,317.1 342.8,317.6 343.4,317.2 343.9,317.4 344.5,318.6 345.0,318.3 345.6,318.1 346.1,318.1 346.7,318.8 347.2,320.5 347.8,319.4 348.3,321.5 348.9,320.4 349.4,320.6 350.0,321.7 350.5,321.2 351.1,321.9 351.6,321.5 352.2,321.7 352.7,322.2 353.3,323.0 353.8,322.9 354.4,322.5 354.9,324.0 355.5,324.0 356.0,324.2 356.6,324.3 357.1,323.8 357.7,325.9 358.2,325.1 358.8,325.9 359.3,326.6 359.9,326.7 360.4,326.5 361.0,326.6 361.5,327.1 362.1,327.7 362.6,327.8 363.2,327.6 363.7,328.5 364.3,328.9 364.8,329.5 365.4,329.8 365.9,331.0 366.5,331.0 367.0,332.0 367.6,332.1 368.1,332.4 368.7,332.8 369.2,333.6 369.8,334.4 370.3,335.2 370.9,334.8 371.4,334.9 372.0,335.3 372.5,336.4 373.1,336.1 373.6,336.1 374.2,337.0 374.7,336.2 375.3,337.2 375.8,337.3 376.4,337.5 376.9,337.3 377.5,338.6 378.0,339.2 378.6,337.9 379.1,338.9 379.7,339.4 380.2,340.5 380.8,339.5 381.3,339.5 381.9,340.3 382.4,341.6 383.0,341.0 383.5,341.4 384.1,342.5 384.6,340.9 385.2,341.3 385.7,343.1 386.3,343.4 386.8,342.7 387.4,344.0 387.9,344.2 388.5,344.6 389.0,344.5 389.6,345.1 390.1,345.3 390.7,346.1 391.2,346.4 391.8,347.7 392.3,347.6 392.9,346.9 393.4,348.3 394.0,349.2 394.5,349.1 395.1,349.9 395.6,349.8 396.2,350.6 396.7,350.3 397.3,351.6 397.8,351.0 398.4,352.7 398.9,351.8 399.5,352.0 400.0,353.7 400.6,353.8 401.1,354.4 401.7,355.0 402.2,355.2 402.8,355.3 403.3,356.2 403.9,356.7 404.4,357.3 405.0,358.4 405.5,357.6 406.1,358.4 406.6,359.1 407.2,359.0 407.7,359.1 408.3,359.9 408.8,361.1 409.4,360.9 409.9,361.7 410.5,361.5 411.0,362.5 411.6,362.4 412.1,362.7 412.7,363.6 413.2,363.9 413.8,365.0 414.3,363.9 414.9,365.3 415.4,366.3 416.0,366.5 416.5,366.0 417.1,366.3 417.6,366.7 418.2,367.5 418.7,367.8 419.3,368.3 419.8,368.8 420.4,368.3 420.9,368.7 421.5,369.0 422.0,369.4 422.6,370.4 423.1,371.0 423.7,372.5 424.2,371.9 424.8,372.0 425.3,373.1 425.9,372.5 426.4,373.4 427.0,374.1 427.5,374.5 428.1,374.7 428.6,374.8 429.2,374.7 429.7,375.7 430.3,376.0 430.8,377.0 431.4,377.1 431.9,377.9 432.5,377.2 433.0,378.8 433.6,378.2 434.1,378.3 434.7,378.7 435.2,379.6 435.8,380.9 436.3,381.2 436.9,380.8 437.4,381.9 438.0,382.2 438.5,381.8 439.1,382.3 439.6,381.4 440.2,381.3 440.7,380.0 441.3,378.6 441.8,377.2 442.4,375.7 442.9,374.0 443.5,372.1 444.0,369.8 444.6,367.1 445.1,364.4 445.7,362.4 446.2,360.4 446.8,358.3 447.3,356.0 447.9,353.4 448.4,350.4 449.0,347.1 449.5,343.6 450.1,340.1 450.6,336.6 451.2,333.3 451.7,330.2 452.3,327.0 452.8,323.9 453.4,320.8 453.9,317.8 454.5,314.8 455.0,311.8 455.6,309.0 456.1,306.3 456.7,303.6 457.2,301.0 457.8,298.3 458.3,295.5 458.9,292.5 459.4,289.3 460.0,286.0 460.5,282.6 461.1,279.0 461.6,275.2 462.2,271.1 462.7,266.5 463.3,261.2 463.8,255.4 464.4,248.8 464.9,242.9 465.5,237.4 466.0,232.1 466.6,227.1 467.1,222.7 467.7,219.0 468.2,215.6 468.8,212.2 469.3,208.7 469.9,204.8 470.4,200.5 471.0,195.4 471.5,189.7 472.1,183.5 472.6,177.1 473.2,170.6 473.7,164.1 474.3,156.8 474.8,149.6 475.4,143.7 475.9,139.5 476.5,136.5 477.0,137.4 477.6,148.2 478.1,160.1 478.7,175.0 479.2,191.5 479.8,207.9 480.3,225.4 480.9,242.0 481.4,257.2 482.0,270.8 482.5,283.4 483.1,294.5 483.6,303.8 484.2,312.3 484.7,319.9 485.3,326.7 485.8,324.7 486.4,317.4 486.9,309.8 487.5,301.9 488.0,293.4 488.6,283.9 489.1,273.2 489.7,256.6 490.2,233.2 490.8,212.1 491.3,189.5 491.9,177.0 492.4,179.3 493.0,195.4 493.5,213.6 494.1,222.5 494.6,229.0 495.2,232.5 495.7,235.1 496.3,237.3 496.8,238.2 497.4,237.7 497.9,234.9 498.5,230.6 499.0,225.8 499.6,221.6 500.1,217.4 500.7,213.1 501.2,209.6 501.8,207.7 502.3,208.9 502.9,212.6 503.4,216.8 504.0,222.5 504.5,226.6 505.1,225.5 505.6,219.6 506.2,211.3 506.7,198.7 507.3,189.3 507.8,183.7 508.4,181.3 508.9,181.9 509.5,183.5 510.0,185.6 510.6,188.2 511.1,192.9 511.7,197.9 512.2,200.5 512.8,201.8 513.3,202.6 513.9,202.8 514.4,202.2 515.0,201.4 515.5,200.6 516.1,199.9 516.6,199.1 517.2,198.8 517.7,199.7 518.3,201.2 518.8,202.9 519.4,204.6 519.9,206.2 520.5,208.1 521.0,210.0 521.6,211.8 522.1,213.6 522.7,215.3 523.2,216.9 523.8,218.4 524.3,219.8 524.9,221.1 525.4,222.4 526.0,223.8 526.5,224.9 527.1,226.7 527.6,228.8 528.2,230.7 528.7,232.9 529.3,234.8 529.8,235.7 530.4,233.9 530.9,229.3 531.5,222.8 532.0,212.9 532.6,198.9 533.1,183.5 533.7,169.1 534.2,152.6 534.8,135.0 535.3,120.7 535.9,114.2 536.4,117.7 537.0,126.6 537.5,136.9 538.1,149.6 538.6,164.1 539.2,179.0 539.7,193.6 540.3,201.5 540.8,206.1 541.4,205.3 541.9,200.7 542.5,196.3 543.0,191.9 543.6,189.5 544.1,188.7 544.7,188.9 545.2,190.7 545.8,193.6 546.3,196.6 546.9,200.2 547.4,204.8 548.0,211.2 548.5,220.0 549.1,228.8 549.6,237.7 550.2,245.6 550.7,249.8 551.3,252.2 551.8,252.9 552.4,250.9 552.9,246.1 553.5,240.3 554.0,233.3 554.6,223.3 555.1,212.3 555.7,202.5 556.2,195.7 556.8,191.3 557.3,187.6 557.9,184.9 558.4,183.2 559.0,182.0 559.5,181.1 560.1,180.8 560.6,182.6 561.2,186.7 561.7,191.4 562.3,195.1 562.8,199.0 563.4,201.7 563.9,200.2 564.5,196.8 565.0,193.5 565.6,191.7 566.1,190.8 566.7,190.0 567.2,188.9 567.8,187.0 568.3,184.1 568.9,180.8 569.4,177.6 570.0,174.8 570.5,171.8 571.1,168.4 571.6,164.0 572.2,157.3 572.7,146.3 573.3,135.8 573.8,125.2 574.4,114.6 574.9,105.5 575.5,96.6 576.0,86.3 576.6,69.8 577.1,53.9 577.7,41.2 578.2,31.5 578.8,24.5 579.3,20.2 579.9,21.5 580.4,25.5 581.0,30.9 581.5,38.1 582.1,49.5 582.6,62.3 583.2,76.6 583.7,90.9 584.3,105.7 584.8,120.2 585.4,131.4 585.9,141.2 586.5,150.7 587.0,160.7 587.6,171.5 588.1,184.0 588.7,198.3 589.2,214.4 589.8,231.1 590.3,247.1 590.9,262.1 591.4,277.6 592.0,292.1 592.5,303.9 593.1,313.3 593.6,321.6 594.2,328.7 594.7,334.8 595.3,340.5 595.8,345.5 596.4,349.8 596.9,353.3 597.5,356.5 598.0,359.2 598.6,361.8 599.1,364.3 599.7,366.7 600.2,368.7 600.8,370.1 601.3,370.7 601.9,370.5 602.4,368.8 603.0,366.9 603.5,366.1 604.1,367.5 604.6,370.1 605.2,372.0 605.7,372.8 606.3,373.3 606.8,373.7 607.4,374.0 607.9,374.3 608.5,374.7 609.0,375.3 609.6,376.3 610.1,377.4 610.7,378.7 611.2,379.9 611.8,381.2 612.3,382.4 612.9,383.6 613.4,381.1 614.0,377.6 614.5,374.2 615.1,370.8 615.6,367.6 616.2,364.4 616.7,361.4 617.3,358.4 617.8,355.5 618.4,352.7 618.9,350.0 619.5,347.4 620.0,344.8 620.6,342.1 621.1,339.5 621.7,336.8 622.2,334.2 622.8,331.6 623.3,329.1 623.9,326.8 624.4,324.6 625.0,322.7 625.5,317.9 626.1,317.6 626.6,316.7 627.2,315.9 627.7,315.0 628.3,312.3 628.8,310.0 629.4,311.2 629.9,309.1 630.5,309.5 631.0,306.4 631.6,306.8 632.1,303.5 632.7,303.9 633.2,302.5 633.8,302.0 634.3,299.2 634.9,299.3 635.4,297.4 636.0,297.3 636.5,297.3 637.1,299.4 637.6,294.4 638.2,294.0 638.7,291.9 639.3,291.8 639.8,289.2 640.4,288.1 640.9,285.1 641.5,285.4 642.0,281.6 642.6,274.9 643.1,274.8 643.7,271.7 644.2,265.9 644.8,264.9 645.3,262.6 645.9,259.4 646.4,257.7 647.0,252.2 647.5,252.5 648.1,249.3 648.6,245.4 649.2,241.0 649.7,237.8 650.3,233.2 650.8,231.0 651.4,225.4 651.9,222.4 652.5,214.1 653.0,211.2 653.6,203.0 654.1,198.1 654.7,191.5 655.2,188.2 655.8,181.7 656.3,176.5 656.9,171.5 657.4,163.4 658.0,158.3 658.5,153.7 659.1,147.9 659.6,143.5 660.2,141.2 660.7,138.1 661.3,135.3 661.8,132.5 662.4,127.9 662.9,127.1 663.5,126.2 664.0,122.3 664.6,122.0 665.1,119.4 665.7,119.3 666.2,120.4 666.8,117.4 667.3,114.9 667.9,115.7 668.4,114.6 669.0,114.7 669.5,110.5 670.1,110.1 670.6,110.2 671.2,107.3" fill="none" stroke="#7f7f7f" stroke-opacity="0.95" stroke-width="1.4" stroke-linejoin="round"/>
<polyline points="38.7,386.2 39.2,381.4 39.8,382.8 40.3,381.6 40.9,382.5 41.4,384.4 42.0,383.8 42.5,384.0 43.1,383.3 43.6,379.2 44.2,382.2 44.7,378.9 45.3,380.5 45.8,380.4 46.4,379.8 46.9,381.0 47.5,378.9 48.0,382.2 48.6,380.3 49.1,380.8 49.7,379.9 50.2,379.7 50.8,378.1 51.3,380.6 51.9,376.0 52.4,377.8 53.0,376.8 53.5,376.2 54.1,376.6 54.6,374.7 55.2,376.7 55.7,376.2 56.3,374.9 56.8,375.4 57.4,372.5 57.9,371.0 58.5,372.4 59.0,372.5 59.6,376.1 60.1,371.7 60.7,373.1 61.2,372.4 61.8,373.8 62.3,370.5 62.9,370.8 63.4,369.1 64.0,367.6 64.5,366.9 65.1,366.7 65.6,369.4 66.2,367.3 66.7,366.1 67.3,365.9 67.8,364.5 68.4,364.8 68.9,364.4 69.5,364.9 70.0,364.8 70.6,360.7 71.1,363.0 71.7,364.3 72.2,360.5 72.8,361.2 73.3,361.5 73.9,362.5 74.4,361.4 75.0,359.9 75.5,360.6 76.1,361.0 76.6,359.8 77.2,361.6 77.7,359.2 78.3,356.7 78.8,356.8 79.4,357.4 79.9,356.9 80.5,357.8 81.0,357.1 81.6,358.7 82.1,357.0 82.7,357.6 83.2,354.1 83.8,354.2 84.3,355.5 84.9,354.3 85.4,354.7 86.0,353.8 86.5,352.1 87.1,355.1 87.6,353.8 88.2,349.5 88.7,350.4 89.3,350.8 89.8,351.2 90.4,349.6 90.9,347.1 91.5,349.7 92.0,347.6 92.6,349.0 93.1,347.0 93.7,347.4 94.2,346.5 94.8,346.0 95.3,343.3 95.9,344.8 96.4,342.9 97.0,340.0 97.5,340.5 98.1,339.7 98.6,340.0 99.2,339.3 99.7,335.8 100.3,337.4 100.8,335.1 101.4,332.5 101.9,334.0 102.5,330.3 103.0,328.2 103.6,329.2 104.1,327.3 104.7,322.6 105.2,322.5 105.8,319.6 106.3,314.5 106.9,315.1 107.4,309.2 108.0,306.6 108.5,300.1 109.1,301.8 109.6,297.5 110.2,296.9 110.7,291.8 111.3,293.9 111.8,292.4 112.4,288.4 112.9,286.5 113.5,284.7 114.0,282.9 114.6,281.2 115.1,279.5 115.7,277.8 116.2,276.2 116.8,274.6 117.3,273.0 117.9,271.4 118.4,269.9 119.0,268.3 119.5,266.8 120.1,265.3 120.6,263.7 121.2,262.2 121.7,260.7 122.3,259.2 122.8,257.7 123.4,256.1 123.9,254.6 124.5,253.0 125.0,251.5 125.6,249.9 126.1,248.2 126.7,246.6 127.2,244.9 127.8,243.2 128.3,241.5 128.9,239.7 129.4,237.8 130.0,236.0 130.5,234.0 131.1,232.1 131.6,230.1 132.2,228.1 132.7,226.1 133.3,224.1 133.8,222.1 134.4,220.1 134.9,218.2 135.5,216.2 136.0,214.3 136.6,212.5 137.1,210.7 137.7,208.9 138.2,207.2 138.8,205.5 139.3,203.8 139.9,202.1 140.4,200.3 141.0,198.6 141.5,196.9 142.1,195.2 142.6,193.5 143.2,191.9 143.7,190.3 144.3,188.8 144.8,187.3 145.4,185.9 145.9,184.6 146.5,183.3 147.0,182.2 147.6,181.2 148.1,180.2 148.7,179.4 149.2,178.7 149.8,178.1 150.3,177.6 150.9,178.1 151.4,176.4 152.0,176.7 152.5,175.6 153.1,174.2 153.6,172.9 154.2,173.3 154.7,171.9 155.3,171.4 155.8,170.4 156.4,171.5 156.9,170.5 157.5,170.1 158.0,170.0 158.6,169.7 159.1,169.6 159.7,169.8 160.2,169.4 160.8,168.2 161.3,170.0 161.9,169.8 162.4,169.6 163.0,170.4 163.5,168.8 164.1,168.0 164.6,170.4 165.2,169.8 165.7,168.7 166.3,169.4 166.8,170.0 167.4,169.0 167.9,170.0 168.5,170.9 169.0,170.6 169.6,169.8 170.1,170.0 170.7,169.3 171.2,169.8 171.8,169.5 172.3,169.1 172.9,168.8 173.4,170.6 174.0,169.8 174.5,169.5 175.1,170.1 175.6,171.4 176.2,171.7 176.7,170.8 177.3,171.5 177.8,172.2 178.4,171.8 178.9,171.7 179.5,172.2 180.0,173.1 180.6,173.2 181.1,173.5 181.7,174.7 182.2,176.0 182.8,176.5 183.3,176.8 183.9,178.7 184.4,178.0 185.0,179.2 185.5,180.0 186.1,180.8 186.6,181.7 187.2,182.6 187.7,183.6 188.3,184.5 188.8,185.5 189.4,186.5 189.9,187.4 190.5,188.3 191.0,189.2 191.6,190.1 192.1,191.0 192.7,191.9 193.2,192.8 193.8,193.7 194.3,194.6 194.9,195.5 195.4,196.4 196.0,197.4 196.5,198.3 197.1,199.3 197.6,200.3 198.2,201.3 198.7,202.4 199.3,203.5 199.8,204.5 200.4,205.6 200.9,206.5 201.5,207.4 202.0,208.3 202.6,209.1 203.1,209.9 203.7,210.7 204.2,211.5 204.8,212.2 205.3,213.0 205.9,213.7 206.4,214.4 207.0,215.1 207.5,215.7 208.1,216.4 208.6,217.0 209.2,217.6 209.7,218.2 210.3,218.8 210.8,219.4 211.4,220.0 211.9,220.5 212.5,221.0 213.0,221.5 213.6,222.0 214.1,222.5 214.7,222.9 215.2,223.3 215.8,223.7 216.3,224.1 216.9,224.3 217.4,224.4 218.0,224.5 218.5,224.5 219.1,224.6 219.6,224.6 220.2,224.6 220.7,224.4 221.3,224.1 221.8,223.6 222.4,223.1 222.9,222.5 223.5,222.0 224.0,221.2 224.6,220.4 225.1,219.5 225.7,218.5 226.2,217.6 226.8,216.8 227.3,216.0 227.9,215.1 228.4,214.1 229.0,213.2 229.5,212.3 230.1,211.6 230.6,211.1 231.2,210.9 231.7,210.9 232.3,211.1 232.8,211.3 233.4,211.6 233.9,212.0 234.5,212.5 235.0,213.4 235.6,214.6 236.1,215.9 236.7,217.3 237.2,218.6 237.8,220.2 238.3,221.9 238.9,223.6 239.4,225.2 240.0,226.6 240.5,227.6 241.1,228.4 241.6,229.1 242.2,229.7 242.7,230.3 243.3,231.0 243.8,231.8 244.4,232.7 244.9,233.8 245.5,235.1 246.0,236.4 246.6,237.9 247.1,239.4 247.7,241.1 248.2,242.9 248.8,245.3 249.3,247.7 249.9,249.6 250.4,250.6 251.0,251.5 251.5,252.2 252.1,252.8 252.6,253.3 253.2,253.9 253.7,254.5 254.3,255.0 254.8,255.5 255.4,256.1 255.9,256.5 256.5,257.0 257.0,257.5 257.6,257.9 258.1,258.4 258.7,258.8 259.2,259.2 259.8,259.6 260.3,260.0 260.9,260.4 261.4,260.7 262.0,261.1 262.5,261.5 263.1,261.8 263.6,262.1 264.2,262.5 264.7,262.8 265.3,263.1 265.8,263.4 266.4,263.7 266.9,264.0 267.5,264.3 268.0,264.6 268.6,264.9 269.1,265.1 269.7,265.4 270.2,265.7 270.8,265.9 271.3,266.2 271.9,266.4 272.4,266.7 273.0,267.0 273.5,267.2 274.1,267.5 274.6,267.8 275.2,268.1 275.7,268.3 276.3,268.6 276.8,268.9 277.4,269.2 277.9,269.5 278.5,269.8 279.0,270.0 279.6,270.3 280.1,270.6 280.7,270.9 281.2,271.2 281.8,271.4 282.3,271.7 282.9,271.9 283.4,272.2 284.0,272.4 284.5,272.6 285.1,272.8 285.6,273.0 286.2,273.3 286.7,273.5 287.3,273.7 287.8,273.9 288.4,274.2 288.9,274.4 289.5,274.7 290.0,275.0 290.6,275.4 291.1,275.8 291.7,276.2 292.2,276.7 292.8,277.2 293.3,277.7 293.9,278.3 294.4,278.8 295.0,279.4 295.5,280.0 296.1,280.5 296.6,281.1 297.2,281.6 297.7,282.1 298.3,282.5 298.8,283.0 299.4,283.4 299.9,283.7 300.5,283.4 301.0,284.4 301.6,284.7 302.1,285.3 302.7,285.9 303.2,285.2 303.8,285.7 304.3,286.6 304.9,287.3 305.4,286.3 306.0,286.4 306.5,288.2 307.1,288.4 307.6,288.8 308.2,287.9 308.7,288.6 309.3,289.2 309.8,289.6 310.4,289.6 310.9,289.9 311.5,290.8 312.0,290.3 312.6,290.5 313.1,290.9 313.7,291.2 314.2,291.9 314.8,292.0 315.3,292.3 315.9,293.7 316.4,293.4 317.0,293.5 317.5,294.8 318.1,294.1 318.6,294.8 319.2,295.2 319.7,295.3 320.3,295.9 320.8,296.5 321.4,296.1 321.9,297.1 322.5,297.9 323.0,298.3 323.6,298.7 324.1,300.3 324.7,299.7 325.2,299.6 325.8,300.0 326.3,300.4 326.9,301.0 327.4,300.9 328.0,302.3 328.5,301.1 329.1,302.4 329.6,302.6 330.2,301.9 330.7,303.2 331.3,303.4 331.8,302.9 332.4,304.8 332.9,304.1 333.5,303.8 334.0,303.9 334.6,303.9 335.1,304.7 335.7,304.8 336.2,304.1 336.8,304.5 337.3,304.9 337.9,305.2 338.4,305.4 339.0,305.4 339.5,306.4 340.1,306.7 340.6,306.4 341.2,305.2 341.7,306.6 342.3,307.2 342.8,307.0 343.4,307.4 343.9,307.4 344.5,306.7 345.0,303.7 345.6,308.9 346.1,307.3 346.7,309.0 347.2,308.0 347.8,308.4 348.3,311.1 348.9,307.2 349.4,309.3 350.0,307.8 350.5,307.3 351.1,310.7 351.6,311.2 352.2,310.6 352.7,308.4 353.3,311.2 353.8,312.4 354.4,312.8 354.9,314.8 355.5,312.5 356.0,310.2 356.6,311.3 357.1,312.4 357.7,314.2 358.2,310.9 358.8,314.4 359.3,314.2 359.9,309.7 360.4,314.6 361.0,312.7 361.5,314.1 362.1,313.9 362.6,315.0 363.2,313.0 363.7,315.9 364.3,311.9 364.8,314.9 365.4,314.9 365.9,318.5 366.5,317.1 367.0,315.7 367.6,315.3 368.1,317.0 368.7,311.6 369.2,321.0 369.8,313.2 370.3,318.0 370.9,314.3 371.4,320.1 372.0,317.5 372.5,321.6 373.1,318.5 373.6,321.4 374.2,320.4 374.7,322.3 375.3,320.9 375.8,316.6 376.4,320.7 376.9,320.0 377.5,324.7 378.0,324.7 378.6,324.5 379.1,325.9 379.7,326.1 380.2,325.4 380.8,329.9 381.3,327.6 381.9,327.3 382.4,325.6 383.0,327.3 383.5,328.6 384.1,328.6 384.6,328.4 385.2,329.4 385.7,328.0 386.3,330.0 386.8,327.8 387.4,329.2 387.9,329.6 388.5,332.4 389.0,332.1 389.6,327.8 390.1,330.0 390.7,331.4 391.2,333.6 391.8,334.6 392.3,330.6 392.9,332.6 393.4,333.8 394.0,334.5 394.5,334.3 395.1,335.7 395.6,332.7 396.2,337.9 396.7,334.0 397.3,336.3 397.8,337.4 398.4,338.8 398.9,338.8 399.5,339.2 400.0,340.2 400.6,338.4 401.1,340.3 401.7,342.0 402.2,338.8 402.8,335.2 403.3,339.4 403.9,343.8 404.4,344.1 405.0,342.1 405.5,343.7 406.1,344.7 406.6,346.2 407.2,342.2 407.7,345.1 408.3,346.5 408.8,348.4 409.4,349.0 409.9,344.8 410.5,351.6 411.0,348.1 411.6,356.2 412.1,355.7 412.7,356.9 413.2,355.3 413.8,358.0 414.3,361.7 414.9,362.3 415.4,360.5 416.0,359.3 416.5,362.5 417.1,362.6 417.6,365.3 418.2,362.6 418.7,364.9 419.3,366.2 419.8,365.6 420.4,366.8 420.9,367.3 421.5,367.7 422.0,368.1 422.6,368.5 423.1,368.9 423.7,369.3 424.2,369.7 424.8,370.1 425.3,370.5 425.9,370.9 426.4,371.4 427.0,371.8 427.5,372.2 428.1,372.6 428.6,373.0 429.2,373.4 429.7,373.9 430.3,374.3 430.8,374.7 431.4,375.2 431.9,375.7 432.5,376.1 433.0,376.5 433.6,377.0 434.1,377.5 434.7,378.1 435.2,378.6 435.8,379.2 436.3,379.8 436.9,380.5 437.4,381.1 438.0,381.6 438.5,382.0 439.1,382.3 439.6,382.1 440.2,381.3 440.7,380.2 441.3,379.2 441.8,378.0 442.4,376.7 442.9,375.2 443.5,373.5 444.0,371.4 444.6,368.8 445.1,366.1 445.7,364.0 446.2,362.0 446.8,359.9 447.3,357.6 447.9,355.1 448.4,352.2 449.0,349.2 449.5,346.1 450.1,343.2 450.6,340.4 451.2,337.8 451.7,335.5 452.3,333.1 452.8,330.8 453.4,328.5 453.9,326.3 454.5,324.1 455.0,321.9 455.6,319.8 456.1,317.8 456.7,315.9 457.2,313.9 457.8,311.7 458.3,309.4 458.9,306.7 459.4,303.9 460.0,300.9 460.5,297.8 461.1,294.5 461.6,291.1 462.2,287.3 462.7,283.1 463.3,278.4 463.8,273.0 464.4,266.3 464.9,261.1 465.5,256.5 466.0,252.1 466.6,248.1 467.1,244.6 467.7,241.8 468.2,239.3 468.8,236.7 469.3,233.7 469.9,230.5 470.4,226.9 471.0,222.7 471.5,218.0 472.1,213.0 472.6,207.9 473.2,202.7 473.7,197.6 474.3,191.7 474.8,185.8 475.4,181.0 475.9,177.4 476.5,174.8 477.0,175.7 477.6,184.3 478.1,194.1 478.7,206.4 479.2,220.1 479.8,233.5 480.3,247.8 480.9,261.6 481.4,274.2 482.0,285.4 482.5,295.9 483.1,305.0 483.6,312.6 484.2,319.5 484.7,325.6 485.3,330.9 485.8,329.0 486.4,322.7 486.9,316.0 487.5,309.1 488.0,301.6 488.6,293.2 489.1,283.7 489.7,268.5 490.2,246.5 490.8,227.3 491.3,207.0 491.9,196.0 492.4,197.8 493.0,212.0 493.5,228.1 494.1,236.0 494.6,241.6 495.2,244.4 495.7,246.4 496.3,248.1 496.8,248.2 497.4,246.8 497.9,243.2 498.5,238.0 499.0,232.3 499.6,227.2 500.1,222.1 500.7,217.0 501.2,213.0 501.8,211.1 502.3,212.2 502.9,215.9 503.4,220.0 504.0,225.5 504.5,229.6 505.1,228.6 505.6,222.8 506.2,214.7 506.7,202.3 507.3,193.0 507.8,187.5 508.4,184.8 508.9,185.0 509.5,186.1 510.0,187.8 510.6,189.9 511.1,194.1 511.7,198.6 512.2,200.8 512.8,201.6 513.3,201.9 513.9,201.6 514.4,200.6 515.0,199.3 515.5,198.2 516.1,197.1 516.6,195.9 517.2,195.1 517.7,195.1 518.3,195.5 518.8,196.1 519.4,196.7 519.9,197.3 520.5,198.1 521.0,198.9 521.6,199.8 522.1,200.7 522.7,201.6 523.2,202.5 523.8,203.2 524.3,203.9 524.9,204.5 525.4,205.2 526.0,206.2 526.5,209.5 527.1,213.2 527.6,217.1 528.2,220.8 528.7,224.6 529.3,228.1 529.8,230.6 530.4,230.5 530.9,227.6 531.5,222.9 532.0,215.0 532.6,203.3 533.1,190.5 533.7,179.1 534.2,165.8 534.8,151.9 535.3,141.3 535.9,138.0 536.4,141.9 537.0,150.1 537.5,159.7 538.1,171.3 538.6,184.3 539.2,197.7 539.7,210.8 540.3,218.1 540.8,222.4 541.4,222.2 541.9,218.8 542.5,215.7 543.0,212.6 543.6,211.5 544.1,211.8 544.7,212.7 545.2,214.9 545.8,217.9 546.3,220.8 546.9,224.3 547.4,228.5 548.0,234.2 548.5,241.9 549.1,249.9 549.6,258.1 550.2,265.2 550.7,269.1 551.3,271.2 551.8,271.6 552.4,269.5 552.9,264.8 553.5,259.3 554.0,252.3 554.6,241.9 555.1,230.2 555.7,219.7 556.2,212.8 556.8,208.9 557.3,205.8 557.9,203.8 558.4,202.6 559.0,201.8 559.5,201.3 560.1,201.1 560.6,202.6 561.2,205.8 561.7,209.4 562.3,212.1 562.8,214.9 563.4,216.2 563.9,211.8 564.5,204.7 565.0,198.3 565.6,195.0 566.1,193.4 566.7,192.1 567.2,190.4 567.8,187.6 568.3,183.7 568.9,179.3 569.4,175.2 570.0,171.8 570.5,168.6 571.1,164.9 571.6,160.2 572.2,152.7 572.7,139.3 573.3,127.3 573.8,116.0 574.4,105.5 574.9,97.5 575.5,90.2 576.0,81.8 576.6,64.4 577.1,48.3 577.7,37.7 578.2,29.5 578.8,23.7 579.3,20.2 579.9,21.7 580.4,25.9 581.0,31.6 581.5,39.0 582.1,50.5 582.6,63.1 583.2,76.0 583.7,88.3 584.3,101.3 584.8,115.8 585.4,126.1 585.9,134.7 586.5,143.7 587.0,154.6 587.6,167.7 588.1,182.4 588.7,198.0 589.2,214.9 589.8,232.1 590.3,248.0 590.9,262.5 591.4,277.0 592.0,290.7 592.5,302.2 593.1,311.9 593.6,320.5 594.2,327.9 594.7,334.2 595.3,340.1 595.8,345.3 596.4,349.3 596.9,352.3 597.5,354.9 598.0,357.2 598.6,359.3 599.1,361.3 599.7,363.1 600.2,364.6 600.8,365.5 601.3,365.6 601.9,365.1 602.4,363.5 603.0,361.8 603.5,361.1 604.1,362.4 604.6,364.9 605.2,366.9 605.7,368.1 606.3,368.8 606.8,369.3 607.4,369.7 607.9,370.1 608.5,370.6 609.0,371.3 609.6,372.3 610.1,373.5 610.7,374.9 611.2,376.3 611.8,377.8 612.3,379.6 612.9,381.4 613.4,384.2 614.0,381.6 614.5,378.7 615.1,375.3 615.6,370.5 616.2,364.6 616.7,359.4 617.3,356.3 617.8,356.0 618.4,356.2 618.9,356.4 619.5,356.6 620.0,356.8 620.6,357.0 621.1,357.0 621.7,356.7 622.2,356.2 622.8,355.5 623.3,354.7 623.9,353.7 624.4,352.7 625.0,351.7 625.5,348.6 626.1,349.9 626.6,347.4 627.2,347.6 627.7,349.5 628.3,348.1 628.8,345.0 629.4,344.1 629.9,343.5 630.5,341.5 631.0,341.9 631.6,342.0 632.1,340.3 632.7,341.7 633.2,339.8 633.8,338.4 634.3,340.3 634.9,338.0 635.4,336.2 636.0,337.3 636.5,335.6 637.1,331.9 637.6,331.9 638.2,329.7 638.7,327.1 639.3,329.8 639.8,327.8 640.4,322.7 640.9,323.2 641.5,318.7 642.0,320.1 642.6,316.6 643.1,314.0 643.7,313.1 644.2,308.1 644.8,303.9 645.3,301.2 645.9,295.4 646.4,292.5 647.0,287.2 647.5,284.4 648.1,280.5 648.6,277.1 649.2,271.3 649.7,271.5 650.3,265.4 650.8,264.4 651.4,258.0 651.9,255.0 652.5,251.6 653.0,250.1 653.6,244.8 654.1,242.7 654.7,236.9 655.2,235.0 655.8,232.6 656.3,228.9 656.9,223.3 657.4,222.7 658.0,217.0 658.5,216.6 659.1,209.8 659.6,208.9 660.2,203.2 660.7,199.6 661.3,195.6 661.8,194.0 662.4,193.2 662.9,188.8 663.5,191.4 664.0,187.4 664.6,187.1 665.1,181.9 665.7,182.4 666.2,178.0 666.8,172.2 667.3,167.3 667.9,162.6 668.4,161.3 669.0,162.6 669.5,160.6 670.1,162.0 670.6,162.8 671.2,162.5" fill="none" stroke="#bcbd22" stroke-opacity="0.95" stroke-width="1.4" stroke-linejoin="round"/>
<polyline points="38.7,387.1 39.2,387.2 39.8,383.8 40.3,386.1 40.9,384.3 41.4,385.2 42.0,384.2 42.5,386.8 43.1,385.2 43.6,384.2 44.2,385.7 44.7,383.7 45.3,382.6 45.8,383.0 46.4,382.5 46.9,382.8 47.5,383.4 48.0,382.0 48.6,381.8 49.1,382.8 49.7,381.7 50.2,382.2 50.8,380.9 51.3,378.9 51.9,378.8 52.4,377.9 53.0,380.9 53.5,379.8 54.1,378.4 54.6,377.5 55.2,378.8 55.7,377.9 56.3,378.1 56.8,376.4 57.4,375.7 57.9,378.6 58.5,375.3 59.0,376.0 59.6,377.3 60.1,373.2 60.7,375.8 61.2,374.7 61.8,374.1 62.3,374.1 62.9,372.0 63.4,370.3 64.0,374.8 64.5,371.8 65.1,372.8 65.6,372.6 66.2,371.2 66.7,371.0 67.3,370.9 67.8,371.5 68.4,369.8 68.9,370.3 69.5,368.1 70.0,367.6 70.6,367.8 71.1,367.9 71.7,367.7 72.2,369.1 72.8,367.5 73.3,366.3 73.9,368.3 74.4,366.0 75.0,365.8 75.5,365.7 76.1,364.4 76.6,363.3 77.2,364.5 77.7,363.7 78.3,362.8 78.8,363.7 79.4,363.0 79.9,362.3 80.5,360.7 81.0,362.3 81.6,364.3 82.1,363.0 82.7,363.0 83.2,361.4 83.8,362.5 84.3,360.2 84.9,360.2 85.4,361.1 86.0,358.5 86.5,360.0 87.1,360.0 87.6,361.4 88.2,358.2 88.7,359.2 89.3,357.6 89.8,357.4 90.4,354.5 90.9,356.2 91.5,358.3 92.0,357.1 92.6,356.3 93.1,358.6 93.7,355.9 94.2,353.4 94.8,354.2 95.3,354.0 95.9,355.5 96.4,352.1 97.0,353.2 97.5,353.4 98.1,350.8 98.6,351.3 99.2,348.3 99.7,350.2 100.3,346.9 100.8,348.4 101.4,350.2 101.9,348.0 102.5,346.8 103.0,346.1 103.6,347.6 104.1,344.8 104.7,344.3 105.2,341.3 105.8,340.0 106.3,337.7 106.9,336.9 107.4,334.0 108.0,333.6 108.5,330.6 109.1,327.1 109.6,324.0 110.2,318.7 110.7,318.8 111.3,317.2 111.8,314.9 112.4,311.5 112.9,308.8 113.5,306.2 114.0,303.8 114.6,301.4 115.1,299.1 115.7,296.9 116.2,294.7 116.8,292.7 117.3,290.8 117.9,289.1 118.4,287.5 119.0,285.9 119.5,284.4 120.1,282.8 120.6,281.1 121.2,279.3 121.7,277.5 122.3,275.6 122.8,273.7 123.4,271.8 123.9,269.8 124.5,267.7 125.0,265.6 125.6,263.5 126.1,261.4 126.7,259.2 127.2,256.9 127.8,254.5 128.3,252.1 128.9,249.7 129.4,247.3 130.0,244.9 130.5,242.6 131.1,240.4 131.6,238.2 132.2,236.0 132.7,233.9 133.3,231.7 133.8,229.5 134.4,227.3 134.9,225.2 135.5,223.1 136.0,221.0 136.6,219.0 137.1,217.0 137.7,215.1 138.2,213.3 138.8,211.5 139.3,209.9 139.9,208.3 140.4,206.8 141.0,205.3 141.5,203.9 142.1,202.5 142.6,201.2 143.2,199.9 143.7,198.6 144.3,197.4 144.8,196.2 145.4,195.0 145.9,193.9 146.5,192.8 147.0,191.7 147.6,190.6 148.1,189.6 148.7,188.6 149.2,187.5 149.8,186.5 150.3,185.5 150.9,184.6 151.4,183.6 152.0,182.8 152.5,182.0 153.1,181.4 153.6,180.8 154.2,180.1 154.7,179.5 155.3,178.9 155.8,178.4 156.4,178.0 156.9,177.6 157.5,177.4 158.0,177.3 158.6,177.3 159.1,177.3 159.7,177.4 160.2,177.5 160.8,177.6 161.3,177.7 161.9,177.8 162.4,177.9 163.0,178.1 163.5,178.4 164.1,178.7 164.6,179.1 165.2,179.5 165.7,179.8 166.3,180.2 166.8,180.6 167.4,181.0 167.9,181.4 168.5,181.8 169.0,182.3 169.6,182.7 170.1,183.2 170.7,183.6 171.2,184.1 171.8,184.5 172.3,185.0 172.9,185.4 173.4,185.9 174.0,186.3 174.5,186.8 175.1,187.3 175.6,187.8 176.2,188.2 176.7,188.8 177.3,189.3 177.8,189.8 178.4,190.4 178.9,190.9 179.5,191.5 180.0,192.1 180.6,192.8 181.1,193.4 181.7,194.1 182.2,194.8 182.8,195.6 183.3,196.4 183.9,197.2 184.4,198.1 185.0,199.0 185.5,200.0 186.1,201.0 186.6,202.0 187.2,203.1 187.7,204.1 188.3,205.1 188.8,206.2 189.4,207.2 189.9,208.3 190.5,209.3 191.0,210.4 191.6,211.5 192.1,212.6 192.7,213.7 193.2,214.8 193.8,216.0 194.3,217.1 194.9,218.2 195.4,219.4 196.0,220.5 196.5,221.7 197.1,222.8 197.6,223.9 198.2,225.0 198.7,226.1 199.3,227.3 199.8,228.4 200.4,229.5 200.9,230.7 201.5,231.8 202.0,233.0 202.6,234.1 203.1,235.2 203.7,236.3 204.2,237.3 204.8,238.4 205.3,239.4 205.9,240.4 206.4,241.3 207.0,242.2 207.5,243.2 208.1,244.1 208.6,245.0 209.2,245.9 209.7,246.8 210.3,247.6 210.8,248.4 211.4,249.1 211.9,249.8 212.5,250.4 213.0,251.0 213.6,251.6 214.1,252.2 214.7,252.8 215.2,253.3 215.8,253.8 216.3,254.2 216.9,254.4 217.4,254.5 218.0,254.5 218.5,254.5 219.1,254.4 219.6,254.3 220.2,254.2 220.7,254.1 221.3,254.0 221.8,253.9 222.4,253.7 222.9,253.5 223.5,253.1 224.0,252.6 224.6,251.9 225.1,251.1 225.7,250.3 226.2,249.3 226.8,248.2 227.3,247.1 227.9,245.4 228.4,243.1 229.0,240.5 229.5,237.9 230.1,235.6 230.6,233.1 231.2,230.7 231.7,229.2 232.3,229.0 232.8,229.2 233.4,229.5 233.9,230.0 234.5,230.7 235.0,232.0 235.6,233.6 236.1,235.4 236.7,237.1 237.2,238.7 237.8,240.1 238.3,241.6 238.9,243.1 239.4,244.6 240.0,246.0 240.5,247.4 241.1,248.9 241.6,250.4 242.2,251.8 242.7,253.1 243.3,254.3 243.8,255.4 244.4,256.3 244.9,257.2 245.5,258.1 246.0,258.9 246.6,259.7 247.1,260.6 247.7,261.5 248.2,262.5 248.8,263.5 249.3,264.6 249.9,265.7 250.4,266.9 251.0,268.1 251.5,269.3 252.1,270.5 252.6,271.6 253.2,272.8 253.7,273.8 254.3,274.8 254.8,275.8 255.4,276.7 255.9,277.5 256.5,278.3 257.0,279.1 257.6,279.9 258.1,280.6 258.7,281.3 259.2,282.0 259.8,282.7 260.3,283.5 260.9,284.2 261.4,284.9 262.0,285.7 262.5,286.4 263.1,287.1 263.6,287.8 264.2,288.4 264.7,289.0 265.3,289.5 265.8,289.9 266.4,290.3 266.9,290.6 267.5,290.9 268.0,291.2 268.6,291.5 269.1,291.8 269.7,292.1 270.2,292.3 270.8,292.6 271.3,292.8 271.9,293.0 272.4,293.2 273.0,293.4 273.5,293.6 274.1,293.8 274.6,294.0 275.2,294.2 275.7,294.4 276.3,294.6 276.8,294.8 277.4,295.0 277.9,295.2 278.5,295.3 279.0,295.5 279.6,295.7 280.1,296.0 280.7,296.2 281.2,296.4 281.8,296.6 282.3,296.9 282.9,297.1 283.4,297.4 284.0,297.7 284.5,298.0 285.1,298.2 285.6,298.5 286.2,298.8 286.7,299.1 287.3,299.4 287.8,299.7 288.4,300.0 288.9,300.3 289.5,300.5 290.0,300.8 290.6,301.1 291.1,301.4 291.7,301.7 292.2,301.9 292.8,302.2 293.3,302.5 293.9,302.8 294.4,303.0 295.0,303.3 295.5,303.6 296.1,303.8 296.6,304.1 297.2,304.4 297.7,304.7 298.3,304.9 298.8,305.2 299.4,305.5 299.9,305.8 300.5,305.8 301.0,306.2 301.6,306.6 302.1,307.1 302.7,306.6 303.2,307.5 303.8,307.1 304.3,307.6 304.9,309.3 305.4,309.0 306.0,308.6 306.5,309.8 307.1,309.9 307.6,309.9 308.2,310.4 308.7,310.0 309.3,310.3 309.8,310.2 310.4,311.1 310.9,310.6 311.5,311.1 312.0,311.8 312.6,311.6 313.1,312.3 313.7,313.1 314.2,312.2 314.8,313.5 315.3,312.8 315.9,313.0 316.4,313.8 317.0,314.4 317.5,313.9 318.1,314.2 318.6,314.6 319.2,314.8 319.7,315.5 320.3,315.4 320.8,315.9 321.4,316.5 321.9,316.5 322.5,317.5 323.0,317.1 323.6,317.5 324.1,319.1 324.7,319.3 325.2,319.2 325.8,320.0 326.3,320.3 326.9,320.5 327.4,321.5 328.0,321.9 328.5,322.9 329.1,322.1 329.6,323.8 330.2,324.1 330.7,324.3 331.3,324.9 331.8,325.5 332.4,325.6 332.9,326.5 333.5,327.5 334.0,327.0 334.6,328.0 335.1,327.6 335.7,328.7 336.2,329.5 336.8,329.7 337.3,330.0 337.9,329.9 338.4,330.8 339.0,330.5 339.5,331.5 340.1,331.5 340.6,331.5 341.2,332.6 341.7,332.0 342.3,332.9 342.8,332.7 343.4,332.9 343.9,333.6 344.5,333.5 345.0,333.5 345.6,333.7 346.1,334.0 346.7,334.2 347.2,334.1 347.8,334.0 348.3,333.5 348.9,334.7 349.4,334.8 350.0,335.5 350.5,335.3 351.1,335.7 351.6,336.0 352.2,335.3 352.7,335.1 353.3,335.8 353.8,335.3 354.4,335.5 354.9,336.3 355.5,336.1 356.0,336.4 356.6,335.5 357.1,336.3 357.7,337.0 358.2,336.2 358.8,337.1 359.3,337.6 359.9,336.8 360.4,338.8 361.0,338.2 361.5,338.9 362.1,340.1 362.6,339.1 363.2,340.5 363.7,340.6 364.3,341.2 364.8,341.3 365.4,342.7 365.9,342.1 366.5,343.1 367.0,343.6 367.6,343.7 368.1,344.0 368.7,344.3 369.2,345.1 369.8,345.1 370.3,345.1 370.9,344.9 371.4,345.6 372.0,345.9 372.5,345.8 373.1,346.6 373.6,345.3 374.2,347.3 374.7,346.3 375.3,346.0 375.8,345.8 376.4,347.1 376.9,347.1 377.5,346.9 378.0,347.1 378.6,347.3 379.1,347.2 379.7,348.0 380.2,347.9 380.8,347.8 381.3,347.4 381.9,348.8 382.4,348.3 383.0,348.3 383.5,349.5 384.1,349.5 384.6,348.7 385.2,349.1 385.7,350.0 386.3,349.9 386.8,350.7 387.4,352.2 387.9,352.6 388.5,351.7 389.0,352.4 389.6,352.7 390.1,352.6 390.7,352.4 391.2,353.8 391.8,353.6 392.3,354.2 392.9,354.6 393.4,354.3 394.0,355.6 394.5,355.3 395.1,355.7 395.6,355.7 396.2,356.5 396.7,357.0 397.3,356.6 397.8,357.4 398.4,357.3 398.9,357.3 399.5,358.1 400.0,358.8 400.6,359.1 401.1,359.7 401.7,359.3 402.2,359.7 402.8,360.2 403.3,360.8 403.9,360.8 404.4,360.8 405.0,360.9 405.5,362.4 406.1,362.7 406.6,362.3 407.2,363.6 407.7,363.3 408.3,363.8 408.8,364.5 409.4,364.1 409.9,364.3 410.5,364.3 411.0,365.5 411.6,365.9 412.1,366.4 412.7,366.6 413.2,366.8 413.8,367.6 414.3,367.0 414.9,368.0 415.4,368.4 416.0,368.4 416.5,369.6 417.1,369.4 417.6,370.1 418.2,370.3 418.7,370.2 419.3,371.4 419.8,371.4 420.4,371.3 420.9,371.6 421.5,371.6 422.0,372.3 422.6,372.7 423.1,373.2 423.7,373.3 424.2,374.1 424.8,374.2 425.3,373.9 425.9,374.7 426.4,374.9 427.0,375.1 427.5,375.9 428.1,376.8 428.6,376.3 429.2,376.3 429.7,377.4 430.3,379.1 430.8,378.0 431.4,378.7 431.9,378.8 432.5,379.6 433.0,380.0 433.6,379.5 434.1,380.3 434.7,379.5 435.2,380.3 435.8,380.0 436.3,380.9 436.9,380.8 437.4,381.5 438.0,381.1 438.5,381.9 439.1,381.9 439.6,381.3 440.2,380.8 440.7,379.8 441.3,378.9 441.8,377.9 442.4,376.8 442.9,375.6 443.5,374.2 444.0,372.4 444.6,370.0 445.1,367.5 445.7,365.4 446.2,363.3 446.8,361.3 447.3,359.1 447.9,356.5 448.4,353.8 449.0,350.9 449.5,348.2 450.1,345.8 450.6,343.7 451.2,341.8 451.7,340.1 452.3,338.4 452.8,336.7 453.4,335.1 453.9,333.6 454.5,332.2 455.0,330.6 455.6,329.2 456.1,327.8 456.7,326.4 457.2,324.9 457.8,323.3 458.3,321.3 458.9,319.0 459.4,316.4 460.0,313.7 460.5,310.8 461.1,307.8 461.6,304.7 462.2,301.3 462.7,297.4 463.3,293.0 463.8,288.0 464.4,281.3 464.9,276.7 465.5,272.9 466.0,269.3 466.6,266.0 467.1,263.3 467.7,261.3 468.2,259.6 468.8,257.6 469.3,255.2 469.9,252.5 470.4,249.5 471.0,246.1 471.5,242.3 472.1,238.3 472.6,234.2 473.2,230.2 473.7,226.2 474.3,221.5 474.8,216.8 475.4,212.8 475.9,209.7 476.5,207.6 477.0,208.4 477.6,214.5 478.1,221.8 478.7,231.3 479.2,241.9 479.8,252.2 480.3,263.3 480.9,274.2 481.4,284.3 482.0,293.3 482.5,301.6 483.1,308.8 483.6,314.6 484.2,319.8 484.7,324.2 485.3,327.8 485.8,325.1 486.4,318.5 486.9,311.4 487.5,304.2 488.0,296.3 488.6,287.5 489.1,277.5 489.7,261.8 490.2,239.2 490.8,219.3 491.3,198.0 491.9,186.5 492.4,190.2 493.0,207.1 493.5,225.6 494.1,235.5 494.6,243.0 495.2,247.6 495.7,251.4 496.3,255.0 496.8,256.3 497.4,255.9 497.9,253.4 498.5,249.3 499.0,244.7 499.6,240.6 500.1,236.7 500.7,233.0 501.2,229.6 501.8,227.2 502.3,227.4 502.9,229.9 503.4,233.0 504.0,237.5 504.5,240.8 505.1,239.5 505.6,233.6 506.2,225.4 506.7,213.0 507.3,203.3 507.8,197.2 508.4,195.4 508.9,197.0 509.5,199.7 510.0,202.9 510.6,206.6 511.1,211.8 511.7,217.3 512.2,220.7 512.8,222.9 513.3,224.5 513.9,225.3 514.4,225.0 515.0,224.4 515.5,223.8 516.1,223.1 516.6,222.2 517.2,221.4 517.7,221.0 518.3,221.3 518.8,222.0 519.4,222.7 519.9,223.2 520.5,223.9 521.0,224.6 521.6,225.1 522.1,225.5 522.7,225.8 523.2,226.1 523.8,226.2 524.3,226.4 524.9,226.4 525.4,226.5 526.0,226.7 526.5,227.3 527.1,228.4 527.6,229.9 528.2,231.4 528.7,233.0 529.3,234.3 529.8,234.7 530.4,232.3 530.9,227.0 531.5,219.8 532.0,209.1 532.6,194.2 533.1,177.8 533.7,162.3 534.2,144.5 534.8,125.4 535.3,109.8 535.9,102.2 536.4,105.7 537.0,114.9 537.5,125.7 538.1,138.9 538.6,154.2 539.2,169.8 539.7,185.3 540.3,193.5 540.8,198.2 541.4,197.2 541.9,192.1 542.5,187.1 543.0,182.1 543.6,179.2 544.1,178.0 544.7,178.2 545.2,180.2 545.8,183.4 546.3,186.9 546.9,191.0 547.4,196.2 548.0,203.2 548.5,212.8 549.1,222.2 549.6,231.8 550.2,240.1 550.7,244.8 551.3,247.5 551.8,248.3 552.4,246.4 552.9,241.6 553.5,235.8 554.0,228.8 554.6,218.9 555.1,208.1 555.7,198.5 556.2,191.8 556.8,187.3 557.3,183.5 557.9,180.7 558.4,179.0 559.0,177.7 559.5,176.8 560.1,176.4 560.6,178.3 561.2,182.6 561.7,187.5 562.3,191.5 562.8,195.5 563.4,198.6 563.9,197.7 564.5,195.1 565.0,192.4 565.6,191.0 566.1,190.2 566.7,189.6 567.2,188.6 567.8,186.9 568.3,184.2 568.9,181.0 569.4,177.9 570.0,175.1 570.5,172.1 571.1,168.6 571.6,164.2 572.2,157.5 572.7,146.5 573.3,136.0 573.8,125.2 574.4,114.5 574.9,105.3 575.5,96.3 576.0,86.1 576.6,69.5 577.1,53.4 577.7,40.9 578.2,31.3 578.8,24.4 579.3,20.2 579.9,21.5 580.4,25.5 581.0,31.0 581.5,38.3 582.1,49.7 582.6,62.5 583.2,76.4 583.7,90.4 584.3,104.7 584.8,119.1 585.4,130.1 585.9,139.5 586.5,148.8 587.0,159.0 587.6,170.4 588.1,183.5 588.7,198.2 589.2,214.5 589.8,231.4 590.3,247.4 590.9,262.2 591.4,277.4 592.0,291.6 592.5,303.3 593.1,312.8 593.6,321.1 594.2,328.3 594.7,334.6 595.3,340.3 595.8,345.4 596.4,349.6 596.9,352.9 597.5,355.7 598.0,358.2 598.6,360.6 599.1,362.8 599.7,364.9 600.2,366.6 600.8,367.8 601.3,368.2 601.9,367.8 602.4,366.2 603.0,364.3 603.5,363.6 604.1,365.0 604.6,367.5 605.2,369.4 605.7,370.5 606.3,371.1 606.8,371.5 607.4,371.8 607.9,372.2 608.5,372.6 609.0,373.3 609.6,374.3 610.1,375.5 610.7,376.8 611.2,378.1 611.8,379.5 612.3,381.0 612.9,382.5 613.4,382.7 614.0,379.3 614.5,375.4 615.1,371.1 615.6,364.8 616.2,357.2 616.7,350.4 617.3,346.4 617.8,346.1 618.4,346.7 618.9,347.5 619.5,348.4 620.0,349.3 620.6,349.9 621.1,350.0 621.7,349.7 622.2,349.2 622.8,348.4 623.3,347.5 623.9,346.5 624.4,345.5 625.0,344.5 625.5,343.5 626.1,343.9 626.6,342.6 627.2,341.5 627.7,341.5 628.3,341.6 628.8,340.9 629.4,342.2 629.9,335.0 630.5,337.3 631.0,336.9 631.6,338.2 632.1,336.7 632.7,336.9 633.2,333.2 633.8,334.1 634.3,334.5 634.9,332.7 635.4,331.3 636.0,331.2 636.5,331.9 637.1,325.6 637.6,329.0 638.2,325.6 638.7,322.3 639.3,322.4 639.8,319.6 640.4,319.0 640.9,314.2 641.5,314.3 642.0,309.6 642.6,309.0 643.1,307.3 643.7,304.1 644.2,302.8 644.8,298.8 645.3,298.6 645.9,294.1 646.4,291.4 647.0,289.6 647.5,287.0 648.1,283.3 648.6,282.8 649.2,278.8 649.7,276.9 650.3,271.3 650.8,268.5 651.4,266.7 651.9,262.5 652.5,260.3 653.0,257.9 653.6,255.2 654.1,252.4 654.7,248.2 655.2,243.0 655.8,241.7 656.3,237.3 656.9,235.7 657.4,230.6 658.0,230.8 658.5,226.7 659.1,222.9 659.6,218.8 660.2,218.5 660.7,215.1 661.3,214.2 661.8,211.2 662.4,209.9 662.9,210.0 663.5,209.9 664.0,205.1 664.6,205.4 665.1,205.1 665.7,203.2 666.2,201.6 666.8,203.8 667.3,198.9 667.9,199.7 668.4,198.2 669.0,198.7 669.5,195.8 670.1,200.0 670.6,198.6 671.2,197.6" fill="none" stroke="#17becf" stroke-opacity="0.95" stroke-width="1.4" stroke-linejoin="round"/>
<polyline points="38.7,388.3 39.2,386.5 39.8,386.0 40.3,385.6 40.9,386.9 41.4,385.8 42.0,385.3 42.5,384.2 43.1,384.4 43.6,385.2 44.2,384.6 44.7,382.7 45.3,383.4 45.8,384.1 46.4,385.9 46.9,382.7 47.5,381.3 48.0,383.5 48.6,382.2 49.1,381.2 49.7,382.5 50.2,381.6 50.8,380.7 51.3,380.1 51.9,380.9 52.4,380.7 53.0,378.9 53.5,380.9 54.1,378.7 54.6,380.7 55.2,379.5 55.7,378.7 56.3,378.9 56.8,377.8 57.4,377.9 57.9,379.0 58.5,376.8 59.0,377.7 59.6,375.9 60.1,376.3 60.7,376.8 61.2,374.6 61.8,375.5 62.3,373.1 62.9,373.5 63.4,373.7 64.0,374.4 64.5,373.9 65.1,372.1 65.6,372.4 66.2,372.2 66.7,370.4 67.3,371.6 67.8,372.0 68.4,371.6 68.9,369.7 69.5,369.5 70.0,368.7 70.6,368.7 71.1,368.6 71.7,369.1 72.2,368.3 72.8,367.2 73.3,368.4 73.9,368.2 74.4,366.7 75.0,366.7 75.5,366.6 76.1,365.1 76.6,366.3 77.2,366.5 77.7,367.4 78.3,365.6 78.8,365.0 79.4,364.9 79.9,365.3 80.5,365.2 81.0,363.6 81.6,364.3 82.1,364.4 82.7,361.9 83.2,364.5 83.8,363.0 84.3,363.7 84.9,362.7 85.4,362.3 86.0,362.2 86.5,362.3 87.1,362.6 87.6,361.4 88.2,360.4 88.7,360.5 89.3,359.9 89.8,361.1 90.4,359.3 90.9,361.1 91.5,359.6 92.0,359.1 92.6,359.9 93.1,358.2 93.7,357.9 94.2,358.5 94.8,358.1 95.3,356.4 95.9,358.9 96.4,357.0 97.0,355.1 97.5,355.6 98.1,356.1 98.6,355.1 99.2,355.2 99.7,356.1 100.3,354.4 100.8,354.8 101.4,353.2 101.9,351.4 102.5,352.6 103.0,349.9 103.6,350.4 104.1,349.2 104.7,346.9 105.2,345.8 105.8,344.9 106.3,343.9 106.9,342.9 107.4,340.0 108.0,339.5 108.5,336.3 109.1,332.2 109.6,329.1 110.2,326.5 110.7,322.9 111.3,320.3 111.8,318.1 112.4,314.5 112.9,311.6 113.5,308.7 114.0,306.1 114.6,303.7 115.1,301.5 115.7,299.3 116.2,297.2 116.8,295.2 117.3,293.3 117.9,291.4 118.4,289.5 119.0,287.6 119.5,285.8 120.1,284.1 120.6,282.3 121.2,280.6 121.7,278.8 122.3,277.0 122.8,275.2 123.4,273.4 123.9,271.6 124.5,269.8 125.0,268.1 125.6,266.3 126.1,264.5 126.7,262.8 127.2,261.0 127.8,259.3 128.3,257.5 128.9,255.8 129.4,254.1 130.0,252.5 130.5,250.9 131.1,249.4 131.6,247.9 132.2,246.5 132.7,245.0 133.3,243.5 133.8,241.9 134.4,240.3 134.9,238.6 135.5,236.7 136.0,234.8 136.6,232.7 137.1,230.7 137.7,228.5 138.2,226.4 138.8,224.2 139.3,222.1 139.9,220.0 140.4,218.0 141.0,216.1 141.5,214.2 142.1,212.5 142.6,210.9 143.2,209.5 143.7,208.1 144.3,206.8 144.8,205.5 145.4,204.3 145.9,203.1 146.5,202.0 147.0,200.9 147.6,199.8 148.1,198.8 148.7,197.8 149.2,196.8 149.8,195.9 150.3,195.0 150.9,194.2 151.4,193.3 152.0,192.6 152.5,191.8 153.1,191.1 153.6,190.5 154.2,189.8 154.7,189.2 155.3,188.7 155.8,188.1 156.4,187.5 156.9,187.2 157.5,187.1 158.0,187.1 158.6,187.2 159.1,187.2 159.7,187.3 160.2,187.4 160.8,187.5 161.3,187.7 161.9,187.8 162.4,187.9 163.0,188.1 163.5,188.4 164.1,188.7 164.6,189.0 165.2,189.3 165.7,189.7 166.3,190.0 166.8,190.4 167.4,190.8 167.9,191.2 168.5,191.6 169.0,192.0 169.6,192.5 170.1,192.9 170.7,193.4 171.2,193.9 171.8,194.3 172.3,194.8 172.9,195.3 173.4,195.7 174.0,196.2 174.5,196.7 175.1,197.2 175.6,197.7 176.2,198.2 176.7,198.6 177.3,199.1 177.8,199.5 178.4,200.0 178.9,200.5 179.5,201.0 180.0,201.6 180.6,202.2 181.1,202.9 181.7,203.6 182.2,204.5 182.8,205.3 183.3,206.2 183.9,207.1 184.4,208.0 185.0,209.0 185.5,210.0 186.1,210.9 186.6,211.9 187.2,212.9 187.7,213.8 188.3,214.8 188.8,215.7 189.4,216.7 189.9,217.7 190.5,218.7 191.0,219.7 191.6,220.7 192.1,221.8 192.7,222.8 193.2,223.8 193.8,224.8 194.3,225.9 194.9,226.9 195.4,227.8 196.0,228.8 196.5,229.7 197.1,230.7 197.6,231.6 198.2,232.5 198.7,233.4 199.3,234.3 199.8,235.2 200.4,236.1 200.9,237.0 201.5,237.9 202.0,238.7 202.6,239.6 203.1,240.4 203.7,241.2 204.2,242.0 204.8,242.7 205.3,243.4 205.9,244.2 206.4,244.9 207.0,245.6 207.5,246.3 208.1,246.9 208.6,247.6 209.2,248.3 209.7,248.9 210.3,249.5 210.8,250.2 211.4,250.8 211.9,251.4 212.5,252.0 213.0,252.6 213.6,253.3 214.1,253.9 214.7,254.6 215.2,255.2 215.8,255.8 216.3,256.3 216.9,256.7 217.4,257.0 218.0,257.2 218.5,257.4 219.1,257.5 219.6,257.7 220.2,257.8 220.7,257.8 221.3,257.8 221.8,257.6 222.4,257.3 222.9,257.0 223.5,256.6 224.0,256.2 224.6,255.3 225.1,254.0 225.7,252.3 226.2,250.4 226.8,248.3 227.3,246.2 227.9,244.3 228.4,242.4 229.0,240.0 229.5,237.6 230.1,235.4 230.6,233.9 231.2,233.3 231.7,233.3 232.3,233.4 232.8,233.6 233.4,233.8 233.9,234.1 234.5,234.4 235.0,234.7 235.6,235.2 236.1,236.0 236.7,237.2 237.2,238.6 237.8,240.2 238.3,241.9 238.9,243.5 239.4,244.9 240.0,246.1 240.5,247.1 241.1,248.0 241.6,248.9 242.2,249.7 242.7,250.4 243.3,251.2 243.8,251.8 244.4,252.4 244.9,253.0 245.5,253.5 246.0,253.9 246.6,254.4 247.1,254.9 247.7,255.4 248.2,256.0 248.8,256.8 249.3,257.7 249.9,258.7 250.4,259.7 251.0,260.9 251.5,262.1 252.1,263.3 252.6,264.6 253.2,265.8 253.7,267.0 254.3,268.2 254.8,269.3 255.4,270.4 255.9,271.6 256.5,272.8 257.0,274.1 257.6,275.2 258.1,276.3 258.7,277.3 259.2,278.2 259.8,278.8 260.3,279.3 260.9,279.7 261.4,280.0 262.0,280.4 262.5,280.6 263.1,280.9 263.6,281.2 264.2,281.4 264.7,281.6 265.3,281.9 265.8,282.2 266.4,282.5 266.9,282.8 267.5,283.1 268.0,283.4 268.6,283.7 269.1,284.0 269.7,284.3 270.2,284.6 270.8,285.0 271.3,285.3 271.9,285.6 272.4,285.9 273.0,286.2 273.5,286.6 274.1,286.9 274.6,287.2 275.2,287.6 275.7,287.9 276.3,288.2 276.8,288.6 277.4,288.9 277.9,289.2 278.5,289.6 279.0,289.9 279.6,290.3 280.1,290.6 280.7,291.0 281.2,291.3 281.8,291.7 282.3,292.0 282.9,292.4 283.4,292.8 284.0,293.2 284.5,293.6 285.1,294.1 285.6,294.5 286.2,295.0 286.7,295.4 287.3,295.8 287.8,296.2 288.4,296.6 288.9,296.9 289.5,297.3 290.0,297.5 290.6,297.8 291.1,298.0 291.7,298.2 292.2,298.3 292.8,298.5 293.3,298.7 293.9,298.8 294.4,298.9 295.0,299.1 295.5,299.2 296.1,299.4 296.6,299.6 297.2,299.7 297.7,299.9 298.3,300.1 298.8,300.4 299.4,300.6 299.9,301.0 300.5,301.5 301.0,301.4 301.6,302.1 302.1,302.1 302.7,302.7 303.2,303.1 303.8,303.6 304.3,304.2 304.9,304.7 305.4,304.8 306.0,306.0 306.5,305.7 307.1,306.8 307.6,306.9 308.2,306.3 308.7,307.5 309.3,306.8 309.8,308.3 310.4,308.1 310.9,307.8 311.5,307.6 312.0,308.6 312.6,308.5 313.1,309.7 313.7,309.0 314.2,309.7 314.8,310.2 315.3,310.3 315.9,310.6 316.4,310.7 317.0,311.3 317.5,310.9 318.1,311.8 318.6,311.3 319.2,312.1 319.7,311.9 320.3,312.5 320.8,313.1 321.4,313.7 321.9,312.7 322.5,313.4 323.0,313.6 323.6,314.8 324.1,314.3 324.7,315.2 325.2,315.0 325.8,314.9 326.3,315.9 326.9,315.6 327.4,316.7 328.0,317.0 328.5,317.6 329.1,316.9 329.6,318.3 330.2,318.3 330.7,317.5 331.3,319.5 331.8,319.6 332.4,318.8 332.9,319.7 333.5,319.3 334.0,320.2 334.6,320.6 335.1,321.2 335.7,320.9 336.2,321.6 336.8,321.6 337.3,322.6 337.9,323.1 338.4,323.2 339.0,324.1 339.5,324.4 340.1,324.7 340.6,325.6 341.2,325.1 341.7,326.2 342.3,326.0 342.8,327.3 343.4,327.5 343.9,328.4 344.5,328.2 345.0,328.5 345.6,329.0 346.1,329.2 346.7,329.8 347.2,329.4 347.8,329.4 348.3,329.6 348.9,330.9 349.4,330.1 350.0,330.7 350.5,330.6 351.1,331.6 351.6,331.2 352.2,332.2 352.7,331.6 353.3,332.2 353.8,332.7 354.4,333.0 354.9,332.3 355.5,332.9 356.0,333.3 356.6,332.9 357.1,334.3 357.7,334.5 358.2,334.9 358.8,334.5 359.3,335.5 359.9,336.0 360.4,336.7 361.0,336.4 361.5,337.4 362.1,338.3 362.6,337.8 363.2,338.2 363.7,338.7 364.3,338.6 364.8,339.5 365.4,340.7 365.9,340.1 366.5,340.8 367.0,341.7 367.6,341.8 368.1,342.1 368.7,342.2 369.2,342.6 369.8,342.9 370.3,343.5 370.9,343.5 371.4,344.1 372.0,343.1 372.5,344.5 373.1,344.1 373.6,344.5 374.2,344.6 374.7,345.2 375.3,345.1 375.8,345.6 376.4,345.2 376.9,345.8 377.5,346.4 378.0,346.5 378.6,346.1 379.1,346.5 379.7,346.5 380.2,346.9 380.8,347.1 381.3,347.9 381.9,347.8 382.4,348.5 383.0,348.7 383.5,347.8 384.1,348.7 384.6,348.7 385.2,348.5 385.7,349.0 386.3,349.5 386.8,350.7 387.4,350.3 387.9,350.4 388.5,350.8 389.0,350.8 389.6,351.5 390.1,351.6 390.7,351.3 391.2,352.1 391.8,354.0 392.3,353.1 392.9,353.1 393.4,353.8 394.0,353.4 394.5,354.2 395.1,354.8 395.6,354.1 396.2,354.8 396.7,355.3 397.3,355.7 397.8,355.9 398.4,356.6 398.9,357.3 399.5,357.3 400.0,358.0 400.6,358.3 401.1,358.0 401.7,358.7 402.2,358.8 402.8,359.6 403.3,359.5 403.9,360.0 404.4,361.1 405.0,360.7 405.5,360.5 406.1,361.5 406.6,361.9 407.2,361.9 407.7,362.5 408.3,363.3 408.8,363.0 409.4,363.4 409.9,363.6 410.5,364.3 411.0,364.5 411.6,364.5 412.1,365.2 412.7,366.3 413.2,365.2 413.8,365.7 414.3,366.8 414.9,366.4 415.4,368.1 416.0,367.0 416.5,367.5 417.1,368.1 417.6,369.1 418.2,369.4 418.7,369.6 419.3,369.9 419.8,370.6 420.4,369.7 420.9,370.9 421.5,371.7 422.0,371.1 422.6,372.0 423.1,372.7 423.7,373.1 424.2,372.9 424.8,374.0 425.3,373.8 425.9,374.4 426.4,373.9 427.0,374.3 427.5,374.7 428.1,376.1 428.6,374.8 429.2,375.3 429.7,376.8 430.3,376.9 430.8,376.0 431.4,377.4 431.9,377.8 432.5,378.7 433.0,377.7 433.6,378.5 434.1,379.4 434.7,379.5 435.2,379.2 435.8,379.7 436.3,379.6 436.9,381.1 437.4,380.7 438.0,381.6 438.5,381.7 439.1,381.1 439.6,381.2 440.2,380.6 440.7,379.8 441.3,379.0 441.8,378.2 442.4,377.2 442.9,376.2 443.5,374.9 444.0,373.2 444.6,370.9 445.1,368.4 445.7,366.3 446.2,364.2 446.8,362.2 447.3,360.0 447.9,357.5 448.4,354.8 449.0,352.0 449.5,349.5 450.1,347.5 450.6,345.8 451.2,344.3 451.7,343.0 452.3,341.7 452.8,340.4 453.4,339.3 453.9,338.2 454.5,337.2 455.0,336.1 455.6,335.0 456.1,334.0 456.7,333.0 457.2,331.9 457.8,330.5 458.3,328.8 458.9,326.7 459.4,324.3 460.0,321.7 460.5,319.0 461.1,316.3 461.6,313.3 462.2,310.1 462.7,306.5 463.3,302.3 463.8,297.5 464.4,290.9 464.9,286.6 465.5,283.3 466.0,280.2 466.6,277.4 467.1,275.2 467.7,273.8 468.2,272.5 468.8,270.9 469.3,268.9 469.9,266.5 470.4,263.9 471.0,261.0 471.5,257.7 472.1,254.4 472.6,251.1 473.2,247.8 473.7,244.5 474.3,240.6 474.8,236.6 475.4,233.1 475.9,230.4 476.5,228.6 477.0,229.3 477.6,235.0 478.1,241.9 478.7,250.7 479.2,260.3 479.8,269.6 480.3,279.5 480.9,289.2 481.4,298.3 482.0,306.3 482.5,313.6 483.1,320.0 483.6,325.3 484.2,330.0 484.7,334.0 485.3,337.1 485.8,334.6 486.4,328.5 486.9,322.0 487.5,315.2 488.0,308.0 488.6,300.0 489.1,290.9 489.7,276.1 490.2,254.3 490.8,235.8 491.3,216.3 491.9,205.6 492.4,208.4 493.0,222.9 493.5,238.9 494.1,247.4 494.6,253.8 495.2,257.4 495.7,260.3 496.3,262.8 496.8,263.9 497.4,263.5 497.9,261.1 498.5,257.1 499.0,252.5 499.6,248.5 500.1,244.8 500.7,241.3 501.2,238.1 501.8,235.9 502.3,236.1 502.9,238.5 503.4,241.5 504.0,245.8 504.5,249.0 505.1,248.0 505.6,242.8 506.2,235.1 506.7,223.5 507.3,214.4 507.8,208.6 508.4,207.1 508.9,209.1 509.5,212.3 510.0,216.0 510.6,220.0 511.1,225.3 511.7,230.7 512.2,234.3 512.8,236.7 513.3,238.5 513.9,239.4 514.4,239.2 515.0,238.3 515.5,237.6 516.1,236.7 516.6,235.6 517.2,234.6 517.7,234.1 518.3,234.5 518.8,235.3 519.4,236.1 519.9,236.7 520.5,237.5 521.0,238.2 521.6,238.6 522.1,238.8 522.7,239.0 523.2,239.0 523.8,239.0 524.3,238.9 524.9,238.7 525.4,238.5 526.0,238.5 526.5,238.7 527.1,239.6 527.6,241.0 528.2,242.5 528.7,244.2 529.3,245.6 529.8,246.1 530.4,244.1 530.9,239.3 531.5,232.6 532.0,222.5 532.6,208.4 533.1,192.9 533.7,178.4 534.2,161.7 534.8,143.8 535.3,129.0 535.9,121.7 536.4,124.5 537.0,132.6 537.5,142.2 538.1,154.1 538.6,167.9 539.2,182.0 539.7,196.1 540.3,203.6 540.8,207.8 541.4,206.8 541.9,201.9 542.5,197.2 543.0,192.5 543.6,189.8 544.1,188.7 544.7,188.9 545.2,190.7 545.8,193.6 546.3,196.6 546.9,200.2 547.4,204.8 548.0,211.2 548.5,220.0 549.1,228.8 549.6,237.7 550.2,245.6 550.7,249.8 551.3,251.9 551.8,252.0 552.4,249.5 552.9,244.1 553.5,237.8 554.0,230.2 554.6,219.8 555.1,208.5 555.7,198.3 556.2,191.2 556.8,186.2 557.3,181.8 557.9,178.4 558.4,176.2 559.0,174.4 559.5,172.9 560.1,172.1 560.6,174.0 561.2,178.5 561.7,183.6 562.3,187.8 562.8,192.1 563.4,195.5 563.9,195.3 564.5,193.3 565.0,191.4 565.6,190.3 566.1,189.7 566.7,189.1 567.2,188.3 567.8,186.8 568.3,184.3 568.9,181.3 569.4,178.4 570.0,175.6 570.5,172.7 571.1,169.2 571.6,164.9 572.2,158.2 572.7,147.6 573.3,137.3 573.8,126.5 574.4,115.8 574.9,106.5 575.5,97.2 576.0,86.7 576.6,70.1 577.1,54.1 577.7,41.4 578.2,31.5 578.8,24.5 579.3,20.2 579.9,21.5 580.4,25.5 581.0,31.0 581.5,38.2 582.1,49.6 582.6,62.4 583.2,76.5 583.7,90.6 584.3,105.0 584.8,119.5 585.4,130.5 585.9,139.9 586.5,149.3 587.0,159.4 587.6,170.6 588.1,183.6 588.7,198.2 589.2,214.5 589.8,231.4 590.3,247.4 590.9,262.2 591.4,277.4 592.0,291.6 592.5,303.3 593.1,312.8 593.6,321.2 594.2,328.4 594.7,334.6 595.3,340.3 595.8,345.4 596.4,349.6 596.9,352.9 597.5,355.8 598.0,358.2 598.6,360.6 599.1,362.9 599.7,364.9 600.2,366.6 600.8,367.8 601.3,368.2 601.9,367.8 602.4,366.2 603.0,364.3 603.5,363.6 604.1,365.0 604.6,367.5 605.2,369.4 605.7,370.5 606.3,371.1 606.8,371.5 607.4,371.8 607.9,372.2 608.5,372.6 609.0,373.3 609.6,374.3 610.1,375.5 610.7,376.8 611.2,378.1 611.8,379.5 612.3,381.0 612.9,382.5 613.4,383.7 614.0,380.6 614.5,377.1 615.1,373.2 615.6,367.8 616.2,361.4 616.7,355.6 617.3,352.3 617.8,352.1 618.4,352.7 618.9,353.5 619.5,354.4 620.0,355.3 620.6,355.9 621.1,356.0 621.7,355.8 622.2,355.3 622.8,354.6 623.3,353.8 623.9,353.0 624.4,352.1 625.0,351.3 625.5,349.8 626.1,348.7 626.6,349.6 627.2,347.9 627.7,348.6 628.3,349.0 628.8,348.4 629.4,349.0 629.9,347.3 630.5,345.0 631.0,344.9 631.6,346.3 632.1,347.6 632.7,344.3 633.2,343.2 633.8,345.7 634.3,343.3 634.9,343.9 635.4,343.8 636.0,340.7 636.5,340.9 637.1,340.1 637.6,340.8 638.2,340.3 638.7,338.2 639.3,338.8 639.8,335.1 640.4,337.0 640.9,336.1 641.5,334.8 642.0,332.1 642.6,332.7 643.1,330.4 643.7,332.3 644.2,328.8 644.8,327.5 645.3,326.2 645.9,325.4 646.4,323.2 647.0,322.0 647.5,318.4 648.1,319.0 648.6,314.8 649.2,313.9 649.7,310.6 650.3,308.7 650.8,304.2 651.4,299.3 651.9,296.4 652.5,294.2 653.0,292.9 653.6,287.3 654.1,284.7 654.7,283.1 655.2,277.9 655.8,275.8 656.3,272.4 656.9,268.0 657.4,265.8 658.0,263.9 658.5,261.4 659.1,257.7 659.6,260.3 660.2,256.0 660.7,254.2 661.3,252.8 661.8,251.7 662.4,253.2 662.9,247.8 663.5,250.5 664.0,248.2 664.6,248.8 665.1,247.9 665.7,245.3 666.2,244.8 666.8,246.7 667.3,243.7 667.9,243.8 668.4,243.2 669.0,244.7 669.5,245.5 670.1,245.8 670.6,246.3 671.2,247.4" fill="none" stroke="#1f77b4" stroke-opacity="0.95" stroke-width="1.4" stroke-linejoin="round"/>
<polyline points="38.7,385.2 39.2,386.6 39.8,385.1 40.3,384.6 40.9,384.8 41.4,384.2 42.0,384.8 42.5,384.8 43.1,384.9 43.6,383.8 44.2,383.2 44.7,383.2 45.3,382.3 45.8,382.4 46.4,384.0 46.9,381.9 47.5,381.9 48.0,382.4 48.6,382.0 49.1,382.1 49.7,380.8 50.2,380.4 50.8,381.8 51.3,380.2 51.9,380.4 52.4,380.4 53.0,378.8 53.5,379.7 54.1,379.2 54.6,379.8 55.2,379.0 55.7,377.4 56.3,379.3 56.8,376.8 57.4,378.0 57.9,377.7 58.5,377.5 59.0,377.7 59.6,378.2 60.1,376.8 60.7,376.9 61.2,377.6 61.8,377.4 62.3,377.4 62.9,377.0 63.4,376.5 64.0,376.2 64.5,376.1 65.1,376.9 65.6,377.2 66.2,377.4 66.7,375.3 67.3,375.7 67.8,375.8 68.4,375.6 68.9,374.8 69.5,376.9 70.0,376.4 70.6,375.1 71.1,374.8 71.7,375.0 72.2,374.1 72.8,374.6 73.3,375.2 73.9,375.7 74.4,375.1 75.0,375.2 75.5,373.5 76.1,371.9 76.6,375.0 77.2,374.0 77.7,373.8 78.3,374.8 78.8,372.9 79.4,372.8 79.9,372.9 80.5,374.4 81.0,373.8 81.6,371.8 82.1,374.1 82.7,372.9 83.2,373.0 83.8,372.1 84.3,373.8 84.9,372.8 85.4,373.3 86.0,371.6 86.5,372.7 87.1,372.2 87.6,371.9 88.2,371.4 88.7,371.4 89.3,371.0 89.8,371.2 90.4,371.5 90.9,371.8 91.5,370.2 92.0,370.4 92.6,370.6 93.1,369.7 93.7,370.4 94.2,370.2 94.8,369.9 95.3,370.0 95.9,369.9 96.4,369.4 97.0,368.6 97.5,368.3 98.1,366.9 98.6,366.3 99.2,366.9 99.7,366.3 100.3,366.8 100.8,364.6 101.4,363.4 101.9,363.6 102.5,362.4 103.0,361.3 103.6,361.9 104.1,361.3 104.7,359.1 105.2,357.2 105.8,356.6 106.3,355.0 106.9,352.8 107.4,352.9 108.0,351.2 108.5,350.4 109.1,347.7 109.6,346.5 110.2,344.9 110.7,342.2 111.3,343.5 111.8,338.8 112.4,338.8 112.9,337.3 113.5,335.8 114.0,334.3 114.6,332.9 115.1,331.4 115.7,329.9 116.2,328.5 116.8,327.0 117.3,325.5 117.9,324.1 118.4,322.7 119.0,321.3 119.5,319.9 120.1,318.5 120.6,317.1 121.2,315.6 121.7,314.1 122.3,312.6 122.8,311.0 123.4,309.2 123.9,307.4 124.5,305.5 125.0,303.5 125.6,301.4 126.1,299.3 126.7,297.2 127.2,295.1 127.8,293.0 128.3,290.9 128.9,288.9 129.4,286.9 130.0,284.9 130.5,282.9 131.1,280.9 131.6,278.9 132.2,276.9 132.7,274.9 133.3,272.9 133.8,270.9 134.4,268.9 134.9,267.0 135.5,265.0 136.0,263.0 136.6,261.0 137.1,259.0 137.7,257.0 138.2,255.0 138.8,253.0 139.3,251.0 139.9,249.0 140.4,247.1 141.0,245.2 141.5,243.3 142.1,241.6 142.6,239.8 143.2,238.2 143.7,236.6 144.3,235.0 144.8,233.5 145.4,232.0 145.9,230.5 146.5,229.0 147.0,227.6 147.6,226.2 148.1,224.8 148.7,223.3 149.2,221.9 149.8,220.5 150.3,219.1 150.9,217.6 151.4,216.1 152.0,214.6 152.5,213.2 153.1,211.9 153.6,210.7 154.2,209.6 154.7,208.6 155.3,207.6 155.8,206.6 156.4,205.7 156.9,205.0 157.5,204.5 158.0,204.3 158.6,204.4 159.1,204.6 159.7,204.9 160.2,205.2 160.8,205.6 161.3,206.0 161.9,206.4 162.4,206.8 163.0,207.2 163.5,207.6 164.1,208.0 164.6,208.4 165.2,208.9 165.7,209.5 166.3,210.1 166.8,210.8 167.4,211.5 167.9,212.3 168.5,213.2 169.0,214.1 169.6,215.0 170.1,216.1 170.7,217.2 171.2,218.4 171.8,219.6 172.3,220.8 172.9,222.1 173.4,223.4 174.0,224.7 174.5,226.0 175.1,227.2 175.6,228.4 176.2,229.5 176.7,230.5 177.3,231.6 177.8,232.7 178.4,233.8 178.9,234.9 179.5,236.1 180.0,237.3 180.6,238.5 181.1,239.8 181.7,241.1 182.2,242.3 182.8,243.6 183.3,244.9 183.9,246.2 184.4,247.5 185.0,248.8 185.5,250.0 186.1,251.3 186.6,252.5 187.2,253.8 187.7,255.1 188.3,256.4 188.8,257.6 189.4,258.9 189.9,260.1 190.5,261.4 191.0,262.6 191.6,263.8 192.1,265.0 192.7,266.1 193.2,267.2 193.8,268.3 194.3,269.3 194.9,270.4 195.4,271.4 196.0,272.4 196.5,273.4 197.1,274.4 197.6,275.4 198.2,276.3 198.7,277.3 199.3,278.3 199.8,279.2 200.4,280.2 200.9,281.1 201.5,282.1 202.0,283.1 202.6,284.0 203.1,285.0 203.7,286.0 204.2,287.0 204.8,287.9 205.3,288.9 205.9,289.9 206.4,290.8 207.0,291.8 207.5,292.7 208.1,293.7 208.6,294.6 209.2,295.6 209.7,296.5 210.3,297.5 210.8,298.5 211.4,299.5 211.9,300.5 212.5,301.5 213.0,302.5 213.6,303.5 214.1,304.3 214.7,305.1 215.2,305.7 215.8,306.3 216.3,306.9 216.9,307.4 217.4,307.9 218.0,308.3 218.5,308.6 219.1,308.7 219.6,308.6 220.2,308.4 220.7,308.1 221.3,307.7 221.8,307.1 222.4,306.0 222.9,304.6 223.5,303.1 224.0,301.9 224.6,300.9 225.1,300.0 225.7,299.1 226.2,298.2 226.8,297.4 227.3,296.5 227.9,295.7 228.4,294.9 229.0,294.0 229.5,293.1 230.1,292.2 230.6,291.3 231.2,290.4 231.7,289.5 232.3,288.6 232.8,287.7 233.4,286.9 233.9,286.1 234.5,285.3 235.0,284.5 235.6,283.8 236.1,283.4 236.7,283.1 237.2,282.8 237.8,282.6 238.3,282.4 238.9,282.3 239.4,282.2 240.0,282.4 240.5,283.1 241.1,284.0 241.6,284.9 242.2,285.8 242.7,286.6 243.3,287.5 243.8,288.4 244.4,289.4 244.9,290.5 245.5,291.6 246.0,293.0 246.6,294.6 247.1,296.3 247.7,298.0 248.2,299.8 248.8,301.4 249.3,303.0 249.9,304.7 250.4,306.4 251.0,308.0 251.5,309.7 252.1,311.2 252.6,312.5 253.2,313.6 253.7,314.6 254.3,315.4 254.8,316.2 255.4,317.0 255.9,317.7 256.5,318.3 257.0,318.9 257.6,319.3 258.1,319.8 258.7,320.1 259.2,320.4 259.8,320.7 260.3,321.0 260.9,321.3 261.4,321.5 262.0,321.8 262.5,322.0 263.1,322.2 263.6,322.4 264.2,322.6 264.7,322.8 265.3,322.9 265.8,323.1 266.4,323.3 266.9,323.4 267.5,323.6 268.0,323.8 268.6,323.9 269.1,324.1 269.7,324.3 270.2,324.4 270.8,324.6 271.3,324.8 271.9,325.0 272.4,325.2 273.0,325.4 273.5,325.6 274.1,325.8 274.6,326.0 275.2,326.2 275.7,326.4 276.3,326.6 276.8,326.8 277.4,327.0 277.9,327.2 278.5,327.4 279.0,327.6 279.6,327.8 280.1,328.0 280.7,328.2 281.2,328.3 281.8,328.5 282.3,328.7 282.9,328.9 283.4,329.1 284.0,329.3 284.5,329.5 285.1,329.7 285.6,329.9 286.2,330.1 286.7,330.3 287.3,330.5 287.8,330.7 288.4,330.8 288.9,331.0 289.5,331.2 290.0,331.4 290.6,331.6 291.1,331.8 291.7,332.0 292.2,332.2 292.8,332.4 293.3,332.6 293.9,332.7 294.4,332.9 295.0,333.1 295.5,333.3 296.1,333.5 296.6,333.7 297.2,333.9 297.7,334.0 298.3,334.2 298.8,334.4 299.4,334.6 299.9,334.8 300.5,334.6 301.0,334.6 301.6,335.2 302.1,335.4 302.7,335.8 303.2,335.3 303.8,337.0 304.3,336.7 304.9,336.6 305.4,336.8 306.0,335.5 306.5,337.6 307.1,336.7 307.6,337.7 308.2,337.0 308.7,338.4 309.3,337.8 309.8,338.2 310.4,339.3 310.9,339.2 311.5,338.1 312.0,338.7 312.6,339.4 313.1,339.3 313.7,340.1 314.2,339.5 314.8,339.1 315.3,339.8 315.9,340.4 316.4,341.0 317.0,341.3 317.5,341.8 318.1,341.4 318.6,341.4 319.2,342.1 319.7,341.9 320.3,341.9 320.8,342.1 321.4,343.0 321.9,343.6 322.5,343.7 323.0,342.3 323.6,344.0 324.1,343.0 324.7,343.6 325.2,344.3 325.8,343.5 326.3,343.8 326.9,344.3 327.4,345.8 328.0,345.7 328.5,344.8 329.1,345.6 329.6,345.8 330.2,346.2 330.7,345.8 331.3,347.2 331.8,346.4 332.4,347.3 332.9,346.2 333.5,347.5 334.0,347.6 334.6,348.5 335.1,346.5 335.7,348.4 336.2,348.8 336.8,348.4 337.3,349.5 337.9,350.1 338.4,349.6 339.0,349.8 339.5,350.3 340.1,350.0 340.6,350.6 341.2,350.4 341.7,349.9 342.3,349.9 342.8,351.3 343.4,351.1 343.9,350.6 344.5,351.1 345.0,352.1 345.6,350.5 346.1,351.1 346.7,352.1 347.2,352.4 347.8,351.4 348.3,351.7 348.9,352.5 349.4,353.3 350.0,352.7 350.5,351.6 351.1,353.6 351.6,353.2 352.2,353.1 352.7,352.9 353.3,354.3 353.8,354.0 354.4,354.2 354.9,354.3 355.5,354.6 356.0,355.0 356.6,355.6 357.1,354.3 357.7,355.0 358.2,355.0 358.8,356.4 359.3,355.5 359.9,355.0 360.4,356.1 361.0,355.9 361.5,356.1 362.1,356.5 362.6,356.2 363.2,356.1 363.7,358.4 364.3,357.6 364.8,357.3 365.4,358.4 365.9,359.0 366.5,357.6 367.0,358.5 367.6,359.2 368.1,358.8 368.7,359.7 369.2,359.0 369.8,359.6 370.3,360.1 370.9,360.6 371.4,360.6 372.0,360.5 372.5,360.8 373.1,360.1 373.6,362.6 374.2,361.5 374.7,361.7 375.3,362.3 375.8,362.6 376.4,362.7 376.9,362.3 377.5,362.0 378.0,363.0 378.6,362.9 379.1,363.2 379.7,363.7 380.2,364.0 380.8,364.7 381.3,364.1 381.9,363.5 382.4,364.9 383.0,365.3 383.5,364.1 384.1,365.5 384.6,365.4 385.2,365.2 385.7,365.8 386.3,366.1 386.8,366.4 387.4,366.9 387.9,366.5 388.5,366.6 389.0,368.2 389.6,366.5 390.1,367.1 390.7,367.3 391.2,368.1 391.8,368.5 392.3,367.4 392.9,369.0 393.4,367.9 394.0,370.1 394.5,368.6 395.1,369.8 395.6,369.2 396.2,370.0 396.7,369.4 397.3,370.1 397.8,370.3 398.4,370.6 398.9,371.2 399.5,370.8 400.0,371.1 400.6,370.8 401.1,371.7 401.7,371.7 402.2,372.7 402.8,372.8 403.3,372.3 403.9,373.2 404.4,374.0 405.0,373.4 405.5,373.1 406.1,375.4 406.6,374.6 407.2,375.0 407.7,376.3 408.3,374.8 408.8,375.7 409.4,374.8 409.9,376.4 410.5,376.7 411.0,376.4 411.6,376.7 412.1,377.4 412.7,377.7 413.2,379.1 413.8,378.4 414.3,378.8 414.9,379.1 415.4,378.7 416.0,379.6 416.5,379.4 417.1,380.5 417.6,379.5 418.2,380.4 418.7,381.4 419.3,380.3 419.8,380.9 420.4,382.5 420.9,381.4 421.5,382.4 422.0,382.8 422.6,382.3 423.1,382.1 423.7,384.1 424.2,383.2 424.8,384.0 425.3,383.5 425.9,384.3 426.4,383.5 427.0,383.7 427.5,384.1 428.1,384.4 428.6,384.5 429.2,384.7 429.7,385.2 430.3,384.8 430.8,385.7 431.4,385.0 431.9,385.9 432.5,386.4 433.0,386.7 433.6,384.8 434.1,386.9 434.7,385.1 435.2,386.8 435.8,386.0 436.3,386.2 436.9,385.4 437.4,386.4 438.0,386.2 438.5,385.4 439.1,385.3 439.6,385.9 440.2,385.3 440.7,385.2 441.3,385.0 441.8,384.8 442.4,384.6 442.9,384.4 443.5,384.2 444.0,384.0 444.6,383.7 445.1,383.4 445.7,382.9 446.2,382.5 446.8,382.0 447.3,381.4 447.9,380.9 448.4,380.4 449.0,379.9 449.5,379.5 450.1,379.2 450.6,378.9 451.2,378.6 451.7,378.4 452.3,378.2 452.8,377.9 453.4,377.6 453.9,377.2 454.5,376.7 455.0,376.0 455.6,375.3 456.1,374.4 456.7,373.5 457.2,372.5 457.8,371.4 458.3,370.3 458.9,369.0 459.4,367.7 460.0,366.1 460.5,364.4 461.1,362.4 461.6,360.2 462.2,357.0 462.7,351.7 463.3,345.5 463.8,339.9 464.4,335.9 464.9,334.7 465.5,334.1 466.0,333.7 466.6,333.3 467.1,333.1 467.7,332.8 468.2,332.6 468.8,332.4 469.3,332.3 469.9,332.1 470.4,332.0 471.0,331.8 471.5,331.6 472.1,331.2 472.6,330.6 473.2,329.9 473.7,329.3 474.3,328.9 474.8,328.8 475.4,328.8 475.9,328.9 476.5,329.0 477.0,329.9 477.6,332.9 478.1,337.3 478.7,342.2 479.2,347.0 479.8,351.0 480.3,355.2 480.9,359.6 481.4,363.7 482.0,367.1 482.5,369.3 483.1,370.5 483.6,371.6 484.2,372.4 484.7,373.1 485.3,373.4 485.8,373.2 486.4,372.0 486.9,369.9 487.5,367.2 488.0,364.2 488.6,360.9 489.1,355.8 489.7,349.2 490.2,342.6 490.8,336.3 491.3,328.4 491.9,321.1 492.4,318.5 493.0,322.4 493.5,326.7 494.1,329.9 494.6,332.0 495.2,332.4 495.7,332.6 496.3,332.6 496.8,332.3 497.4,331.7 497.9,329.7 498.5,325.8 499.0,321.3 499.6,317.0 500.1,314.0 500.7,311.8 501.2,309.9 501.8,308.3 502.3,307.6 502.9,307.8 503.4,308.9 504.0,311.0 504.5,313.0 505.1,313.6 505.6,312.2 506.2,308.0 506.7,301.3 507.3,295.0 507.8,290.6 508.4,289.6 508.9,291.8 509.5,295.6 510.0,300.0 510.6,304.0 511.1,307.2 511.7,310.4 512.2,312.9 512.8,314.7 513.3,315.7 513.9,315.1 514.4,312.6 515.0,309.1 515.5,305.9 516.1,302.3 516.6,298.5 517.2,295.8 517.7,295.7 518.3,297.3 518.8,299.6 519.4,301.8 519.9,303.6 520.5,305.9 521.0,307.9 521.6,309.1 522.1,309.6 522.7,309.8 523.2,309.9 523.8,309.8 524.3,309.7 524.9,309.3 525.4,308.6 526.0,308.1 526.5,307.9 527.1,308.5 527.6,310.3 528.2,312.9 528.7,316.0 529.3,319.2 529.8,322.0 530.4,323.8 530.9,324.2 531.5,322.1 532.0,317.4 532.6,311.1 533.1,304.5 533.7,299.0 534.2,292.7 534.8,286.0 535.3,280.4 535.9,277.3 536.4,277.1 537.0,278.9 537.5,281.7 538.1,284.9 538.6,288.2 539.2,291.7 539.7,295.2 540.3,297.7 540.8,299.5 541.4,300.4 541.9,300.9 542.5,301.5 543.0,302.6 543.6,305.1 544.1,309.0 544.7,314.0 545.2,319.1 545.8,323.5 546.3,327.3 546.9,330.7 547.4,334.2 548.0,337.9 548.5,342.0 549.1,347.0 549.6,352.5 550.2,357.3 550.7,360.4 551.3,360.6 551.8,358.4 552.4,354.6 552.9,349.5 553.5,343.7 554.0,336.1 554.6,322.6 555.1,306.7 555.7,292.4 556.2,283.5 556.8,281.1 557.3,279.6 557.9,279.1 558.4,278.8 559.0,278.5 559.5,278.3 560.1,278.1 560.6,278.2 561.2,278.1 561.7,277.6 562.3,276.6 562.8,275.2 563.4,271.2 563.9,255.7 564.5,234.9 565.0,216.5 565.6,207.6 566.1,203.3 566.7,200.0 567.2,196.0 567.8,189.7 568.3,181.9 568.9,173.7 569.4,166.4 570.0,161.0 570.5,156.8 571.1,152.4 571.6,146.5 572.2,136.5 572.7,114.7 573.3,97.6 573.8,84.2 574.4,74.0 574.9,69.8 575.5,68.4 576.0,66.4 576.6,46.3 577.1,29.4 577.7,25.7 578.2,23.0 578.8,21.2 579.3,20.5 579.9,22.2 580.4,27.2 581.0,33.6 581.5,41.9 582.1,53.8 582.6,65.6 583.2,74.0 583.7,80.0 584.3,87.5 584.8,102.2 585.4,109.5 585.9,114.8 586.5,122.0 587.0,136.0 587.6,155.9 588.1,177.5 588.7,197.0 589.2,216.4 589.8,235.1 590.3,251.0 590.9,263.9 591.4,275.3 592.0,286.3 592.5,297.3 593.1,307.8 593.6,317.4 594.2,325.6 594.7,332.5 595.3,339.0 595.8,344.5 596.4,347.8 596.9,349.3 597.5,350.5 598.0,351.5 598.6,352.4 599.1,353.0 599.7,353.4 600.2,353.4 600.8,352.8 601.3,351.7 601.9,350.3 602.4,348.9 603.0,347.8 603.5,347.4 604.1,348.5 604.6,350.6 605.2,353.1 605.7,355.2 606.3,356.5 606.8,357.3 607.4,357.9 607.9,358.5 608.5,359.2 609.0,360.2 609.6,361.4 610.1,362.8 610.7,364.4 611.2,366.2 611.8,368.7 612.3,372.0 612.9,375.4 613.4,383.9 614.0,381.0 614.5,377.8 615.1,374.3 615.6,369.3 616.2,363.5 616.7,358.3 617.3,355.3 617.8,355.1 618.4,355.5 618.9,356.1 619.5,356.8 620.0,357.5 620.6,357.9 621.1,358.0 621.7,357.8 622.2,357.3 622.8,356.7 623.3,356.0 623.9,355.1 624.4,354.3 625.0,353.4 625.5,353.2 626.1,354.0 626.6,351.3 627.2,351.1 627.7,351.0 628.3,349.2 628.8,347.3 629.4,346.3 629.9,347.3 630.5,348.5 631.0,347.7 631.6,347.9 632.1,346.4 632.7,343.7 633.2,341.9 633.8,342.5 634.3,342.1 634.9,340.7 635.4,342.0 636.0,338.9 636.5,339.9 637.1,339.2 637.6,334.9 638.2,335.6 638.7,336.7 639.3,335.1 639.8,332.9 640.4,330.1 640.9,329.3 641.5,329.0 642.0,329.2 642.6,326.7 643.1,324.4 643.7,323.2 644.2,322.2 644.8,317.0 645.3,315.9 645.9,314.9 646.4,314.1 647.0,311.3 647.5,306.2 648.1,304.6 648.6,300.8 649.2,298.5 649.7,296.4 650.3,293.0 650.8,289.8 651.4,285.9 651.9,282.1 652.5,280.7 653.0,278.0 653.6,275.3 654.1,270.2 654.7,267.4 655.2,267.1 655.8,263.4 656.3,261.6 656.9,257.4 657.4,255.0 658.0,252.2 658.5,253.0 659.1,248.2 659.6,245.6 660.2,245.2 660.7,246.3 661.3,243.3 661.8,242.3 662.4,241.0 662.9,239.7 663.5,238.5 664.0,235.8 664.6,238.9 665.1,235.5 665.7,236.1 666.2,231.2 666.8,232.8 667.3,229.5 667.9,228.6 668.4,230.3 669.0,231.5 669.5,232.5 670.1,233.4 670.6,232.7 671.2,235.7" fill="none" stroke="#ff7f0e" stroke-opacity="0.95" stroke-width="1.4" stroke-linejoin="round"/>
<polyline points="38.7,387.3 39.2,387.2 39.8,387.4 40.3,387.1 40.9,387.5 41.4,386.0 42.0,387.3 42.5,386.4 43.1,387.2 43.6,386.9 44.2,385.7 44.7,386.1 45.3,386.3 45.8,385.5 46.4,385.4 46.9,385.4 47.5,385.8 48.0,385.7 48.6,385.0 49.1,385.4 49.7,385.6 50.2,385.2 50.8,384.3 51.3,384.1 51.9,384.5 52.4,384.6 53.0,384.2 53.5,383.7 54.1,383.3 54.6,384.2 55.2,383.4 55.7,384.2 56.3,382.6 56.8,382.9 57.4,382.6 57.9,383.6 58.5,383.2 59.0,382.2 59.6,381.4 60.1,382.7 60.7,382.1 61.2,381.3 61.8,381.0 62.3,381.8 62.9,381.3 63.4,381.4 64.0,381.3 64.5,380.8 65.1,380.7 65.6,381.0 66.2,380.5 66.7,380.3 67.3,380.6 67.8,379.2 68.4,380.6 68.9,380.0 69.5,379.3 70.0,379.5 70.6,380.0 71.1,379.5 71.7,378.3 72.2,378.5 72.8,378.9 73.3,379.5 73.9,378.9 74.4,378.3 75.0,378.5 75.5,378.1 76.1,377.8 76.6,378.0 77.2,376.6 77.7,378.0 78.3,377.6 78.8,377.0 79.4,376.7 79.9,376.4 80.5,376.9 81.0,376.7 81.6,376.6 82.1,377.2 82.7,375.2 83.2,375.7 83.8,375.6 84.3,376.2 84.9,375.5 85.4,375.1 86.0,375.5 86.5,375.5 87.1,375.9 87.6,375.1 88.2,374.7 88.7,374.5 89.3,374.3 89.8,374.8 90.4,374.8 90.9,374.2 91.5,374.1 92.0,374.7 92.6,374.0 93.1,374.0 93.7,373.1 94.2,373.2 94.8,372.3 95.3,372.5 95.9,373.2 96.4,373.4 97.0,372.5 97.5,371.8 98.1,372.2 98.6,372.5 99.2,371.7 99.7,371.9 100.3,371.2 100.8,370.3 101.4,370.1 101.9,370.1 102.5,370.9 103.0,369.7 103.6,368.9 104.1,368.6 104.7,368.1 105.2,367.3 105.8,366.9 106.3,366.2 106.9,365.9 107.4,365.4 108.0,364.3 108.5,362.4 109.1,361.7 109.6,359.9 110.2,358.5 110.7,358.0 111.3,357.2 111.8,356.0 112.4,355.0 112.9,354.1 113.5,353.2 114.0,352.3 114.6,351.4 115.1,350.4 115.7,349.4 116.2,348.4 116.8,347.3 117.3,346.1 117.9,344.9 118.4,343.5 119.0,342.0 119.5,340.5 120.1,338.9 120.6,337.3 121.2,335.6 121.7,334.0 122.3,332.2 122.8,330.5 123.4,328.8 123.9,327.2 124.5,325.5 125.0,323.8 125.6,322.0 126.1,320.3 126.7,318.5 127.2,316.7 127.8,315.0 128.3,313.2 128.9,311.4 129.4,309.7 130.0,308.0 130.5,306.3 131.1,304.6 131.6,303.0 132.2,301.3 132.7,299.6 133.3,298.0 133.8,296.3 134.4,294.7 134.9,293.1 135.5,291.5 136.0,289.9 136.6,288.2 137.1,286.7 137.7,285.1 138.2,283.5 138.8,281.9 139.3,280.4 139.9,278.8 140.4,277.2 141.0,275.7 141.5,274.1 142.1,272.6 142.6,271.0 143.2,269.4 143.7,267.8 144.3,266.2 144.8,264.6 145.4,263.0 145.9,261.3 146.5,259.7 147.0,258.1 147.6,256.5 148.1,254.9 148.7,253.4 149.2,251.9 149.8,250.5 150.3,249.1 150.9,247.9 151.4,246.6 152.0,245.4 152.5,244.2 153.1,243.0 153.6,241.8 154.2,240.5 154.7,239.1 155.3,237.5 155.8,235.8 156.4,234.3 156.9,233.1 157.5,232.1 158.0,231.1 158.6,230.2 159.1,229.5 159.7,229.1 160.2,229.0 160.8,229.0 161.3,229.1 161.9,229.2 162.4,229.3 163.0,229.5 163.5,229.8 164.1,230.3 164.6,230.9 165.2,231.6 165.7,232.3 166.3,233.1 166.8,233.9 167.4,234.7 167.9,235.6 168.5,236.6 169.0,237.6 169.6,238.6 170.1,239.6 170.7,240.5 171.2,241.5 171.8,242.6 172.3,243.6 172.9,244.7 173.4,245.8 174.0,246.9 174.5,248.1 175.1,249.2 175.6,250.4 176.2,251.6 176.7,252.8 177.3,254.1 177.8,255.4 178.4,256.7 178.9,258.0 179.5,259.3 180.0,260.6 180.6,261.9 181.1,263.3 181.7,264.6 182.2,265.9 182.8,267.2 183.3,268.5 183.9,269.8 184.4,271.0 185.0,272.3 185.5,273.6 186.1,274.9 186.6,276.2 187.2,277.5 187.7,278.7 188.3,280.0 188.8,281.3 189.4,282.6 189.9,283.9 190.5,285.1 191.0,286.4 191.6,287.6 192.1,288.8 192.7,290.0 193.2,291.1 193.8,292.3 194.3,293.4 194.9,294.5 195.4,295.6 196.0,296.6 196.5,297.7 197.1,298.7 197.6,299.8 198.2,300.8 198.7,301.8 199.3,302.7 199.8,303.7 200.4,304.6 200.9,305.5 201.5,306.3 202.0,307.1 202.6,307.9 203.1,308.7 203.7,309.4 204.2,310.2 204.8,310.9 205.3,311.6 205.9,312.2 206.4,312.9 207.0,313.5 207.5,314.1 208.1,314.7 208.6,315.3 209.2,315.9 209.7,316.5 210.3,317.0 210.8,317.5 211.4,318.1 211.9,318.6 212.5,319.1 213.0,319.6 213.6,320.0 214.1,320.4 214.7,320.8 215.2,321.2 215.8,321.5 216.3,321.8 216.9,322.1 217.4,322.4 218.0,322.6 218.5,322.8 219.1,323.0 219.6,323.2 220.2,323.4 220.7,323.5 221.3,323.7 221.8,323.8 222.4,323.8 222.9,323.7 223.5,323.3 224.0,322.7 224.6,322.0 225.1,321.2 225.7,320.4 226.2,319.7 226.8,318.8 227.3,317.9 227.9,316.9 228.4,315.9 229.0,314.9 229.5,313.9 230.1,313.0 230.6,312.0 231.2,311.0 231.7,310.1 232.3,309.4 232.8,308.7 233.4,308.0 233.9,307.4 234.5,306.8 235.0,306.3 235.6,305.8 236.1,305.4 236.7,304.9 237.2,304.5 237.8,304.1 238.3,303.7 238.9,303.5 239.4,303.4 240.0,303.5 240.5,303.9 241.1,304.5 241.6,305.1 242.2,305.7 242.7,306.3 243.3,306.9 243.8,307.5 244.4,308.2 244.9,309.0 245.5,309.8 246.0,310.8 246.6,311.9 247.1,313.1 247.7,314.3 248.2,315.5 248.8,316.6 249.3,317.6 249.9,318.6 250.4,319.5 251.0,320.4 251.5,321.3 252.1,322.2 252.6,323.0 253.2,323.9 253.7,324.8 254.3,325.7 254.8,326.7 255.4,327.6 255.9,328.6 256.5,329.5 257.0,330.3 257.6,331.0 258.1,331.5 258.7,331.9 259.2,332.3 259.8,332.6 260.3,332.9 260.9,333.2 261.4,333.4 262.0,333.7 262.5,333.9 263.1,334.1 263.6,334.3 264.2,334.5 264.7,334.7 265.3,334.8 265.8,335.0 266.4,335.2 266.9,335.3 267.5,335.5 268.0,335.6 268.6,335.8 269.1,335.9 269.7,336.1 270.2,336.3 270.8,336.4 271.3,336.6 271.9,336.8 272.4,337.0 273.0,337.2 273.5,337.4 274.1,337.5 274.6,337.7 275.2,337.9 275.7,338.1 276.3,338.2 276.8,338.4 277.4,338.6 277.9,338.8 278.5,338.9 279.0,339.1 279.6,339.3 280.1,339.4 280.7,339.6 281.2,339.8 281.8,340.0 282.3,340.1 282.9,340.3 283.4,340.4 284.0,340.6 284.5,340.8 285.1,340.9 285.6,341.1 286.2,341.3 286.7,341.4 287.3,341.6 287.8,341.8 288.4,341.9 288.9,342.1 289.5,342.3 290.0,342.4 290.6,342.6 291.1,342.7 291.7,342.9 292.2,343.1 292.8,343.2 293.3,343.4 293.9,343.5 294.4,343.7 295.0,343.9 295.5,344.0 296.1,344.2 296.6,344.3 297.2,344.5 297.7,344.7 298.3,344.8 298.8,345.0 299.4,345.1 299.9,345.3 300.5,345.4 301.0,345.7 301.6,345.9 302.1,346.1 302.7,346.0 303.2,345.6 303.8,346.2 304.3,345.4 304.9,346.6 305.4,346.5 306.0,347.3 306.5,346.0 307.1,348.1 307.6,347.3 308.2,347.0 308.7,348.0 309.3,348.1 309.8,348.3 310.4,349.1 310.9,348.1 311.5,348.7 312.0,348.8 312.6,348.6 313.1,349.1 313.7,349.7 314.2,349.0 314.8,349.7 315.3,350.0 315.9,350.1 316.4,349.3 317.0,350.2 317.5,350.1 318.1,350.9 318.6,350.5 319.2,351.5 319.7,350.3 320.3,351.2 320.8,350.8 321.4,352.1 321.9,352.1 322.5,351.3 323.0,352.1 323.6,351.9 324.1,351.4 324.7,351.8 325.2,352.5 325.8,352.8 326.3,352.6 326.9,353.0 327.4,353.2 328.0,353.4 328.5,352.9 329.1,353.6 329.6,354.0 330.2,353.3 330.7,354.7 331.3,354.8 331.8,354.5 332.4,355.4 332.9,354.4 333.5,354.5 334.0,354.8 334.6,354.9 335.1,356.1 335.7,355.5 336.2,355.6 336.8,356.0 337.3,356.6 337.9,356.2 338.4,356.1 339.0,356.5 339.5,357.1 340.1,356.6 340.6,357.5 341.2,357.1 341.7,357.1 342.3,357.5 342.8,358.3 343.4,357.5 343.9,358.3 344.5,358.1 345.0,358.0 345.6,358.1 346.1,358.6 346.7,358.6 347.2,358.7 347.8,358.9 348.3,358.4 348.9,358.6 349.4,358.6 350.0,359.0 350.5,359.2 351.1,359.3 351.6,359.8 352.2,359.3 352.7,359.7 353.3,360.3 353.8,360.8 354.4,360.3 354.9,360.9 355.5,361.1 356.0,360.3 356.6,360.9 357.1,360.6 357.7,361.0 358.2,361.5 358.8,361.0 359.3,361.9 359.9,361.8 360.4,361.9 361.0,362.4 361.5,362.1 362.1,361.9 362.6,362.8 363.2,362.7 363.7,363.1 364.3,362.9 364.8,363.2 365.4,363.3 365.9,363.4 366.5,363.8 367.0,364.1 367.6,364.6 368.1,366.1 368.7,364.7 369.2,364.5 369.8,365.6 370.3,365.1 370.9,365.4 371.4,365.8 372.0,366.2 372.5,366.4 373.1,366.7 373.6,366.7 374.2,367.4 374.7,367.5 375.3,367.1 375.8,367.4 376.4,367.1 376.9,368.1 377.5,367.9 378.0,368.9 378.6,368.0 379.1,369.1 379.7,368.3 380.2,368.1 380.8,368.6 381.3,369.3 381.9,369.7 382.4,369.1 383.0,370.0 383.5,369.6 384.1,369.7 384.6,370.0 385.2,371.0 385.7,370.5 386.3,370.7 386.8,370.1 387.4,371.0 387.9,371.2 388.5,371.9 389.0,371.0 389.6,371.3 390.1,371.3 390.7,371.6 391.2,372.3 391.8,371.9 392.3,372.9 392.9,372.6 393.4,372.3 394.0,372.6 394.5,372.5 395.1,372.6 395.6,373.8 396.2,373.9 396.7,373.3 397.3,373.7 397.8,374.7 398.4,373.9 398.9,374.4 399.5,374.7 400.0,374.6 400.6,374.7 401.1,374.8 401.7,375.2 402.2,374.7 402.8,375.5 403.3,375.7 403.9,375.2 404.4,376.1 405.0,375.7 405.5,375.2 406.1,375.7 406.6,376.7 407.2,377.0 407.7,376.8 408.3,376.5 408.8,377.2 409.4,377.9 409.9,377.6 410.5,377.2 411.0,378.2 411.6,378.1 412.1,378.3 412.7,378.6 413.2,379.0 413.8,378.9 414.3,378.7 414.9,379.3 415.4,379.6 416.0,380.2 416.5,379.4 417.1,380.0 417.6,379.9 418.2,380.6 418.7,380.4 419.3,379.6 419.8,381.4 420.4,380.9 420.9,381.0 421.5,381.0 422.0,381.4 422.6,381.5 423.1,382.2 423.7,382.5 424.2,382.6 424.8,383.0 425.3,382.7 425.9,383.5 426.4,383.4 427.0,383.8 427.5,384.1 428.1,383.9 428.6,385.0 429.2,385.2 429.7,385.0 430.3,386.3 430.8,386.5 431.4,385.5 431.9,385.5 432.5,386.4 433.0,387.1 433.6,387.4 434.1,387.5 434.7,387.3 435.2,387.8 435.8,387.8 436.3,387.3 436.9,387.6 437.4,387.9 438.0,387.2 438.5,387.2 439.1,387.1 439.6,388.0 440.2,387.4 440.7,387.3 441.3,387.3 441.8,387.2 442.4,387.2 442.9,387.1 443.5,387.1 444.0,387.0 444.6,386.9 445.1,386.7 445.7,386.5 446.2,386.3 446.8,386.0 447.3,385.7 447.9,385.4 448.4,385.0 449.0,384.7 449.5,384.3 450.1,383.9 450.6,383.5 451.2,383.0 451.7,382.5 452.3,381.9 452.8,381.3 453.4,380.7 453.9,380.1 454.5,379.5 455.0,378.9 455.6,378.3 456.1,377.7 456.7,377.0 457.2,376.2 457.8,375.3 458.3,374.1 458.9,372.4 459.4,370.5 460.0,368.3 460.5,366.0 461.1,363.7 461.6,361.4 462.2,358.6 462.7,355.5 463.3,352.4 463.8,349.6 464.4,347.4 464.9,346.1 465.5,345.0 466.0,344.1 466.6,343.3 467.1,342.7 467.7,342.2 468.2,341.8 468.8,341.5 469.3,341.1 469.9,340.8 470.4,340.5 471.0,340.3 471.5,340.1 472.1,339.9 472.6,339.8 473.2,339.7 473.7,339.7 474.3,339.7 474.8,339.7 475.4,339.7 475.9,339.7 476.5,339.7 477.0,340.3 477.6,342.5 478.1,345.7 478.7,349.3 479.2,353.0 479.8,356.1 480.3,359.5 480.9,363.1 481.4,366.6 482.0,369.6 482.5,371.8 483.1,373.5 483.6,375.1 484.2,376.4 484.7,377.4 485.3,378.0 485.8,377.8 486.4,376.9 486.9,375.2 487.5,373.0 488.0,370.4 488.6,367.4 489.1,362.2 489.7,355.1 490.2,347.8 490.8,340.8 491.3,332.4 491.9,325.0 492.4,322.6 493.0,326.4 493.5,330.6 494.1,333.8 494.6,336.0 495.2,336.7 495.7,337.0 496.3,337.2 496.8,337.2 497.4,336.8 497.9,335.0 498.5,331.5 499.0,327.2 499.6,323.2 500.1,320.6 500.7,319.0 501.2,317.7 501.8,316.7 502.3,316.3 502.9,316.6 503.4,317.9 504.0,320.2 504.5,322.4 505.1,323.6 505.6,323.2 506.2,320.0 506.7,314.6 507.3,309.4 507.8,305.7 508.4,305.0 508.9,307.4 509.5,311.5 510.0,316.2 510.6,320.2 511.1,323.2 511.7,326.1 512.2,328.6 512.8,330.4 513.3,331.3 513.9,330.7 514.4,327.8 515.0,323.9 515.5,320.3 516.1,316.3 516.6,312.0 517.2,309.0 517.7,308.7 518.3,310.4 518.8,312.9 519.4,315.2 519.9,317.1 520.5,319.2 521.0,320.9 521.6,321.8 522.1,321.8 522.7,321.6 523.2,321.2 523.8,320.7 524.3,320.2 524.9,319.3 525.4,318.2 526.0,317.2 526.5,316.6 527.1,316.8 527.6,318.2 528.2,320.6 528.7,323.5 529.3,326.5 529.8,329.2 530.4,330.9 530.9,331.4 531.5,329.3 532.0,324.6 532.6,318.4 533.1,312.0 533.7,306.6 534.2,300.4 534.8,293.8 535.3,288.1 535.9,284.7 536.4,283.8 537.0,284.9 537.5,287.0 538.1,289.5 538.6,292.0 539.2,294.8 539.7,297.7 540.3,299.8 540.8,301.2 541.4,301.8 541.9,302.1 542.5,302.5 543.0,303.2 543.6,305.3 544.1,309.0 544.7,314.0 545.2,319.1 545.8,323.5 546.3,327.3 546.9,330.7 547.4,334.2 548.0,337.9 548.5,342.0 549.1,347.0 549.6,352.5 550.2,357.3 550.7,360.4 551.3,360.6 551.8,358.4 552.4,354.6 552.9,349.5 553.5,343.7 554.0,336.1 554.6,322.6 555.1,306.7 555.7,292.4 556.2,283.5 556.8,281.1 557.3,279.6 557.9,279.1 558.4,278.8 559.0,278.5 559.5,278.3 560.1,278.1 560.6,278.2 561.2,278.1 561.7,277.6 562.3,276.6 562.8,275.2 563.4,271.2 563.9,255.7 564.5,234.9 565.0,216.5 565.6,207.6 566.1,203.3 566.7,200.0 567.2,196.0 567.8,189.7 568.3,181.9 568.9,173.7 569.4,166.4 570.0,161.0 570.5,156.8 571.1,152.4 571.6,146.5 572.2,136.5 572.7,114.7 573.3,97.6 573.8,84.2 574.4,74.0 574.9,69.8 575.5,68.4 576.0,66.4 576.6,46.3 577.1,29.4 577.7,25.7 578.2,23.0 578.8,21.2 579.3,20.5 579.9,22.2 580.4,27.2 581.0,33.6 581.5,41.9 582.1,53.8 582.6,65.6 583.2,74.0 583.7,80.0 584.3,87.5 584.8,102.2 585.4,109.5 585.9,114.8 586.5,122.0 587.0,136.0 587.6,155.9 588.1,177.5 588.7,197.0 589.2,216.4 589.8,235.1 590.3,251.0 590.9,263.9 591.4,275.3 592.0,286.3 592.5,297.3 593.1,307.8 593.6,317.4 594.2,325.6 594.7,332.5 595.3,339.0 595.8,344.5 596.4,347.8 596.9,349.3 597.5,350.5 598.0,351.5 598.6,352.4 599.1,353.0 599.7,353.4 600.2,353.4 600.8,352.8 601.3,351.7 601.9,350.3 602.4,348.9 603.0,347.8 603.5,347.4 604.1,348.5 604.6,350.6 605.2,353.1 605.7,355.2 606.3,356.5 606.8,357.3 607.4,357.9 607.9,358.5 608.5,359.2 609.0,360.2 609.6,361.4 610.1,362.8 610.7,364.4 611.2,366.2 611.8,368.7 612.3,372.0 612.9,375.4 613.4,383.7 614.0,380.6 614.5,377.1 615.1,373.2 615.6,367.8 616.2,361.4 616.7,355.6 617.3,352.3 617.8,352.1 618.4,352.7 618.9,353.5 619.5,354.4 620.0,355.3 620.6,355.9 621.1,356.0 621.7,355.7 622.2,355.2 622.8,354.5 623.3,353.6 623.9,352.6 624.4,351.6 625.0,350.6 625.5,348.2 626.1,348.0 626.6,348.9 627.2,347.9 627.7,346.9 628.3,347.5 628.8,347.6 629.4,343.5 629.9,345.5 630.5,346.6 631.0,342.1 631.6,341.5 632.1,342.1 632.7,341.2 633.2,339.4 633.8,339.3 634.3,340.7 634.9,339.0 635.4,335.8 636.0,333.7 636.5,333.6 637.1,334.2 637.6,331.9 638.2,330.7 638.7,331.6 639.3,329.0 639.8,327.5 640.4,327.0 640.9,327.2 641.5,324.2 642.0,323.1 642.6,320.6 643.1,320.9 643.7,315.4 644.2,313.6 644.8,312.3 645.3,313.2 645.9,309.9 646.4,303.6 647.0,301.4 647.5,299.7 648.1,295.9 648.6,293.8 649.2,288.8 649.7,284.2 650.3,284.1 650.8,281.8 651.4,274.9 651.9,271.1 652.5,269.6 653.0,264.4 653.6,264.0 654.1,258.7 654.7,258.0 655.2,253.5 655.8,251.2 656.3,249.1 656.9,245.4 657.4,241.8 658.0,241.9 658.5,236.3 659.1,237.8 659.6,232.8 660.2,230.6 660.7,229.6 661.3,227.3 661.8,224.9 662.4,219.6 662.9,217.9 663.5,217.1 664.0,215.0 664.6,212.7 665.1,213.5 665.7,210.7 666.2,211.4 666.8,211.0 667.3,209.5 667.9,208.3 668.4,209.0 669.0,208.2 669.5,208.0 670.1,205.6 670.6,207.0 671.2,208.2" fill="none" stroke="#2ca02c" stroke-opacity="0.95" stroke-width="1.4" stroke-linejoin="round"/>
<polyline points="38.7,382.4 39.2,383.3 39.8,382.0 40.3,384.7 40.9,376.5 41.4,386.1 42.0,382.9 42.5,380.6 43.1,373.5 43.6,383.6 44.2,381.3 44.7,375.3 45.3,382.9 45.8,379.8 46.4,381.0 46.9,382.6 47.5,379.9 48.0,376.3 48.6,379.8 49.1,376.7 49.7,376.1 50.2,371.7 50.8,370.4 51.3,378.3 51.9,374.5 52.4,375.2 53.0,380.2 53.5,376.4 54.1,364.0 54.6,375.9 55.2,373.6 55.7,377.2 56.3,368.3 56.8,372.5 57.4,374.5 57.9,368.1 58.5,362.8 59.0,371.9 59.6,370.3 60.1,369.0 60.7,370.1 61.2,365.1 61.8,366.1 62.3,372.5 62.9,365.6 63.4,360.9 64.0,366.1 64.5,368.0 65.1,358.7 65.6,365.7 66.2,367.2 66.7,364.4 67.3,358.4 67.8,360.6 68.4,365.7 68.9,364.2 69.5,360.2 70.0,347.3 70.6,357.6 71.1,366.2 71.7,362.9 72.2,362.6 72.8,352.9 73.3,353.3 73.9,355.4 74.4,352.5 75.0,357.0 75.5,348.5 76.1,357.4 76.6,354.7 77.2,353.3 77.7,356.9 78.3,355.8 78.8,354.4 79.4,352.4 79.9,353.0 80.5,346.5 81.0,339.4 81.6,349.8 82.1,352.0 82.7,356.9 83.2,352.1 83.8,347.1 84.3,344.1 84.9,345.4 85.4,348.9 86.0,348.3 86.5,344.3 87.1,344.1 87.6,350.6 88.2,348.8 88.7,342.3 89.3,348.1 89.8,341.4 90.4,345.3 90.9,343.6 91.5,348.0 92.0,341.5 92.6,340.7 93.1,339.3 93.7,342.2 94.2,339.7 94.8,337.0 95.3,339.7 95.9,343.0 96.4,331.6 97.0,339.2 97.5,331.5 98.1,331.8 98.6,331.3 99.2,323.7 99.7,333.2 100.3,314.4 100.8,325.4 101.4,310.3 101.9,320.7 102.5,320.9 103.0,317.8 103.6,304.4 104.1,309.5 104.7,312.2 105.2,299.6 105.8,304.7 106.3,304.8 106.9,291.0 107.4,292.0 108.0,298.2 108.5,291.5 109.1,289.0 109.6,286.5 110.2,284.1 110.7,281.8 111.3,279.5 111.8,277.1 112.4,274.8 112.9,272.5 113.5,270.2 114.0,268.0 114.6,265.7 115.1,263.4 115.7,261.1 116.2,258.8 116.8,256.5 117.3,254.2 117.9,251.8 118.4,249.5 119.0,247.1 119.5,244.7 120.1,242.2 120.6,239.8 121.2,237.3 121.7,234.7 122.3,232.0 122.8,229.4 123.4,226.7 123.9,224.0 124.5,221.4 125.0,218.7 125.6,216.1 126.1,213.6 126.7,211.1 127.2,208.7 127.8,206.3 128.3,204.0 128.9,201.7 129.4,199.4 130.0,197.1 130.5,194.8 131.1,192.5 131.6,190.2 132.2,187.9 132.7,185.6 133.3,183.3 133.8,181.0 134.4,178.7 134.9,176.4 135.5,174.1 136.0,171.8 136.6,169.6 137.1,167.3 137.7,164.9 138.2,162.6 138.8,160.2 139.3,157.9 139.9,155.7 140.4,154.0 141.0,151.8 141.5,148.8 142.1,147.6 142.6,147.0 143.2,145.7 143.7,144.1 144.3,142.1 144.8,141.4 145.4,139.8 145.9,137.8 146.5,136.5 147.0,135.3 147.6,133.3 148.1,133.8 148.7,132.7 149.2,131.4 149.8,128.6 150.3,127.3 150.9,126.9 151.4,125.0 152.0,122.6 152.5,122.6 153.1,120.3 153.6,119.5 154.2,118.3 154.7,117.1 155.3,118.4 155.8,115.7 156.4,116.8 156.9,115.2 157.5,114.2 158.0,112.7 158.6,111.2 159.1,111.3 159.7,112.5 160.2,112.3 160.8,111.3 161.3,111.4 161.9,111.7 162.4,112.5 163.0,113.0 163.5,113.6 164.1,112.5 164.6,114.4 165.2,113.9 165.7,114.9 166.3,111.0 166.8,115.0 167.4,116.3 167.9,114.5 168.5,117.9 169.0,116.6 169.6,119.6 170.1,119.6 170.7,121.2 171.2,120.5 171.8,121.1 172.3,123.0 172.9,123.7 173.4,122.5 174.0,125.7 174.5,126.5 175.1,127.2 175.6,126.5 176.2,129.4 176.7,129.9 177.3,131.7 177.8,130.5 178.4,134.4 178.9,136.2 179.5,138.1 180.0,139.4 180.6,141.0 181.1,142.6 181.7,144.9 182.2,145.8 182.8,145.8 183.3,148.9 183.9,151.0 184.4,154.8 185.0,155.9 185.5,156.4 186.1,158.4 186.6,161.1 187.2,163.8 187.7,164.9 188.3,168.1 188.8,168.3 189.4,171.8 189.9,174.4 190.5,172.6 191.0,176.6 191.6,178.5 192.1,180.2 192.7,181.4 193.2,182.7 193.8,184.5 194.3,185.8 194.9,187.2 195.4,190.0 196.0,191.0 196.5,192.3 197.1,192.3 197.6,193.8 198.2,196.7 198.7,196.2 199.3,199.4 199.8,198.6 200.4,202.5 200.9,203.1 201.5,203.1 202.0,204.2 202.6,204.3 203.1,206.6 203.7,208.4 204.2,209.0 204.8,209.4 205.3,211.8 205.9,211.7 206.4,212.5 207.0,212.8 207.5,214.2 208.1,216.3 208.6,215.6 209.2,215.0 209.7,217.0 210.3,218.8 210.8,219.1 211.4,218.9 211.9,220.3 212.5,220.0 213.0,222.3 213.6,222.2 214.1,223.4 214.7,224.2 215.2,224.9 215.8,227.3 216.3,228.0 216.9,227.7 217.4,228.5 218.0,229.9 218.5,228.9 219.1,229.1 219.6,229.0 220.2,230.7 220.7,229.7 221.3,228.8 221.8,227.2 222.4,225.2 222.9,224.7 223.5,222.0 224.0,220.2 224.6,217.4 225.1,215.6 225.7,213.8 226.2,211.7 226.8,208.9 227.3,207.1 227.9,205.1 228.4,201.2 229.0,201.2 229.5,199.0 230.1,196.9 230.6,196.4 231.2,195.7 231.7,194.3 232.3,193.4 232.8,192.8 233.4,192.8 233.9,191.6 234.5,192.6 235.0,194.0 235.6,194.5 236.1,194.5 236.7,195.5 237.2,195.7 237.8,196.6 238.3,196.0 238.9,196.5 239.4,197.1 240.0,198.6 240.5,200.9 241.1,200.6 241.6,201.6 242.2,201.6 242.7,203.6 243.3,203.8 243.8,204.7 244.4,206.6 244.9,206.5 245.5,207.5 246.0,209.9 246.6,213.4 247.1,215.1 247.7,217.0 248.2,219.3 248.8,222.1 249.3,225.2 249.9,227.0 250.4,230.5 251.0,231.8 251.5,235.6 252.1,236.8 252.6,238.4 253.2,240.3 253.7,241.4 254.3,243.2 254.8,243.4 255.4,245.3 255.9,246.8 256.5,248.0 257.0,248.4 257.6,250.2 258.1,249.1 258.7,250.7 259.2,251.2 259.8,252.2 260.3,252.6 260.9,254.2 261.4,253.8 262.0,253.7 262.5,256.4 263.1,255.3 263.6,255.6 264.2,256.8 264.7,256.3 265.3,257.0 265.8,258.1 266.4,257.3 266.9,258.3 267.5,259.6 268.0,260.7 268.6,259.9 269.1,260.4 269.7,261.6 270.2,260.0 270.8,261.2 271.3,261.5 271.9,260.8 272.4,260.4 273.0,263.2 273.5,264.9 274.1,265.1 274.6,266.1 275.2,262.8 275.7,265.6 276.3,267.4 276.8,265.8 277.4,265.8 277.9,267.8 278.5,267.9 279.0,268.9 279.6,268.7 280.1,270.3 280.7,270.2 281.2,270.2 281.8,270.0 282.3,271.5 282.9,270.6 283.4,272.5 284.0,273.1 284.5,273.3 285.1,271.6 285.6,273.6 286.2,273.9 286.7,274.8 287.3,272.9 287.8,274.2 288.4,275.1 288.9,276.8 289.5,275.3 290.0,277.1 290.6,276.8 291.1,278.8 291.7,277.7 292.2,276.3 292.8,277.9 293.3,278.8 293.9,280.1 294.4,279.9 295.0,279.4 295.5,278.9 296.1,280.5 296.6,280.7 297.2,282.4 297.7,282.4 298.3,280.6 298.8,280.2 299.4,282.4 299.9,283.4 300.5,282.6 301.0,283.4 301.6,285.4 302.1,285.4 302.7,283.5 303.2,285.8 303.8,286.1 304.3,286.1 304.9,287.2 305.4,287.6 306.0,289.8 306.5,288.1 307.1,287.6 307.6,288.2 308.2,289.7 308.7,291.2 309.3,290.4 309.8,290.7 310.4,290.8 310.9,290.6 311.5,291.4 312.0,290.6 312.6,292.8 313.1,292.9 313.7,293.0 314.2,292.4 314.8,293.3 315.3,293.3 315.9,294.4 316.4,294.1 317.0,295.0 317.5,295.8 318.1,296.4 318.6,294.5 319.2,295.4 319.7,294.9 320.3,297.4 320.8,295.7 321.4,298.1 321.9,296.6 322.5,298.4 323.0,297.3 323.6,298.0 324.1,298.7 324.7,299.2 325.2,299.4 325.8,300.7 326.3,301.6 326.9,301.8 327.4,301.0 328.0,300.1 328.5,302.3 329.1,299.8 329.6,303.4 330.2,303.7 330.7,302.2 331.3,304.2 331.8,303.3 332.4,305.4 332.9,303.8 333.5,304.0 334.0,304.4 334.6,305.5 335.1,302.1 335.7,313.0 336.2,295.2 336.8,311.9 337.3,305.6 337.9,305.7 338.4,304.7 339.0,304.8 339.5,309.0 340.1,311.7 340.6,308.5 341.2,305.5 341.7,309.3 342.3,306.4 342.8,300.5 343.4,309.9 343.9,304.1 344.5,308.0 345.0,310.5 345.6,309.3 346.1,302.2 346.7,316.1 347.2,314.5 347.8,316.6 348.3,306.5 348.9,313.1 349.4,318.4 350.0,311.0 350.5,314.4 351.1,314.1 351.6,315.0 352.2,316.3 352.7,315.2 353.3,317.8 353.8,312.9 354.4,317.6 354.9,307.6 355.5,320.3 356.0,320.4 356.6,309.9 357.1,316.4 357.7,318.3 358.2,320.6 358.8,314.3 359.3,316.3 359.9,322.9 360.4,319.6 361.0,316.5 361.5,313.8 362.1,319.9 362.6,316.0 363.2,322.4 363.7,322.0 364.3,328.5 364.8,318.9 365.4,325.3 365.9,319.7 366.5,320.6 367.0,323.6 367.6,321.8 368.1,330.7 368.7,325.0 369.2,323.1 369.8,333.2 370.3,323.6 370.9,325.2 371.4,318.0 372.0,319.6 372.5,329.3 373.1,331.5 373.6,323.8 374.2,319.0 374.7,321.4 375.3,324.4 375.8,324.9 376.4,328.3 376.9,326.9 377.5,331.0 378.0,321.9 378.6,331.2 379.1,331.8 379.7,328.2 380.2,329.5 380.8,333.0 381.3,333.8 381.9,332.0 382.4,334.3 383.0,332.0 383.5,329.3 384.1,334.3 384.6,332.1 385.2,328.3 385.7,336.7 386.3,335.4 386.8,336.8 387.4,333.2 387.9,339.6 388.5,336.7 389.0,338.5 389.6,333.5 390.1,324.8 390.7,340.2 391.2,336.3 391.8,330.4 392.3,341.7 392.9,335.2 393.4,338.3 394.0,343.9 394.5,333.4 395.1,338.3 395.6,337.0 396.2,343.8 396.7,344.5 397.3,338.3 397.8,340.6 398.4,343.5 398.9,332.1 399.5,342.1 400.0,344.8 400.6,348.3 401.1,342.9 401.7,339.4 402.2,343.0 402.8,343.7 403.3,343.1 403.9,347.0 404.4,347.6 405.0,348.7 405.5,347.9 406.1,347.7 406.6,344.3 407.2,347.0 407.7,346.1 408.3,350.6 408.8,350.1 409.4,351.3 409.9,343.8 410.5,352.5 411.0,357.9 411.6,358.8 412.1,353.5 412.7,361.5 413.2,357.2 413.8,356.9 414.3,347.3 414.9,356.9 415.4,362.9 416.0,366.5 416.5,352.9 417.1,365.6 417.6,366.8 418.2,367.7 418.7,368.1 419.3,367.9 419.8,365.5 420.4,361.4 420.9,368.8 421.5,370.6 422.0,369.4 422.6,368.0 423.1,368.9 423.7,371.3 424.2,373.0 424.8,364.1 425.3,370.5 425.9,370.9 426.4,371.3 427.0,371.7 427.5,372.1 428.1,372.6 428.6,373.0 429.2,373.4 429.7,373.8 430.3,374.3 430.8,374.7 431.4,375.2 431.9,375.7 432.5,376.1 433.0,376.5 433.6,376.9 434.1,377.4 434.7,377.8 435.2,378.3 435.8,378.7 436.3,379.2 436.9,379.6 437.4,380.0 438.0,380.4 438.5,380.7 439.1,380.9 439.6,380.9 440.2,380.5 440.7,380.0 441.3,379.5 441.8,378.9 442.4,378.1 442.9,377.3 443.5,376.3 444.0,374.7 444.6,372.4 445.1,369.9 445.7,367.8 446.2,365.7 446.8,363.7 447.3,361.5 447.9,359.1 448.4,356.5 449.0,354.0 449.5,351.9 450.1,350.4 450.6,349.4 451.2,348.6 451.7,348.0 452.3,347.4 452.8,346.9 453.4,346.5 453.9,346.3 454.5,346.0 455.0,345.6 455.6,345.2 456.1,344.9 456.7,344.6 457.2,344.0 457.8,343.2 458.3,341.9 458.9,340.2 459.4,338.1 460.0,335.8 460.5,333.4 461.1,331.0 461.6,328.4 462.2,325.6 462.7,322.3 463.3,318.6 463.8,314.1 464.4,307.5 464.9,303.9 465.5,301.5 466.0,299.3 466.6,297.4 467.1,296.1 467.7,295.5 468.2,295.1 468.8,294.2 469.3,292.8 469.9,291.1 470.4,289.1 471.0,287.0 471.5,284.7 472.1,282.6 472.6,280.5 473.2,278.4 473.7,276.4 474.3,273.9 474.8,271.2 475.4,268.7 475.9,266.5 476.5,265.1 477.0,266.0 477.6,272.0 478.1,279.3 478.7,288.0 479.2,297.1 479.8,305.6 480.3,314.2 480.9,322.5 481.4,330.1 482.0,336.9 482.5,343.1 483.1,348.6 483.6,353.4 484.2,357.8 484.7,361.6 485.3,364.6 485.8,363.6 486.4,359.7 486.9,355.2 487.5,350.6 488.0,346.1 488.6,341.1 489.1,335.1 489.7,324.1 490.2,305.5 490.8,292.3 491.3,279.7 491.9,272.6 492.4,272.7 493.0,279.9 493.5,288.2 494.1,292.6 494.6,295.6 495.2,296.4 495.7,296.8 496.3,296.9 496.8,297.1 497.4,296.9 497.9,295.0 498.5,291.3 499.0,287.1 499.6,283.3 500.1,280.3 500.7,277.7 501.2,275.4 501.8,273.9 502.3,274.0 502.9,275.6 503.4,277.9 504.0,281.4 504.5,284.2 505.1,284.4 505.6,281.7 506.2,276.3 506.7,267.9 507.3,260.8 507.8,256.2 508.4,254.8 508.9,256.7 509.5,259.9 510.0,263.7 510.6,267.3 511.1,271.1 511.7,275.0 512.2,277.7 512.8,279.4 513.3,280.4 513.9,280.3 514.4,278.4 515.0,275.9 515.5,273.5 516.1,270.9 516.6,268.1 517.2,266.2 517.7,266.2 518.3,267.7 518.8,269.7 519.4,271.6 519.9,273.2 520.5,275.0 521.0,276.6 521.6,277.6 522.1,278.1 522.7,278.5 523.2,278.7 523.8,278.8 524.3,278.9 524.9,278.7 525.4,278.3 526.0,278.1 526.5,277.5 527.1,277.6 527.6,278.5 528.2,280.0 528.7,281.8 529.3,283.6 529.8,284.6 530.4,283.8 530.9,280.9 531.5,275.7 532.0,267.4 532.6,256.2 533.1,244.0 533.7,232.7 534.2,219.8 534.8,205.8 535.3,194.0 535.9,187.5 536.4,188.9 537.0,194.3 537.5,201.0 538.1,209.3 538.6,218.6 539.2,228.3 539.7,237.9 540.3,243.3 540.8,246.5 541.4,246.3 541.9,243.6 542.5,241.2 543.0,239.0 543.6,238.4 544.1,239.6 544.7,242.2 545.2,245.9 545.8,249.9 546.3,253.6 546.9,257.6 547.4,262.2 548.0,267.7 548.5,274.8 549.1,282.3 549.6,290.1 550.2,296.9 550.7,300.9 551.3,302.3 551.8,301.2 552.4,298.0 552.9,292.7 553.5,286.6 554.0,278.9 554.6,267.0 555.1,253.5 555.7,241.4 556.2,233.4 556.8,229.4 557.3,226.3 557.9,224.2 558.4,222.8 559.0,221.6 559.5,220.6 560.1,220.0 560.6,221.1 561.2,223.5 561.7,226.1 562.3,227.9 562.8,229.7 563.4,229.7 563.9,222.6 564.5,212.1 565.0,202.7 565.6,198.1 566.1,195.8 566.7,194.1 567.2,191.8 567.8,188.1 568.3,183.2 568.9,177.8 569.4,172.8 570.0,168.8 570.5,165.2 571.1,161.2 571.6,156.1 572.2,147.8 572.7,131.8 573.3,118.1 573.8,106.0 574.4,95.4 574.9,88.4 575.5,83.0 576.0,76.6 576.6,58.3 577.1,41.7 577.7,33.5 578.2,27.2 578.8,22.8 579.3,20.3 579.9,21.9 580.4,26.4 581.0,32.3 581.5,40.1 582.1,51.8 582.6,64.1 583.2,75.2 583.7,84.9 584.3,95.6 584.8,110.2 585.4,119.1 585.9,126.3 586.5,134.4 587.0,146.5 587.6,162.5 588.1,180.2 588.7,197.5 589.2,215.6 589.8,233.5 590.3,249.4 590.9,263.2 591.4,276.2 592.0,288.6 592.5,299.9 593.1,309.9 593.6,319.0 594.2,326.8 594.7,333.4 595.3,339.6 595.8,344.9 596.4,348.5 596.9,350.7 597.5,352.6 598.0,354.2 598.6,355.6 599.1,356.8 599.7,357.8 600.2,358.5 600.8,358.6 601.3,358.0 601.9,357.0 602.4,355.5 603.0,354.2 603.5,353.6 604.1,354.8 604.6,357.1 605.2,359.4 605.7,361.1 606.3,362.1 606.8,362.7 607.4,363.2 607.9,363.7 608.5,364.4 609.0,365.2 609.6,366.4 610.1,367.7 610.7,369.2 611.2,370.8 611.8,372.8 612.3,375.4 612.9,378.1 613.4,385.3 614.0,384.5 614.5,383.7 615.1,382.9 615.6,382.0 616.2,381.2 616.7,380.4 617.3,379.5 617.8,378.7 618.4,377.8 618.9,376.9 619.5,376.1 620.0,375.2 620.6,374.4 621.1,373.7 621.7,373.0 622.2,372.3 622.8,371.7 623.3,371.2 623.9,370.6 624.4,370.1 625.0,369.6 625.5,369.1 626.1,368.6 626.6,368.1 627.2,367.6 627.7,367.0 628.3,366.5 628.8,365.9 629.4,365.2 629.9,364.6 630.5,363.9 631.0,363.3 631.6,362.6 632.1,361.9 632.7,361.2 633.2,360.5 633.8,359.7 634.3,358.9 634.9,358.1 635.4,357.2 636.0,356.3 636.5,355.4 637.1,354.4 637.6,353.2 638.2,352.1 638.7,350.8 639.3,349.5 639.8,348.2 640.4,348.1 640.9,342.5 641.5,343.4 642.0,339.9 642.6,342.3 643.1,337.9 643.7,336.9 644.2,337.4 644.8,334.7 645.3,335.6 645.9,330.2 646.4,335.8 647.0,329.7 647.5,328.8 648.1,329.1 648.6,326.2 649.2,323.3 649.7,317.7 650.3,314.1 650.8,301.7 651.4,303.0 651.9,293.4 652.5,287.0 653.0,281.9 653.6,276.1 654.1,269.3 654.7,270.6 655.2,269.0 655.8,275.3 656.3,277.7 656.9,275.8 657.4,278.1 658.0,271.4 658.5,272.0 659.1,267.6 659.6,270.5 660.2,271.4 660.7,270.9 661.3,272.4 661.8,277.8 662.4,278.6 662.9,283.7 663.5,285.2 664.0,293.5 664.6,296.9 665.1,302.0 665.7,304.4 666.2,302.4 666.8,300.7 667.3,296.5 667.9,295.3 668.4,299.3 669.0,300.3 669.5,305.3 670.1,316.3 670.6,324.2 671.2,336.3" fill="none" stroke="#d62728" stroke-opacity="0.95" stroke-width="1.4" stroke-linejoin="round"/>
<polyline points="38.7,385.5 39.2,386.6 39.8,386.3 40.3,387.3 40.9,385.2 41.4,386.5 42.0,385.6 42.5,386.1 43.1,385.0 43.6,385.5 44.2,385.6 44.7,386.4 45.3,384.2 45.8,384.5 46.4,384.3 46.9,383.8 47.5,384.0 48.0,383.8 48.6,383.5 49.1,382.5 49.7,383.5 50.2,382.3 50.8,382.9 51.3,383.4 51.9,381.9 52.4,382.4 53.0,382.5 53.5,382.2 54.1,381.8 54.6,381.9 55.2,382.1 55.7,381.0 56.3,381.4 56.8,381.7 57.4,380.8 57.9,380.4 58.5,381.4 59.0,381.2 59.6,381.2 60.1,380.5 60.7,380.0 61.2,381.1 61.8,380.8 62.3,380.5 62.9,379.6 63.4,379.8 64.0,379.1 64.5,378.9 65.1,379.4 65.6,379.4 66.2,379.4 66.7,379.0 67.3,379.9 67.8,378.1 68.4,379.2 68.9,378.1 69.5,378.7 70.0,377.5 70.6,379.1 71.1,378.5 71.7,376.6 72.2,378.1 72.8,377.3 73.3,377.6 73.9,376.9 74.4,376.7 75.0,375.8 75.5,376.1 76.1,376.2 76.6,375.1 77.2,375.3 77.7,375.8 78.3,375.8 78.8,375.2 79.4,376.1 79.9,374.8 80.5,375.3 81.0,375.5 81.6,374.1 82.1,375.1 82.7,374.2 83.2,373.6 83.8,374.9 84.3,374.7 84.9,373.5 85.4,374.1 86.0,373.9 86.5,373.2 87.1,374.4 87.6,372.9 88.2,372.5 88.7,372.8 89.3,372.6 89.8,372.3 90.4,372.2 90.9,371.5 91.5,372.5 92.0,371.2 92.6,372.5 93.1,372.1 93.7,371.3 94.2,371.2 94.8,370.8 95.3,371.0 95.9,371.8 96.4,370.8 97.0,370.1 97.5,371.1 98.1,369.6 98.6,369.3 99.2,370.3 99.7,368.9 100.3,368.5 100.8,367.4 101.4,366.6 101.9,365.8 102.5,365.1 103.0,365.1 103.6,362.3 104.1,360.7 104.7,361.0 105.2,359.4 105.8,359.4 106.3,357.7 106.9,357.4 107.4,357.1 108.0,355.2 108.5,354.2 109.1,354.2 109.6,352.4 110.2,351.9 110.7,351.0 111.3,349.5 111.8,349.8 112.4,348.3 112.9,347.4 113.5,346.4 114.0,345.3 114.6,344.2 115.1,343.1 115.7,341.9 116.2,340.7 116.8,339.5 117.3,338.3 117.9,337.2 118.4,336.1 119.0,335.1 119.5,334.1 120.1,333.1 120.6,332.1 121.2,331.1 121.7,330.0 122.3,328.9 122.8,327.6 123.4,326.3 123.9,324.9 124.5,323.3 125.0,321.7 125.6,320.0 126.1,318.2 126.7,316.4 127.2,314.6 127.8,312.8 128.3,311.0 128.9,309.3 129.4,307.6 130.0,305.9 130.5,304.2 131.1,302.5 131.6,300.8 132.2,299.0 132.7,297.3 133.3,295.6 133.8,293.9 134.4,292.2 134.9,290.5 135.5,288.8 136.0,287.1 136.6,285.4 137.1,283.7 137.7,282.0 138.2,280.3 138.8,278.6 139.3,276.9 139.9,275.3 140.4,273.6 141.0,272.0 141.5,270.4 142.1,268.7 142.6,267.1 143.2,265.5 143.7,263.9 144.3,262.3 144.8,260.7 145.4,259.1 145.9,257.5 146.5,256.0 147.0,254.5 147.6,253.0 148.1,251.6 148.7,250.1 149.2,248.7 149.8,247.2 150.3,245.7 150.9,244.3 151.4,243.0 152.0,241.8 152.5,240.7 153.1,239.8 153.6,239.0 154.2,238.3 154.7,237.6 155.3,237.0 155.8,236.6 156.4,236.3 156.9,236.0 157.5,235.8 158.0,235.6 158.6,235.5 159.1,235.3 159.7,235.3 160.2,235.3 160.8,235.5 161.3,235.6 161.9,235.9 162.4,236.2 163.0,236.5 163.5,237.0 164.1,237.6 164.6,238.3 165.2,238.9 165.7,239.5 166.3,240.0 166.8,240.6 167.4,241.1 167.9,241.6 168.5,242.2 169.0,242.8 169.6,243.5 170.1,244.2 170.7,245.0 171.2,245.9 171.8,246.9 172.3,248.0 172.9,249.0 173.4,250.1 174.0,251.2 174.5,252.3 175.1,253.4 175.6,254.5 176.2,255.7 176.7,256.9 177.3,258.1 177.8,259.3 178.4,260.5 178.9,261.8 179.5,263.0 180.0,264.3 180.6,265.5 181.1,266.7 181.7,268.0 182.2,269.2 182.8,270.4 183.3,271.6 183.9,272.7 184.4,273.9 185.0,275.0 185.5,276.2 186.1,277.3 186.6,278.5 187.2,279.6 187.7,280.8 188.3,281.9 188.8,283.0 189.4,284.1 189.9,285.2 190.5,286.3 191.0,287.4 191.6,288.4 192.1,289.5 192.7,290.5 193.2,291.4 193.8,292.4 194.3,293.4 194.9,294.3 195.4,295.3 196.0,296.2 196.5,297.1 197.1,298.0 197.6,298.9 198.2,299.8 198.7,300.7 199.3,301.5 199.8,302.4 200.4,303.2 200.9,304.0 201.5,304.8 202.0,305.6 202.6,306.3 203.1,307.1 203.7,307.8 204.2,308.5 204.8,309.2 205.3,309.9 205.9,310.6 206.4,311.3 207.0,311.9 207.5,312.6 208.1,313.2 208.6,313.8 209.2,314.4 209.7,314.9 210.3,315.5 210.8,316.1 211.4,316.6 211.9,317.1 212.5,317.7 213.0,318.1 213.6,318.6 214.1,319.0 214.7,319.3 215.2,319.6 215.8,319.9 216.3,320.1 216.9,320.4 217.4,320.6 218.0,320.8 218.5,320.9 219.1,321.0 219.6,321.1 220.2,321.2 220.7,321.3 221.3,321.3 221.8,321.4 222.4,321.4 222.9,321.3 223.5,320.9 224.0,320.4 224.6,319.8 225.1,319.1 225.7,318.4 226.2,317.6 226.8,316.7 227.3,315.5 227.9,314.3 228.4,313.0 229.0,311.9 229.5,310.9 230.1,310.1 230.6,309.4 231.2,308.7 231.7,308.0 232.3,307.4 232.8,306.7 233.4,306.0 233.9,305.3 234.5,304.7 235.0,304.1 235.6,303.7 236.1,303.4 236.7,303.2 237.2,303.0 237.8,302.9 238.3,302.7 238.9,302.6 239.4,302.6 240.0,302.7 240.5,303.1 241.1,303.6 241.6,304.2 242.2,304.7 242.7,305.1 243.3,305.6 243.8,306.0 244.4,306.5 244.9,307.1 245.5,307.7 246.0,308.5 246.6,309.5 247.1,310.5 247.7,311.5 248.2,312.6 248.8,313.6 249.3,314.6 249.9,315.7 250.4,316.7 251.0,317.8 251.5,318.9 252.1,319.9 252.6,320.9 253.2,321.9 253.7,322.8 254.3,323.8 254.8,324.7 255.4,325.7 255.9,326.6 256.5,327.5 257.0,328.3 257.6,329.0 258.1,329.5 258.7,329.9 259.2,330.3 259.8,330.6 260.3,330.9 260.9,331.2 261.4,331.4 262.0,331.7 262.5,331.9 263.1,332.1 263.6,332.3 264.2,332.5 264.7,332.7 265.3,332.8 265.8,333.0 266.4,333.2 266.9,333.3 267.5,333.5 268.0,333.6 268.6,333.8 269.1,333.9 269.7,334.1 270.2,334.3 270.8,334.4 271.3,334.6 271.9,334.8 272.4,335.0 273.0,335.2 273.5,335.4 274.1,335.5 274.6,335.7 275.2,335.9 275.7,336.1 276.3,336.2 276.8,336.4 277.4,336.6 277.9,336.8 278.5,336.9 279.0,337.1 279.6,337.3 280.1,337.4 280.7,337.6 281.2,337.8 281.8,338.0 282.3,338.1 282.9,338.3 283.4,338.4 284.0,338.6 284.5,338.8 285.1,338.9 285.6,339.1 286.2,339.3 286.7,339.4 287.3,339.6 287.8,339.8 288.4,339.9 288.9,340.1 289.5,340.3 290.0,340.4 290.6,340.6 291.1,340.7 291.7,340.9 292.2,341.1 292.8,341.2 293.3,341.4 293.9,341.5 294.4,341.7 295.0,341.9 295.5,342.0 296.1,342.2 296.6,342.3 297.2,342.5 297.7,342.7 298.3,342.8 298.8,343.0 299.4,343.1 299.9,343.3 300.5,343.0 301.0,344.5 301.6,343.7 302.1,344.2 302.7,344.9 303.2,343.6 303.8,344.2 304.3,345.1 304.9,344.5 305.4,344.6 306.0,344.9 306.5,345.0 307.1,345.2 307.6,345.7 308.2,345.7 308.7,346.7 309.3,346.1 309.8,347.0 310.4,346.4 310.9,347.4 311.5,346.5 312.0,347.4 312.6,347.0 313.1,347.9 313.7,346.8 314.2,347.1 314.8,347.7 315.3,347.2 315.9,348.6 316.4,347.9 317.0,348.4 317.5,348.9 318.1,348.8 318.6,348.2 319.2,348.1 319.7,348.0 320.3,348.6 320.8,348.8 321.4,348.9 321.9,349.8 322.5,348.9 323.0,348.9 323.6,350.0 324.1,351.1 324.7,349.8 325.2,350.3 325.8,350.5 326.3,351.3 326.9,351.3 327.4,350.7 328.0,351.6 328.5,351.3 329.1,351.9 329.6,352.5 330.2,350.5 330.7,351.1 331.3,351.3 331.8,351.5 332.4,352.3 332.9,352.5 333.5,353.5 334.0,353.5 334.6,353.0 335.1,352.9 335.7,353.5 336.2,353.5 336.8,353.1 337.3,353.9 337.9,353.4 338.4,353.7 339.0,353.8 339.5,353.7 340.1,353.8 340.6,354.3 341.2,354.3 341.7,353.8 342.3,355.5 342.8,355.6 343.4,355.7 343.9,355.5 344.5,355.0 345.0,354.6 345.6,354.7 346.1,354.4 346.7,355.2 347.2,354.6 347.8,355.7 348.3,355.8 348.9,355.5 349.4,355.6 350.0,356.0 350.5,356.4 351.1,356.0 351.6,357.2 352.2,355.9 352.7,356.2 353.3,356.4 353.8,356.6 354.4,357.0 354.9,357.3 355.5,356.9 356.0,358.1 356.6,356.4 357.1,357.7 357.7,357.7 358.2,357.1 358.8,357.2 359.3,358.2 359.9,359.0 360.4,358.8 361.0,358.7 361.5,358.8 362.1,358.9 362.6,359.2 363.2,360.0 363.7,360.5 364.3,360.4 364.8,360.0 365.4,360.9 365.9,361.4 366.5,360.2 367.0,361.6 367.6,361.4 368.1,362.0 368.7,361.5 369.2,361.8 369.8,362.6 370.3,362.6 370.9,362.9 371.4,362.9 372.0,363.8 372.5,364.3 373.1,363.5 373.6,364.3 374.2,364.1 374.7,364.6 375.3,365.3 375.8,365.0 376.4,364.9 376.9,364.5 377.5,365.8 378.0,366.2 378.6,364.4 379.1,365.8 379.7,365.5 380.2,365.0 380.8,366.7 381.3,366.2 381.9,367.1 382.4,365.7 383.0,366.0 383.5,365.5 384.1,366.5 384.6,365.7 385.2,366.5 385.7,367.4 386.3,367.2 386.8,367.6 387.4,367.4 387.9,367.9 388.5,367.6 389.0,367.3 389.6,368.6 390.1,368.8 390.7,368.9 391.2,369.3 391.8,370.9 392.3,369.8 392.9,370.5 393.4,371.4 394.0,371.7 394.5,371.7 395.1,371.0 395.6,372.6 396.2,372.1 396.7,371.6 397.3,373.1 397.8,372.7 398.4,371.9 398.9,371.6 399.5,373.1 400.0,373.0 400.6,373.6 401.1,373.6 401.7,373.3 402.2,374.1 402.8,374.1 403.3,373.6 403.9,374.7 404.4,374.5 405.0,374.5 405.5,374.9 406.1,374.5 406.6,374.6 407.2,375.2 407.7,374.9 408.3,376.4 408.8,376.0 409.4,376.4 409.9,377.2 410.5,377.2 411.0,377.8 411.6,376.5 412.1,378.0 412.7,377.2 413.2,377.5 413.8,378.0 414.3,378.1 414.9,378.3 415.4,378.7 416.0,379.6 416.5,377.9 417.1,378.5 417.6,378.8 418.2,379.9 418.7,380.0 419.3,380.4 419.8,381.4 420.4,380.7 420.9,380.2 421.5,381.4 422.0,382.3 422.6,382.6 423.1,381.7 423.7,382.1 424.2,382.4 424.8,382.7 425.3,382.5 425.9,382.5 426.4,383.8 427.0,383.9 427.5,383.3 428.1,383.2 428.6,383.5 429.2,383.6 429.7,383.9 430.3,384.8 430.8,384.9 431.4,385.7 431.9,385.6 432.5,385.7 433.0,386.2 433.6,385.4 434.1,387.1 434.7,387.0 435.2,388.0 435.8,387.2 436.3,387.4 436.9,387.0 437.4,388.6 438.0,387.6 438.5,388.0 439.1,387.1 439.6,387.6 440.2,387.2 440.7,387.1 441.3,387.0 441.8,386.9 442.4,386.8 442.9,386.7 443.5,386.6 444.0,386.5 444.6,386.3 445.1,386.1 445.7,385.9 446.2,385.6 446.8,385.3 447.3,385.0 447.9,384.6 448.4,384.2 449.0,383.8 449.5,383.4 450.1,382.9 450.6,382.4 451.2,381.9 451.7,381.3 452.3,380.6 452.8,380.0 453.4,379.3 453.9,378.6 454.5,377.9 455.0,377.2 455.6,376.5 456.1,375.8 456.7,375.0 457.2,374.1 457.8,373.0 458.3,371.7 458.9,370.1 459.4,368.3 460.0,366.2 460.5,364.0 461.1,361.7 461.6,359.3 462.2,356.3 462.7,352.8 463.3,349.3 463.8,346.0 464.4,343.6 464.9,342.2 465.5,341.1 466.0,340.2 466.6,339.5 467.1,338.8 467.7,338.3 468.2,337.8 468.8,337.4 469.3,337.0 469.9,336.6 470.4,336.3 471.0,336.0 471.5,335.7 472.1,335.4 472.6,335.1 473.2,334.8 473.7,334.4 474.3,334.1 474.8,333.9 475.4,333.8 475.9,334.1 476.5,335.8 477.0,338.5 477.6,341.8 478.1,345.3 478.7,348.6 479.2,352.4 479.8,356.8 480.3,361.3 480.9,365.5 481.4,368.7 482.0,371.0 482.5,373.3 483.1,375.3 483.6,377.2 484.2,378.7 484.7,379.7 485.3,380.3 485.8,380.1 486.4,379.1 486.9,377.4 487.5,375.1 488.0,372.4 488.6,369.4 489.1,364.2 489.7,357.1 490.2,349.9 490.8,342.6 491.3,334.1 491.9,326.8 492.4,324.6 493.0,328.4 493.5,332.5 494.1,335.8 494.6,338.1 495.2,338.8 495.7,339.3 496.3,339.5 496.8,339.6 497.4,339.4 497.9,337.7 498.5,334.3 499.0,330.1 499.6,326.3 500.1,323.8 500.7,322.5 501.2,321.3 501.8,320.5 502.3,320.2 502.9,320.5 503.4,321.8 504.0,324.0 504.5,326.3 505.1,327.7 505.6,327.6 506.2,324.7 506.7,319.8 507.3,314.8 507.8,311.4 508.4,310.8 508.9,313.4 509.5,317.7 510.0,322.6 510.6,326.8 511.1,329.8 511.7,332.6 512.2,335.2 512.8,337.0 513.3,338.0 513.9,337.4 514.4,334.5 515.0,330.5 515.5,326.8 516.1,322.7 516.6,318.3 517.2,315.2 517.7,315.0 518.3,316.8 518.8,319.4 519.4,321.9 519.9,323.8 520.5,326.0 521.0,327.8 521.6,328.6 522.1,328.6 522.7,328.3 523.2,327.8 523.8,327.3 524.3,326.7 524.9,325.7 525.4,324.4 526.0,323.3 526.5,322.5 527.1,322.6 527.6,324.0 528.2,326.4 528.7,329.4 529.3,332.5 529.8,335.2 530.4,337.1 530.9,337.6 531.5,335.6 532.0,331.0 532.6,325.0 533.1,318.8 533.7,313.6 534.2,307.6 534.8,301.2 535.3,295.7 535.9,292.1 536.4,291.4 537.0,292.7 537.5,294.8 538.1,297.2 538.6,299.5 539.2,302.0 539.7,304.5 540.3,306.6 540.8,308.1 541.4,309.2 541.9,310.1 542.5,311.3 543.0,313.0 543.6,315.9 544.1,320.1 544.7,325.1 545.2,329.9 545.8,333.9 546.3,337.2 546.9,340.1 547.4,343.0 548.0,346.0 548.5,349.3 549.1,353.7 549.6,358.5 550.2,362.7 550.7,365.4 551.3,365.4 551.8,363.0 552.4,359.1 552.9,354.0 553.5,348.3 554.0,340.6 554.6,327.0 555.1,310.9 555.7,296.3 556.2,287.4 556.8,285.1 557.3,283.7 557.9,283.3 558.4,283.1 559.0,282.8 559.5,282.6 560.1,282.5 560.6,282.4 561.2,282.0 561.7,281.3 562.3,280.0 562.8,278.4 563.4,274.0 563.9,257.9 564.5,236.4 565.0,217.4 565.6,208.2 566.1,203.8 566.7,200.4 567.2,196.2 567.8,189.8 568.3,181.8 568.9,173.5 569.4,166.0 570.0,160.6 570.5,156.3 571.1,151.9 571.6,146.0 572.2,135.9 572.7,113.8 573.3,96.5 573.8,83.1 574.4,72.9 574.9,68.8 575.5,67.7 576.0,65.8 576.6,45.7 577.1,28.8 577.7,25.3 578.2,22.8 578.8,21.2 579.3,20.5 579.9,22.3 580.4,27.2 581.0,33.7 581.5,42.0 582.1,53.9 582.6,65.6 583.2,73.9 583.7,79.8 584.3,87.2 584.8,101.9 585.4,109.2 585.9,114.4 586.5,121.6 587.0,135.6 587.6,155.7 588.1,177.4 588.7,197.0 589.2,216.4 589.8,235.1 590.3,251.0 590.9,263.9 591.4,275.2 592.0,286.3 592.5,297.3 593.1,307.8 593.6,317.4 594.2,325.6 594.7,332.5 595.3,339.0 595.8,344.5 596.4,347.8 596.9,349.3 597.5,350.5 598.0,351.5 598.6,352.3 599.1,353.0 599.7,353.3 600.2,353.4 600.8,352.8 601.3,351.7 601.9,350.3 602.4,348.9 603.0,347.8 603.5,347.4 604.1,348.5 604.6,350.6 605.2,353.1 605.7,355.2 606.3,356.5 606.8,357.3 607.4,357.9 607.9,358.5 608.5,359.2 609.0,360.2 609.6,361.4 610.1,362.8 610.7,364.4 611.2,366.2 611.8,368.7 612.3,372.0 612.9,375.4 613.4,383.5 614.0,380.1 614.5,376.3 615.1,372.2 615.6,366.4 616.2,359.7 616.7,353.8 617.3,350.3 617.8,350.1 618.4,350.5 618.9,351.1 619.5,351.8 620.0,352.5 620.6,352.9 621.1,353.0 621.7,352.8 622.2,352.3 622.8,351.5 623.3,350.7 623.9,349.7 624.4,348.7 625.0,347.7 625.5,345.8 626.1,344.9 626.6,344.3 627.2,343.0 627.7,342.8 628.3,342.8 628.8,342.5 629.4,339.8 629.9,340.1 630.5,338.5 631.0,340.0 631.6,340.2 632.1,337.4 632.7,336.8 633.2,334.9 633.8,335.0 634.3,333.1 634.9,330.6 635.4,332.8 636.0,333.0 636.5,329.7 637.1,327.5 637.6,326.7 638.2,326.9 638.7,322.5 639.3,322.4 639.8,320.0 640.4,315.1 640.9,315.7 641.5,315.1 642.0,312.8 642.6,310.2 643.1,306.7 643.7,306.6 644.2,304.3 644.8,302.4 645.3,301.5 645.9,296.4 646.4,295.0 647.0,291.2 647.5,291.2 648.1,285.3 648.6,285.2 649.2,277.6 649.7,274.6 650.3,274.4 650.8,271.0 651.4,270.5 651.9,267.3 652.5,264.9 653.0,260.4 653.6,259.1 654.1,258.0 654.7,254.0 655.2,252.7 655.8,252.4 656.3,248.9 656.9,247.5 657.4,247.0 658.0,244.3 658.5,240.2 659.1,240.7 659.6,239.2 660.2,238.3 660.7,239.7 661.3,237.1 661.8,234.8 662.4,232.9 662.9,234.2 663.5,232.5 664.0,233.3 664.6,231.2 665.1,231.2 665.7,227.7 666.2,227.3 666.8,226.4 667.3,224.2 667.9,225.0 668.4,223.6 669.0,223.7 669.5,223.4 670.1,224.5 670.6,223.0 671.2,227.1" fill="none" stroke="#9467bd" stroke-opacity="0.95" stroke-width="1.4" stroke-linejoin="round"/>
<polyline points="38.7,387.2 39.2,387.2 39.8,387.5 40.3,386.9 40.9,386.6 41.4,387.3 42.0,386.4 42.5,386.6 43.1,385.4 43.6,386.1 44.2,386.3 44.7,386.5 45.3,386.4 45.8,386.5 46.4,385.7 46.9,385.7 47.5,386.0 48.0,385.4 48.6,385.6 49.1,385.7 49.7,384.7 50.2,384.8 50.8,385.7 51.3,385.1 51.9,385.8 52.4,385.1 53.0,384.8 53.5,385.6 54.1,385.1 54.6,385.4 55.2,384.9 55.7,384.8 56.3,385.0 56.8,384.7 57.4,385.0 57.9,384.5 58.5,385.1 59.0,385.3 59.6,385.1 60.1,384.3 60.7,385.5 61.2,384.0 61.8,384.9 62.3,384.8 62.9,385.1 63.4,384.4 64.0,384.5 64.5,385.2 65.1,385.2 65.6,384.1 66.2,384.5 66.7,384.2 67.3,383.3 67.8,385.1 68.4,384.2 68.9,384.5 69.5,384.6 70.0,383.8 70.6,384.8 71.1,384.1 71.7,383.7 72.2,384.5 72.8,384.4 73.3,384.0 73.9,384.2 74.4,385.1 75.0,384.6 75.5,384.2 76.1,384.0 76.6,385.0 77.2,383.9 77.7,383.2 78.3,384.7 78.8,383.8 79.4,383.0 79.9,383.3 80.5,383.3 81.0,382.9 81.6,383.6 82.1,383.6 82.7,384.6 83.2,383.8 83.8,383.5 84.3,383.7 84.9,383.8 85.4,384.1 86.0,384.2 86.5,382.6 87.1,382.8 87.6,383.5 88.2,384.3 88.7,383.1 89.3,383.8 89.8,383.0 90.4,382.9 90.9,383.0 91.5,383.7 92.0,382.7 92.6,382.9 93.1,382.9 93.7,383.1 94.2,382.6 94.8,382.9 95.3,383.1 95.9,382.6 96.4,381.9 97.0,381.9 97.5,381.9 98.1,381.5 98.6,381.0 99.2,380.8 99.7,380.6 100.3,379.6 100.8,381.4 101.4,379.9 101.9,378.8 102.5,378.2 103.0,378.7 103.6,376.9 104.1,376.5 104.7,376.9 105.2,375.8 105.8,375.6 106.3,374.7 106.9,374.0 107.4,373.0 108.0,372.9 108.5,372.0 109.1,371.3 109.6,370.2 110.2,370.1 110.7,368.6 111.3,367.8 111.8,365.8 112.4,365.1 112.9,363.8 113.5,362.5 114.0,361.1 114.6,359.6 115.1,358.2 115.7,356.8 116.2,355.3 116.8,354.0 117.3,352.7 117.9,351.3 118.4,350.0 119.0,348.7 119.5,347.4 120.1,346.0 120.6,344.7 121.2,343.4 121.7,342.1 122.3,340.7 122.8,339.4 123.4,338.1 123.9,336.8 124.5,335.4 125.0,334.1 125.6,332.8 126.1,331.5 126.7,330.1 127.2,328.8 127.8,327.5 128.3,326.1 128.9,324.8 129.4,323.5 130.0,322.2 130.5,320.9 131.1,319.5 131.6,318.2 132.2,316.9 132.7,315.6 133.3,314.3 133.8,313.0 134.4,311.7 134.9,310.4 135.5,309.1 136.0,307.8 136.6,306.5 137.1,305.2 137.7,303.9 138.2,302.7 138.8,301.4 139.3,300.1 139.9,298.8 140.4,297.5 141.0,296.2 141.5,294.9 142.1,293.6 142.6,292.3 143.2,290.9 143.7,289.6 144.3,288.3 144.8,286.9 145.4,285.5 145.9,284.2 146.5,282.8 147.0,281.4 147.6,280.0 148.1,278.6 148.7,277.2 149.2,275.8 149.8,274.4 150.3,273.0 150.9,271.6 151.4,270.3 152.0,269.0 152.5,267.7 153.1,266.5 153.6,265.3 154.2,264.2 154.7,263.3 155.3,262.7 155.8,262.1 156.4,261.5 156.9,261.1 157.5,260.7 158.0,260.5 158.6,260.4 159.1,260.5 159.7,260.8 160.2,261.1 160.8,261.6 161.3,262.0 161.9,262.4 162.4,262.8 163.0,263.3 163.5,263.7 164.1,264.2 164.6,264.7 165.2,265.2 165.7,265.7 166.3,266.2 166.8,266.6 167.4,267.0 167.9,267.4 168.5,267.8 169.0,268.2 169.6,268.6 170.1,269.1 170.7,269.7 171.2,270.3 171.8,270.9 172.3,271.6 172.9,272.3 173.4,273.0 174.0,273.8 174.5,274.6 175.1,275.5 175.6,276.4 176.2,277.4 176.7,278.5 177.3,279.6 177.8,280.7 178.4,281.8 178.9,282.9 179.5,284.0 180.0,285.1 180.6,286.1 181.1,287.2 181.7,288.3 182.2,289.5 182.8,290.7 183.3,292.0 183.9,293.3 184.4,294.8 185.0,296.3 185.5,298.0 186.1,299.7 186.6,301.4 187.2,303.1 187.7,304.8 188.3,306.4 188.8,308.2 189.4,309.9 189.9,311.6 190.5,313.2 191.0,314.8 191.6,316.3 192.1,317.6 192.7,318.9 193.2,320.2 193.8,321.4 194.3,322.6 194.9,323.8 195.4,324.9 196.0,326.0 196.5,327.1 197.1,328.2 197.6,329.2 198.2,330.2 198.7,331.2 199.3,332.2 199.8,333.1 200.4,334.0 200.9,334.9 201.5,335.7 202.0,336.5 202.6,337.4 203.1,338.1 203.7,338.9 204.2,339.7 204.8,340.4 205.3,341.1 205.9,341.8 206.4,342.5 207.0,343.1 207.5,343.8 208.1,344.4 208.6,345.1 209.2,345.7 209.7,346.3 210.3,346.9 210.8,347.4 211.4,348.0 211.9,348.6 212.5,349.1 213.0,349.6 213.6,350.1 214.1,350.6 214.7,351.2 215.2,351.7 215.8,352.3 216.3,352.8 216.9,353.2 217.4,353.4 218.0,353.4 218.5,353.4 219.1,353.4 219.6,353.4 220.2,353.4 220.7,353.4 221.3,353.4 221.8,353.4 222.4,353.1 222.9,352.3 223.5,351.3 224.0,350.3 224.6,349.3 225.1,348.5 225.7,347.6 226.2,346.6 226.8,345.7 227.3,344.8 227.9,343.8 228.4,342.8 229.0,341.7 229.5,340.7 230.1,339.6 230.6,338.6 231.2,337.7 231.7,336.9 232.3,336.1 232.8,335.3 233.4,334.6 233.9,333.9 234.5,333.4 235.0,333.0 235.6,332.6 236.1,332.3 236.7,332.0 237.2,331.8 237.8,331.6 238.3,331.4 238.9,331.4 239.4,331.6 240.0,332.0 240.5,332.6 241.1,333.1 241.6,333.6 242.2,334.2 242.7,334.9 243.3,335.6 243.8,336.4 244.4,337.4 244.9,338.6 245.5,339.8 246.0,341.1 246.6,342.5 247.1,343.9 247.7,345.3 248.2,346.7 248.8,347.9 249.3,349.0 249.9,350.0 250.4,350.9 251.0,351.8 251.5,352.7 252.1,353.7 252.6,354.7 253.2,355.8 253.7,356.8 254.3,357.8 254.8,358.6 255.4,359.3 255.9,359.8 256.5,360.3 257.0,360.8 257.6,361.1 258.1,361.5 258.7,361.8 259.2,362.1 259.8,362.4 260.3,362.7 260.9,363.0 261.4,363.2 262.0,363.5 262.5,363.7 263.1,363.9 263.6,364.1 264.2,364.3 264.7,364.5 265.3,364.7 265.8,364.9 266.4,365.1 266.9,365.3 267.5,365.5 268.0,365.7 268.6,365.9 269.1,366.0 269.7,366.2 270.2,366.4 270.8,366.6 271.3,366.7 271.9,366.9 272.4,367.1 273.0,367.2 273.5,367.4 274.1,367.5 274.6,367.7 275.2,367.8 275.7,368.0 276.3,368.1 276.8,368.3 277.4,368.4 277.9,368.5 278.5,368.6 279.0,368.8 279.6,368.9 280.1,369.0 280.7,369.1 281.2,369.2 281.8,369.3 282.3,369.4 282.9,369.5 283.4,369.6 284.0,369.7 284.5,369.8 285.1,369.9 285.6,370.0 286.2,370.0 286.7,370.1 287.3,370.2 287.8,370.3 288.4,370.4 288.9,370.5 289.5,370.5 290.0,370.6 290.6,370.7 291.1,370.8 291.7,370.8 292.2,370.9 292.8,371.0 293.3,371.0 293.9,371.1 294.4,371.2 295.0,371.2 295.5,371.3 296.1,371.4 296.6,371.4 297.2,371.5 297.7,371.6 298.3,371.6 298.8,371.7 299.4,371.7 299.9,371.8 300.5,371.1 301.0,370.8 301.6,372.5 302.1,372.5 302.7,371.3 303.2,372.0 303.8,372.3 304.3,372.0 304.9,372.7 305.4,372.2 306.0,371.8 306.5,372.4 307.1,372.9 307.6,372.2 308.2,373.2 308.7,373.4 309.3,373.2 309.8,373.3 310.4,373.0 310.9,373.4 311.5,372.8 312.0,372.0 312.6,372.9 313.1,374.1 313.7,374.0 314.2,372.9 314.8,373.4 315.3,373.2 315.9,373.1 316.4,373.6 317.0,374.3 317.5,373.9 318.1,373.8 318.6,372.9 319.2,375.3 319.7,373.6 320.3,374.3 320.8,374.8 321.4,374.5 321.9,374.9 322.5,373.3 323.0,374.2 323.6,374.4 324.1,374.1 324.7,374.1 325.2,375.5 325.8,374.5 326.3,375.9 326.9,375.9 327.4,375.3 328.0,374.9 328.5,375.4 329.1,375.5 329.6,375.6 330.2,375.7 330.7,376.2 331.3,376.2 331.8,376.4 332.4,376.5 332.9,377.3 333.5,377.8 334.0,376.9 334.6,376.9 335.1,377.0 335.7,377.7 336.2,377.6 336.8,377.4 337.3,377.3 337.9,377.8 338.4,378.1 339.0,377.4 339.5,377.9 340.1,376.7 340.6,377.4 341.2,378.1 341.7,377.0 342.3,377.1 342.8,378.1 343.4,376.9 343.9,377.8 344.5,379.2 345.0,378.3 345.6,379.1 346.1,379.0 346.7,377.8 347.2,378.1 347.8,378.5 348.3,378.9 348.9,379.1 349.4,378.8 350.0,378.6 350.5,377.9 351.1,379.0 351.6,378.2 352.2,379.0 352.7,379.2 353.3,377.8 353.8,379.6 354.4,378.5 354.9,379.2 355.5,379.1 356.0,379.6 356.6,379.2 357.1,379.5 357.7,379.1 358.2,378.1 358.8,378.4 359.3,378.8 359.9,378.8 360.4,378.2 361.0,377.6 361.5,377.1 362.1,377.6 362.6,379.0 363.2,377.1 363.7,376.7 364.3,377.1 364.8,376.9 365.4,376.4 365.9,375.0 366.5,375.6 367.0,375.4 367.6,376.0 368.1,375.2 368.7,375.3 369.2,374.7 369.8,375.0 370.3,376.5 370.9,375.9 371.4,375.8 372.0,375.4 372.5,375.5 373.1,377.1 373.6,376.9 374.2,377.6 374.7,377.9 375.3,378.2 375.8,377.2 376.4,379.4 376.9,380.2 377.5,379.6 378.0,379.7 378.6,380.1 379.1,379.9 379.7,379.0 380.2,379.8 380.8,380.0 381.3,380.5 381.9,379.3 382.4,379.6 383.0,379.8 383.5,379.9 384.1,380.6 384.6,379.9 385.2,379.8 385.7,378.7 386.3,380.1 386.8,378.2 387.4,379.8 387.9,379.5 388.5,379.0 389.0,378.3 389.6,379.1 390.1,378.5 390.7,379.4 391.2,377.1 391.8,378.7 392.3,377.2 392.9,378.7 393.4,378.5 394.0,379.1 394.5,378.0 395.1,378.1 395.6,377.5 396.2,378.4 396.7,378.8 397.3,378.6 397.8,378.2 398.4,378.6 398.9,379.1 399.5,379.0 400.0,377.8 400.6,378.6 401.1,378.4 401.7,377.4 402.2,379.3 402.8,379.2 403.3,378.5 403.9,379.4 404.4,379.3 405.0,379.0 405.5,379.5 406.1,379.3 406.6,379.1 407.2,380.4 407.7,379.6 408.3,382.2 408.8,382.1 409.4,382.3 409.9,383.1 410.5,382.6 411.0,383.0 411.6,384.5 412.1,383.8 412.7,383.6 413.2,383.7 413.8,384.4 414.3,384.5 414.9,384.0 415.4,384.9 416.0,384.3 416.5,384.4 417.1,384.9 417.6,384.2 418.2,383.8 418.7,384.6 419.3,385.3 419.8,384.7 420.4,385.4 420.9,385.6 421.5,384.9 422.0,385.1 422.6,385.1 423.1,385.6 423.7,385.5 424.2,385.4 424.8,386.1 425.3,385.6 425.9,385.6 426.4,385.1 427.0,385.6 427.5,386.4 428.1,386.1 428.6,385.7 429.2,385.6 429.7,385.2 430.3,385.3 430.8,386.3 431.4,385.9 431.9,386.0 432.5,386.8 433.0,386.0 433.6,386.0 434.1,387.1 434.7,386.8 435.2,385.6 435.8,386.5 436.3,386.1 436.9,386.2 437.4,386.3 438.0,385.5 438.5,385.9 439.1,387.2 439.6,386.0 440.2,386.0 440.7,385.9 441.3,385.8 441.8,385.6 442.4,385.5 442.9,385.3 443.5,385.1 444.0,385.0 444.6,384.8 445.1,384.5 445.7,384.2 446.2,383.9 446.8,383.5 447.3,383.1 447.9,382.7 448.4,382.3 449.0,381.8 449.5,381.4 450.1,380.9 450.6,380.5 451.2,380.0 451.7,379.5 452.3,378.9 452.8,378.3 453.4,377.7 453.9,377.1 454.5,376.4 455.0,375.7 455.6,374.9 456.1,374.1 456.7,373.2 457.2,372.2 457.8,371.0 458.3,369.5 458.9,367.7 459.4,365.5 460.0,363.1 460.5,360.6 461.1,357.9 461.6,355.2 462.2,351.7 462.7,347.6 463.3,343.5 463.8,340.0 464.4,337.6 464.9,336.7 465.5,336.3 466.0,335.9 466.6,335.6 467.1,335.4 467.7,335.1 468.2,334.9 468.8,334.7 469.3,334.4 469.9,334.2 470.4,334.1 471.0,333.9 471.5,333.7 472.1,333.5 472.6,333.2 473.2,332.9 473.7,332.6 474.3,332.3 474.8,332.1 475.4,332.0 475.9,332.4 476.5,334.1 477.0,337.0 477.6,340.3 478.1,343.6 478.7,346.5 479.2,349.2 479.8,352.1 480.3,354.9 480.9,357.5 481.4,359.5 482.0,361.1 482.5,362.4 483.1,363.5 483.6,364.5 484.2,365.5 484.7,366.5 485.3,367.7 485.8,368.8 486.4,369.4 486.9,368.7 487.5,366.3 488.0,362.9 488.6,359.3 489.1,354.6 489.7,348.7 490.2,342.6 490.8,336.2 491.3,328.2 491.9,320.8 492.4,318.3 493.0,322.0 493.5,326.1 494.1,329.1 494.6,331.0 495.2,331.2 495.7,331.2 496.3,331.0 496.8,330.5 497.4,329.7 497.9,327.4 498.5,323.3 499.0,318.5 499.6,314.0 500.1,310.8 500.7,308.8 501.2,307.0 501.8,305.7 502.3,305.3 502.9,305.7 503.4,307.1 504.0,309.5 504.5,311.7 505.1,312.5 505.6,311.2 506.2,307.2 506.7,300.7 507.3,294.7 507.8,290.5 508.4,289.5 508.9,291.6 509.5,295.4 510.0,299.7 510.6,303.5 511.1,306.7 511.7,309.8 512.2,312.2 512.8,313.9 513.3,314.8 513.9,314.2 514.4,311.6 515.0,308.0 515.5,304.8 516.1,301.1 516.6,297.3 517.2,294.6 517.7,294.3 518.3,295.9 518.8,298.1 519.4,300.2 519.9,301.9 520.5,304.1 521.0,306.0 521.6,307.1 522.1,307.6 522.7,307.7 523.2,307.7 523.8,307.6 524.3,307.5 524.9,307.0 525.4,306.3 526.0,305.7 526.5,305.5 527.1,306.1 527.6,307.8 528.2,310.4 528.7,313.4 529.3,316.5 529.8,319.1 530.4,321.2 530.9,322.1 531.5,320.5 532.0,316.4 532.6,310.6 533.1,304.7 533.7,300.0 534.2,294.5 534.8,288.7 535.3,284.2 535.9,282.1 536.4,281.9 537.0,283.5 537.5,286.1 538.1,289.0 538.6,292.0 539.2,295.1 539.7,298.3 540.3,300.7 540.8,302.3 541.4,303.3 541.9,304.0 542.5,304.8 543.0,306.1 543.6,308.7 544.1,312.6 544.7,317.5 545.2,322.4 545.8,326.5 546.3,329.9 546.9,333.1 547.4,336.2 548.0,339.5 548.5,343.2 549.1,348.0 549.6,353.1 550.2,357.6 550.7,360.5 551.3,360.6 551.8,358.4 552.4,354.6 552.9,349.5 553.5,343.7 554.0,336.1 554.6,322.6 555.1,306.7 555.7,292.4 556.2,283.5 556.8,281.1 557.3,279.6 557.9,279.1 558.4,278.8 559.0,278.5 559.5,278.3 560.1,278.1 560.6,278.2 561.2,278.1 561.7,277.6 562.3,276.6 562.8,275.2 563.4,271.2 563.9,255.7 564.5,234.9 565.0,216.5 565.6,207.6 566.1,203.3 566.7,200.0 567.2,196.0 567.8,189.7 568.3,181.9 568.9,173.7 569.4,166.4 570.0,161.0 570.5,156.8 571.1,152.4 571.6,146.5 572.2,136.5 572.7,114.7 573.3,97.6 573.8,84.2 574.4,74.0 574.9,69.8 575.5,68.4 576.0,66.4 576.6,46.3 577.1,29.4 577.7,25.7 578.2,23.0 578.8,21.2 579.3,20.5 579.9,22.2 580.4,27.2 581.0,33.6 581.5,41.9 582.1,53.8 582.6,65.6 583.2,74.0 583.7,80.0 584.3,87.5 584.8,102.2 585.4,109.5 585.9,114.8 586.5,122.0 587.0,136.0 587.6,155.9 588.1,177.5 588.7,197.0 589.2,216.4 589.8,235.1 590.3,251.0 590.9,263.9 591.4,275.3 592.0,286.3 592.5,297.3 593.1,307.8 593.6,317.4 594.2,325.6 594.7,332.5 595.3,339.0 595.8,344.5 596.4,347.8 596.9,349.3 597.5,350.5 598.0,351.5 598.6,352.4 599.1,353.0 599.7,353.4 600.2,353.4 600.8,352.8 601.3,351.7 601.9,350.3 602.4,348.9 603.0,347.8 603.5,347.4 604.1,348.5 604.6,350.6 605.2,353.1 605.7,355.2 606.3,356.5 606.8,357.3 607.4,357.9 607.9,358.5 608.5,359.2 609.0,360.2 609.6,361.4 610.1,362.8 610.7,364.4 611.2,366.2 611.8,368.7 612.3,372.0 612.9,375.4 613.4,384.0 614.0,381.1 614.5,377.9 615.1,374.3 615.6,369.1 616.2,363.0 616.7,357.5 617.3,354.3 617.8,354.1 618.4,354.5 618.9,355.1 619.5,355.8 620.0,356.5 620.6,356.9 621.1,357.0 621.7,356.8 622.2,356.4 622.8,355.8 623.3,355.0 623.9,354.2 624.4,353.3 625.0,352.4 625.5,351.6 626.1,350.9 626.6,350.2 627.2,349.5 627.7,348.8 628.3,348.1 628.8,347.5 629.4,346.8 629.9,346.1 630.5,345.4 631.0,344.7 631.6,343.9 632.1,343.2 632.7,342.4 633.2,341.6 633.8,340.8 634.3,339.9 634.9,339.0 635.4,338.0 636.0,337.0 636.5,335.9 637.1,334.8 637.6,333.6 638.2,332.4 638.7,331.1 639.3,329.7 639.8,328.3 640.4,326.4 640.9,326.3 641.5,324.0 642.0,321.3 642.6,320.1 643.1,317.5 643.7,316.4 644.2,313.2 644.8,312.2 645.3,309.3 645.9,306.4 646.4,303.1 647.0,300.0 647.5,296.1 648.1,293.3 648.6,290.3 649.2,286.9 649.7,282.9 650.3,280.7 650.8,276.5 651.4,273.6 651.9,270.3 652.5,267.2 653.0,264.3 653.6,261.5 654.1,258.6 654.7,255.2 655.2,251.5 655.8,249.5 656.3,246.8 656.9,243.0 657.4,239.9 658.0,237.8 658.5,236.4 659.1,232.5 659.6,230.1 660.2,228.4 660.7,225.2 661.3,223.3 661.8,222.2 662.4,221.1 662.9,218.8 663.5,217.1 664.0,215.1 664.6,215.8 665.1,212.9 665.7,213.2 666.2,210.7 666.8,210.7 667.3,210.0 667.9,207.8 668.4,208.4 669.0,208.5 669.5,209.1 670.1,208.7 670.6,210.5 671.2,210.8" fill="none" stroke="#8c564b" stroke-opacity="0.95" stroke-width="1.4" stroke-linejoin="round"/>
<polyline points="38.7,377.3 39.2,379.5 39.8,379.7 40.3,377.9 40.9,377.6 41.4,378.5 42.0,379.4 42.5,375.7 43.1,378.3 43.6,379.3 44.2,375.7 44.7,377.2 45.3,376.4 45.8,376.6 46.4,377.6 46.9,374.0 47.5,375.1 48.0,373.9 48.6,375.0 49.1,377.5 49.7,373.8 50.2,374.4 50.8,374.1 51.3,375.1 51.9,374.1 52.4,373.4 53.0,373.3 53.5,373.9 54.1,372.5 54.6,370.9 55.2,375.1 55.7,373.7 56.3,372.7 56.8,373.1 57.4,374.0 57.9,372.0 58.5,372.9 59.0,372.1 59.6,374.1 60.1,369.5 60.7,370.6 61.2,373.9 61.8,370.6 62.3,370.9 62.9,370.3 63.4,368.8 64.0,371.3 64.5,372.1 65.1,371.5 65.6,369.5 66.2,370.2 66.7,372.7 67.3,370.3 67.8,369.2 68.4,371.3 68.9,369.7 69.5,367.6 70.0,368.7 70.6,370.7 71.1,369.2 71.7,369.2 72.2,369.9 72.8,368.1 73.3,367.0 73.9,368.7 74.4,367.8 75.0,368.4 75.5,367.4 76.1,367.2 76.6,366.3 77.2,368.2 77.7,370.0 78.3,366.0 78.8,368.8 79.4,368.0 79.9,366.3 80.5,365.7 81.0,367.4 81.6,366.2 82.1,366.1 82.7,365.7 83.2,368.5 83.8,364.1 84.3,366.4 84.9,368.0 85.4,365.8 86.0,368.0 86.5,365.3 87.1,365.3 87.6,365.9 88.2,364.0 88.7,364.7 89.3,365.2 89.8,363.5 90.4,364.7 90.9,365.3 91.5,362.4 92.0,363.4 92.6,363.8 93.1,362.2 93.7,364.0 94.2,364.0 94.8,361.5 95.3,362.1 95.9,360.6 96.4,360.8 97.0,361.0 97.5,359.8 98.1,359.7 98.6,358.4 99.2,359.9 99.7,358.9 100.3,356.3 100.8,357.1 101.4,358.9 101.9,354.5 102.5,356.1 103.0,357.2 103.6,353.2 104.1,354.1 104.7,350.0 105.2,354.0 105.8,352.6 106.3,352.4 106.9,351.0 107.4,351.3 108.0,350.5 108.5,348.5 109.1,345.5 109.6,343.8 110.2,342.6 110.7,341.1 111.3,339.2 111.8,337.6 112.4,338.0 112.9,337.0 113.5,336.1 114.0,335.1 114.6,334.2 115.1,333.2 115.7,332.3 116.2,331.3 116.8,330.4 117.3,329.6 117.9,328.7 118.4,327.9 119.0,327.0 119.5,326.1 120.1,325.1 120.6,324.0 121.2,322.9 121.7,321.7 122.3,320.4 122.8,319.1 123.4,317.8 123.9,316.4 124.5,315.0 125.0,313.6 125.6,312.2 126.1,310.8 126.7,309.4 127.2,307.9 127.8,306.4 128.3,304.9 128.9,303.4 129.4,301.8 130.0,300.3 130.5,298.7 131.1,297.1 131.6,295.5 132.2,293.9 132.7,292.2 133.3,290.6 133.8,288.9 134.4,287.2 134.9,285.5 135.5,283.8 136.0,282.1 136.6,280.4 137.1,278.7 137.7,277.0 138.2,275.3 138.8,273.6 139.3,272.0 139.9,270.3 140.4,268.6 141.0,267.0 141.5,265.3 142.1,263.6 142.6,262.0 143.2,260.3 143.7,258.6 144.3,256.9 144.8,255.3 145.4,253.6 145.9,251.9 146.5,250.3 147.0,248.6 147.6,247.0 148.1,245.4 148.7,243.8 149.2,242.2 149.8,240.6 150.3,239.0 150.9,237.4 151.4,235.9 152.0,234.3 152.5,232.8 153.1,231.4 153.6,229.9 154.2,228.5 154.7,226.9 155.3,225.2 155.8,223.4 156.4,221.8 156.9,220.4 157.5,219.4 158.0,218.9 158.6,218.8 159.1,219.0 159.7,219.2 160.2,219.6 160.8,219.9 161.3,220.3 161.9,220.7 162.4,221.1 163.0,221.5 163.5,222.0 164.1,222.4 164.6,223.0 165.2,223.5 165.7,224.1 166.3,224.7 166.8,225.4 167.4,226.1 167.9,226.9 168.5,227.6 169.0,228.4 169.6,229.2 170.1,230.0 170.7,230.8 171.2,231.6 171.8,232.4 172.3,233.3 172.9,234.1 173.4,235.1 174.0,236.1 174.5,237.3 175.1,238.4 175.6,239.7 176.2,241.0 176.7,242.3 177.3,243.7 177.8,245.0 178.4,246.4 178.9,247.7 179.5,249.0 180.0,250.2 180.6,251.5 181.1,252.7 181.7,254.0 182.2,255.3 182.8,256.5 183.3,257.8 183.9,259.0 184.4,260.3 185.0,261.5 185.5,262.7 186.1,263.9 186.6,265.1 187.2,266.3 187.7,267.4 188.3,268.6 188.8,269.7 189.4,270.8 189.9,272.0 190.5,273.1 191.0,274.2 191.6,275.3 192.1,276.3 192.7,277.4 193.2,278.5 193.8,279.5 194.3,280.6 194.9,281.6 195.4,282.6 196.0,283.7 196.5,284.7 197.1,285.7 197.6,286.8 198.2,287.8 198.7,288.8 199.3,289.8 199.8,290.8 200.4,291.7 200.9,292.6 201.5,293.5 202.0,294.3 202.6,295.1 203.1,295.9 203.7,296.7 204.2,297.4 204.8,298.2 205.3,298.9 205.9,299.6 206.4,300.3 207.0,300.9 207.5,301.6 208.1,302.2 208.6,302.8 209.2,303.4 209.7,304.0 210.3,304.5 210.8,305.1 211.4,305.6 211.9,306.2 212.5,306.7 213.0,307.2 213.6,307.6 214.1,308.0 214.7,308.4 215.2,308.6 215.8,308.9 216.3,309.1 216.9,309.2 217.4,309.4 218.0,309.5 218.5,309.5 219.1,309.5 219.6,309.5 220.2,309.4 220.7,309.4 221.3,309.3 221.8,309.3 222.4,309.2 222.9,308.7 223.5,307.7 224.0,306.4 224.6,304.9 225.1,303.7 225.7,302.5 226.2,301.2 226.8,299.9 227.3,298.6 227.9,297.2 228.4,295.7 229.0,294.2 229.5,292.5 230.1,290.6 230.6,288.7 231.2,286.9 231.7,285.3 232.3,283.5 232.8,281.6 233.4,280.0 233.9,278.8 234.5,278.2 235.0,278.3 235.6,278.5 236.1,278.8 236.7,279.1 237.2,279.5 237.8,279.9 238.3,280.3 238.9,280.7 239.4,281.1 240.0,281.5 240.5,281.9 241.1,282.3 241.6,282.7 242.2,283.2 242.7,283.7 243.3,284.2 243.8,284.7 244.4,285.3 244.9,285.8 245.5,286.4 246.0,287.0 246.6,287.6 247.1,288.1 247.7,288.7 248.2,289.3 248.8,290.1 249.3,291.3 249.9,292.7 250.4,294.1 251.0,294.9 251.5,298.4 252.1,298.3 252.6,300.8 253.2,302.4 253.7,305.5 254.3,305.0 254.8,307.9 255.4,308.4 255.9,307.0 256.5,308.6 257.0,309.7 257.6,310.0 258.1,311.3 258.7,311.9 259.2,312.6 259.8,311.8 260.3,312.9 260.9,312.7 261.4,313.5 262.0,313.4 262.5,313.6 263.1,313.7 263.6,314.5 264.2,314.4 264.7,313.9 265.3,313.4 265.8,315.7 266.4,315.7 266.9,315.4 267.5,316.4 268.0,315.8 268.6,315.9 269.1,315.9 269.7,317.3 270.2,317.8 270.8,316.7 271.3,316.6 271.9,317.9 272.4,318.0 273.0,318.0 273.5,316.8 274.1,318.1 274.6,318.2 275.2,318.1 275.7,318.7 276.3,318.5 276.8,319.0 277.4,318.9 277.9,318.9 278.5,320.4 279.0,319.4 279.6,320.0 280.1,320.4 280.7,319.3 281.2,320.0 281.8,319.7 282.3,320.3 282.9,319.8 283.4,321.3 284.0,320.9 284.5,320.3 285.1,321.6 285.6,320.8 286.2,320.6 286.7,322.1 287.3,322.0 287.8,321.6 288.4,322.8 288.9,322.8 289.5,322.8 290.0,323.5 290.6,323.2 291.1,324.0 291.7,323.6 292.2,323.8 292.8,321.9 293.3,323.7 293.9,325.4 294.4,324.0 295.0,324.5 295.5,324.5 296.1,323.8 296.6,325.6 297.2,326.6 297.7,326.7 298.3,325.6 298.8,325.4 299.4,325.8 299.9,326.7 300.5,326.3 301.0,327.3 301.6,327.1 302.1,326.3 302.7,326.6 303.2,328.1 303.8,328.3 304.3,327.9 304.9,329.0 305.4,328.2 306.0,328.2 306.5,328.6 307.1,329.1 307.6,327.4 308.2,329.2 308.7,329.4 309.3,328.9 309.8,329.0 310.4,330.6 310.9,329.6 311.5,329.8 312.0,330.8 312.6,329.5 313.1,332.1 313.7,330.2 314.2,330.4 314.8,330.0 315.3,330.7 315.9,330.6 316.4,331.1 317.0,330.8 317.5,330.1 318.1,332.6 318.6,332.5 319.2,332.6 319.7,332.7 320.3,332.9 320.8,332.2 321.4,334.7 321.9,332.6 322.5,332.4 323.0,334.7 323.6,333.3 324.1,333.7 324.7,333.2 325.2,333.9 325.8,334.6 326.3,334.7 326.9,333.9 327.4,335.4 328.0,334.5 328.5,334.2 329.1,336.1 329.6,335.9 330.2,335.7 330.7,335.6 331.3,336.8 331.8,336.3 332.4,336.2 332.9,337.2 333.5,337.3 334.0,336.5 334.6,338.3 335.1,336.5 335.7,337.3 336.2,338.3 336.8,338.1 337.3,338.9 337.9,339.0 338.4,337.2 339.0,339.8 339.5,338.7 340.1,339.2 340.6,338.9 341.2,338.8 341.7,340.1 342.3,340.2 342.8,340.1 343.4,339.7 343.9,341.3 344.5,340.6 345.0,340.9 345.6,340.7 346.1,341.0 346.7,341.6 347.2,341.7 347.8,341.9 348.3,341.3 348.9,341.5 349.4,340.7 350.0,341.5 350.5,341.4 351.1,341.3 351.6,342.0 352.2,342.2 352.7,341.8 353.3,341.3 353.8,342.4 354.4,342.7 354.9,343.1 355.5,342.4 356.0,342.3 356.6,342.1 357.1,343.5 357.7,343.3 358.2,344.3 358.8,343.1 359.3,345.2 359.9,344.4 360.4,344.7 361.0,345.2 361.5,345.9 362.1,346.2 362.6,344.7 363.2,345.9 363.7,346.8 364.3,347.2 364.8,347.3 365.4,346.8 365.9,348.0 366.5,347.8 367.0,348.2 367.6,349.2 368.1,348.6 368.7,349.1 369.2,350.0 369.8,349.8 370.3,348.5 370.9,348.7 371.4,348.2 372.0,350.3 372.5,349.6 373.1,349.4 373.6,349.8 374.2,349.2 374.7,350.4 375.3,349.5 375.8,350.8 376.4,350.4 376.9,350.3 377.5,350.7 378.0,350.3 378.6,350.5 379.1,351.4 379.7,351.8 380.2,351.2 380.8,351.8 381.3,350.0 381.9,351.3 382.4,351.3 383.0,351.1 383.5,351.9 384.1,353.0 384.6,352.2 385.2,352.8 385.7,353.2 386.3,353.3 386.8,352.7 387.4,352.4 387.9,353.8 388.5,353.8 389.0,353.1 389.6,354.7 390.1,353.3 390.7,353.3 391.2,354.3 391.8,353.7 392.3,354.7 392.9,355.0 393.4,355.0 394.0,355.7 394.5,355.2 395.1,354.8 395.6,357.2 396.2,357.7 396.7,358.0 397.3,357.6 397.8,358.5 398.4,358.4 398.9,359.8 399.5,358.7 400.0,360.1 400.6,360.0 401.1,361.1 401.7,361.1 402.2,360.2 402.8,361.5 403.3,361.4 403.9,362.7 404.4,363.3 405.0,362.2 405.5,363.6 406.1,363.0 406.6,363.6 407.2,364.3 407.7,365.3 408.3,365.1 408.8,365.5 409.4,365.0 409.9,365.5 410.5,366.3 411.0,366.3 411.6,366.5 412.1,366.9 412.7,368.0 413.2,368.1 413.8,368.3 414.3,367.9 414.9,367.4 415.4,367.3 416.0,368.4 416.5,367.9 417.1,367.4 417.6,368.7 418.2,370.5 418.7,369.3 419.3,369.5 419.8,369.6 420.4,369.9 420.9,369.1 421.5,370.3 422.0,370.8 422.6,370.7 423.1,370.9 423.7,370.9 424.2,371.5 424.8,370.5 425.3,370.1 425.9,371.3 426.4,371.8 427.0,372.4 427.5,371.7 428.1,372.6 428.6,372.6 429.2,373.4 429.7,372.8 430.3,373.7 430.8,374.0 431.4,373.6 431.9,373.9 432.5,373.9 433.0,374.0 433.6,374.3 434.1,374.2 434.7,375.6 435.2,375.6 435.8,375.5 436.3,375.8 436.9,376.0 437.4,377.2 438.0,377.1 438.5,376.5 439.1,377.4 439.6,376.0 440.2,377.2 440.7,377.2 441.3,377.3 441.8,377.3 442.4,377.4 442.9,377.4 443.5,377.3 444.0,376.6 444.6,375.1 445.1,373.2 445.7,371.0 446.2,368.8 446.8,366.9 447.3,364.9 447.9,362.4 448.4,360.1 449.0,358.0 449.5,356.8 450.1,356.5 450.6,356.9 451.2,357.6 451.7,358.5 452.3,359.5 452.8,360.5 453.4,361.7 453.9,363.0 454.5,364.4 455.0,365.5 455.6,366.6 456.1,367.7 456.7,368.6 457.2,369.3 457.8,369.6 458.3,369.2 458.9,368.2 459.4,366.7 460.0,364.9 460.5,363.1 461.1,361.3 461.6,359.5 462.2,357.4 462.7,354.9 463.3,352.0 463.8,348.3 464.4,341.7 464.9,339.3 465.5,338.7 466.0,338.4 466.6,338.2 467.1,338.7 467.7,339.9 468.2,341.2 468.8,341.7 469.3,341.4 469.9,341.0 470.4,340.4 471.0,339.9 471.5,339.7 472.1,339.8 472.6,340.3 473.2,340.8 473.7,341.3 474.3,341.6 474.8,341.6 475.4,340.9 475.9,340.0 476.5,339.5 477.0,340.4 477.6,343.4 478.1,347.7 478.7,352.5 479.2,357.1 479.8,360.7 480.3,364.1 480.9,367.3 481.4,370.4 482.0,373.2 482.5,375.5 483.1,377.6 483.6,379.7 484.2,381.6 484.7,383.0 485.3,383.7 485.8,383.5 486.4,381.9 486.9,379.6 487.5,377.3 488.0,375.4 488.6,373.4 489.1,370.4 489.7,363.1 490.2,347.7 490.8,339.7 491.3,333.4 491.9,329.9 492.4,330.5 493.0,334.4 493.5,338.3 494.1,341.7 494.6,344.2 495.2,345.2 495.7,345.9 496.3,346.5 496.8,346.9 497.4,347.0 497.9,345.8 498.5,342.7 499.0,339.0 499.6,335.6 500.1,333.5 500.7,332.3 501.2,331.2 501.8,330.3 502.3,329.8 502.9,329.6 503.4,330.6 504.0,332.4 504.5,334.4 505.1,335.9 505.6,336.2 506.2,333.6 506.7,329.1 507.3,324.4 507.8,320.9 508.4,320.4 508.9,323.0 509.5,327.4 510.0,332.3 510.6,336.5 511.1,339.2 511.7,341.9 512.2,344.2 512.8,346.0 513.3,347.0 513.9,346.2 514.4,342.9 515.0,338.7 515.5,334.7 516.1,330.2 516.6,325.5 517.2,322.2 517.7,321.8 518.3,323.6 518.8,326.2 519.4,328.7 519.9,330.6 520.5,332.7 521.0,334.3 521.6,335.0 522.1,334.8 522.7,334.3 523.2,333.6 523.8,332.9 524.3,332.1 524.9,330.9 525.4,329.4 526.0,328.0 526.5,327.1 527.1,327.0 527.6,328.3 528.2,330.6 528.7,333.5 529.3,336.5 529.8,339.2 530.4,341.1 530.9,341.7 531.5,339.7 532.0,335.1 532.6,329.2 533.1,323.3 533.7,318.2 534.2,312.4 534.8,306.2 535.3,300.7 535.9,297.0 536.4,296.2 537.0,297.2 537.5,299.2 538.1,301.3 538.6,303.2 539.2,305.4 539.7,307.6 540.3,309.5 540.8,310.9 541.4,312.1 541.9,313.2 542.5,314.6 543.0,316.4 543.6,319.5 544.1,323.8 544.7,328.6 545.2,333.2 545.8,336.9 546.3,339.8 546.9,342.5 547.4,345.0 548.0,347.6 548.5,350.6 549.1,354.6 549.6,359.1 550.2,363.1 550.7,365.5 551.3,365.5 551.8,363.3 552.4,359.6 552.9,354.7 553.5,349.1 554.0,341.6 554.6,328.1 555.1,312.2 555.7,297.7 556.2,288.9 556.8,286.8 557.3,285.6 557.9,285.4 558.4,285.4 559.0,285.4 559.5,285.4 560.1,285.4 560.6,285.4 561.2,284.9 561.7,284.0 562.3,282.7 562.8,280.9 563.4,276.3 563.9,259.8 564.5,237.7 565.0,218.2 565.6,208.8 566.1,204.3 566.7,200.8 567.2,196.5 567.8,190.0 568.3,181.7 568.9,173.2 569.4,165.6 570.0,160.0 570.5,155.7 571.1,151.2 571.6,145.2 572.2,135.0 572.7,112.4 573.3,94.8 573.8,81.3 574.4,71.1 574.9,67.2 575.5,66.4 576.0,64.9 576.6,44.6 577.1,27.7 577.7,24.6 578.2,22.4 578.8,21.0 579.3,20.5 579.9,22.3 580.4,27.3 581.0,33.8 581.5,42.2 582.1,54.1 582.6,65.8 583.2,73.8 583.7,79.2 584.3,86.2 584.8,100.9 585.4,108.0 585.9,112.9 586.5,120.0 587.0,134.3 587.6,154.8 588.1,177.1 588.7,196.9 589.2,216.6 589.8,235.4 590.3,251.3 590.9,264.0 591.4,275.1 592.0,285.9 592.5,296.9 593.1,307.4 593.6,317.1 594.2,325.4 594.7,332.3 595.3,338.9 595.8,344.4 596.4,347.7 596.9,349.0 597.5,350.1 598.0,351.0 598.6,351.7 599.1,352.2 599.7,352.5 600.2,352.4 600.8,351.7 601.3,350.4 601.9,348.9 602.4,347.6 603.0,346.5 603.5,346.2 604.1,347.2 604.6,349.3 605.2,351.8 605.7,354.1 606.3,355.4 606.8,356.2 607.4,356.8 607.9,357.4 608.5,358.2 609.0,359.2 609.6,360.4 610.1,361.9 610.7,363.5 611.2,365.3 611.8,367.8 612.3,371.3 612.9,374.9 613.4,377.8 614.0,379.4 614.5,379.9 615.1,380.3 615.6,380.5 616.2,379.4 616.7,376.4 617.3,372.8 617.8,369.9 618.4,369.0 618.9,369.0 619.5,369.1 620.0,369.2 620.6,369.4 621.1,369.6 621.7,370.7 622.2,371.9 622.8,372.4 623.3,371.5 623.9,369.7 624.4,367.7 625.0,366.0 625.5,365.2 626.1,364.7 626.6,364.3 627.2,363.9 627.7,363.6 628.3,363.3 628.8,363.0 629.4,362.6 629.9,362.1 630.5,361.3 631.0,360.3 631.6,359.1 632.1,357.7 632.7,356.2 633.2,354.6 633.8,353.0 634.3,351.3 634.9,349.7 635.4,348.2 636.0,346.8 636.5,345.5 637.1,344.4 637.6,343.3 638.2,342.3 638.7,341.2 639.3,340.0 639.8,338.6 640.4,336.4 640.9,336.0 641.5,332.1 642.0,327.6 642.6,321.0 643.1,314.1 643.7,309.2 644.2,304.8 644.8,302.3 645.3,300.7 645.9,299.3 646.4,297.9 647.0,294.9 647.5,293.3 648.1,291.5 648.6,289.0 649.2,287.0 649.7,284.2 650.3,280.9 650.8,279.7 651.4,275.1 651.9,272.0 652.5,266.8 653.0,262.4 653.6,259.3 654.1,255.8 654.7,255.1 655.2,254.2 655.8,253.6 656.3,254.2 656.9,253.4 657.4,252.4 658.0,252.6 658.5,251.9 659.1,250.7 659.6,249.0 660.2,247.4 660.7,246.6 661.3,242.9 661.8,240.5 662.4,237.5 662.9,232.4 663.5,230.9 664.0,228.3 664.6,232.3 665.1,236.3 665.7,241.0 666.2,243.5 666.8,245.4 667.3,247.7 667.9,252.1 668.4,252.8 669.0,254.4 669.5,254.9 670.1,256.1 670.6,257.5 671.2,257.5" fill="none" stroke="#000" stroke-width="2.0" stroke-linejoin="round"/>
</g>
<rect x="38.7" y="1.3" width="636.70" height="393.90" fill="none" stroke="#222" stroke-width="0.9"/>
<line x1="35.10" y1="388.00" x2="38.7" y2="388.00" stroke="#222" stroke-width="0.9"/>
<text x="32.2" y="392.10" font-size="9.6" text-anchor="end" textLength="15.2" lengthAdjust="spacingAndGlyphs" fill="#262626">0.0</text>
<line x1="35.10" y1="314.32" x2="38.7" y2="314.32" stroke="#222" stroke-width="0.9"/>
<text x="32.2" y="318.42" font-size="9.6" text-anchor="end" textLength="15.2" lengthAdjust="spacingAndGlyphs" fill="#262626">0.2</text>
<line x1="35.10" y1="240.64" x2="38.7" y2="240.64" stroke="#222" stroke-width="0.9"/>
<text x="32.2" y="244.74" font-size="9.6" text-anchor="end" textLength="15.2" lengthAdjust="spacingAndGlyphs" fill="#262626">0.4</text>
<line x1="35.10" y1="166.96" x2="38.7" y2="166.96" stroke="#222" stroke-width="0.9"/>
<text x="32.2" y="171.06" font-size="9.6" text-anchor="end" textLength="15.2" lengthAdjust="spacingAndGlyphs" fill="#262626">0.6</text>
<line x1="35.10" y1="93.28" x2="38.7" y2="93.28" stroke="#222" stroke-width="0.9"/>
<text x="32.2" y="97.38" font-size="9.6" text-anchor="end" textLength="15.2" lengthAdjust="spacingAndGlyphs" fill="#262626">0.8</text>
<line x1="35.10" y1="19.60" x2="38.7" y2="19.60" stroke="#222" stroke-width="0.9"/>
<text x="32.2" y="23.70" font-size="9.6" text-anchor="end" textLength="15.2" lengthAdjust="spacingAndGlyphs" fill="#262626">1.0</text>
<line x1="38.70" y1="395.2" x2="38.70" y2="398.80" stroke="#222" stroke-width="0.9"/>
<text x="38.70" y="409.4" font-size="9.8" text-anchor="middle" textLength="23.3" lengthAdjust="spacingAndGlyphs" fill="#262626">4000</text>
<line x1="129.66" y1="395.2" x2="129.66" y2="398.80" stroke="#222" stroke-width="0.9"/>
<text x="129.66" y="409.4" font-size="9.8" text-anchor="middle" textLength="23.3" lengthAdjust="spacingAndGlyphs" fill="#262626">3500</text>
<line x1="220.61" y1="395.2" x2="220.61" y2="398.80" stroke="#222" stroke-width="0.9"/>
<text x="220.61" y="409.4" font-size="9.8" text-anchor="middle" textLength="23.3" lengthAdjust="spacingAndGlyphs" fill="#262626">3000</text>
<line x1="311.57" y1="395.2" x2="311.57" y2="398.80" stroke="#222" stroke-width="0.9"/>
<text x="311.57" y="409.4" font-size="9.8" text-anchor="middle" textLength="23.3" lengthAdjust="spacingAndGlyphs" fill="#262626">2500</text>
<line x1="402.53" y1="395.2" x2="402.53" y2="398.80" stroke="#222" stroke-width="0.9"/>
<text x="402.53" y="409.4" font-size="9.8" text-anchor="middle" textLength="23.3" lengthAdjust="spacingAndGlyphs" fill="#262626">2000</text>
<line x1="493.49" y1="395.2" x2="493.49" y2="398.80" stroke="#222" stroke-width="0.9"/>
<text x="493.49" y="409.4" font-size="9.8" text-anchor="middle" textLength="23.3" lengthAdjust="spacingAndGlyphs" fill="#262626">1500</text>
<line x1="584.44" y1="395.2" x2="584.44" y2="398.80" stroke="#222" stroke-width="0.9"/>
<text x="584.44" y="409.4" font-size="9.8" text-anchor="middle" textLength="23.3" lengthAdjust="spacingAndGlyphs" fill="#262626">1000</text>
<line x1="675.40" y1="395.2" x2="675.40" y2="398.80" stroke="#222" stroke-width="0.9"/>
<text x="675.40" y="409.4" font-size="9.8" text-anchor="middle" textLength="17.5" lengthAdjust="spacingAndGlyphs" fill="#262626">500</text>
<text x="151.49" y="9.8" font-size="7.7" text-anchor="middle" textLength="17.2" lengthAdjust="spacingAndGlyphs" fill="#1a1a1a">3380</text>
<text x="233.35" y="9.8" font-size="7.7" text-anchor="middle" textLength="17.2" lengthAdjust="spacingAndGlyphs" fill="#1a1a1a">2930</text>
<text x="451.65" y="9.8" font-size="7.7" text-anchor="middle" textLength="17.2" lengthAdjust="spacingAndGlyphs" fill="#1a1a1a">1730</text>
<text x="475.29" y="9.8" font-size="7.7" text-anchor="middle" textLength="17.2" lengthAdjust="spacingAndGlyphs" fill="#1a1a1a">1600</text>
<text x="502.58" y="9.8" font-size="7.7" text-anchor="middle" textLength="17.2" lengthAdjust="spacingAndGlyphs" fill="#1a1a1a">1450</text>
<text x="517.13" y="9.8" font-size="7.7" text-anchor="middle" textLength="17.2" lengthAdjust="spacingAndGlyphs" fill="#1a1a1a">1370</text>
<text x="537.15" y="9.8" font-size="7.7" text-anchor="middle" textLength="17.2" lengthAdjust="spacingAndGlyphs" fill="#1a1a1a">1260</text>
<text x="575.35" y="9.8" font-size="7.7" text-anchor="middle" textLength="17.2" lengthAdjust="spacingAndGlyphs" fill="#1a1a1a">1050</text>
<text x="603.18" y="9.8" font-size="7.7" text-anchor="middle" textLength="12.9" lengthAdjust="spacingAndGlyphs" fill="#1a1a1a">897</text>
<text x="491.67" y="24.3" font-size="7.7" text-anchor="middle" textLength="17.2" lengthAdjust="spacingAndGlyphs" fill="#1a1a1a">1510</text>
<text x="508.04" y="24.3" font-size="7.7" text-anchor="middle" textLength="17.2" lengthAdjust="spacingAndGlyphs" fill="#1a1a1a">1420</text>
<text x="526.23" y="24.3" font-size="7.7" text-anchor="middle" textLength="17.2" lengthAdjust="spacingAndGlyphs" fill="#1a1a1a">1320</text>
<text x="555.34" y="24.3" font-size="7.7" text-anchor="middle" textLength="17.2" lengthAdjust="spacingAndGlyphs" fill="#1a1a1a">1160</text>
<text x="357.2" y="426.4" font-size="12" text-anchor="middle" fill="#1a1a1a" textLength="128.5" lengthAdjust="spacingAndGlyphs">Wavenumber (cm<tspan font-size="9.4" dy="-4.6">−1</tspan><tspan dy="4.6">)</tspan></text>
<text transform="translate(10.9,199) rotate(-90)" x="0" y="0" font-size="12" text-anchor="middle" fill="#1a1a1a" textLength="145.4" lengthAdjust="spacingAndGlyphs">Normalized absorbance</text>
<rect x="45.1" y="6.8" width="95.0" height="45.9" rx="1.6" fill="#ffffff" fill-opacity="0.8" stroke="#d8d8d8" stroke-width="0.8"/>
<line x1="46.0" y1="10.9" x2="54.4" y2="10.9" stroke="#1f77b4" stroke-opacity="0.85" stroke-width="1.5"/>
<text x="59.2" y="13.80" font-size="6.8" fill="#1a1a1a" textLength="3.9" lengthAdjust="spacingAndGlyphs">1</text>
<line x1="46.0" y1="18.5" x2="54.4" y2="18.5" stroke="#ff7f0e" stroke-opacity="0.85" stroke-width="1.5"/>
<text x="59.2" y="21.40" font-size="6.8" fill="#1a1a1a" textLength="3.9" lengthAdjust="spacingAndGlyphs">2</text>
<line x1="46.0" y1="26.1" x2="54.4" y2="26.1" stroke="#2ca02c" stroke-opacity="0.85" stroke-width="1.5"/>
<text x="59.2" y="29.00" font-size="6.8" fill="#1a1a1a" textLength="3.9" lengthAdjust="spacingAndGlyphs">3</text>
<line x1="46.0" y1="33.7" x2="54.4" y2="33.7" stroke="#d62728" stroke-opacity="0.85" stroke-width="1.5"/>
<text x="59.2" y="36.60" font-size="6.8" fill="#1a1a1a" textLength="3.9" lengthAdjust="spacingAndGlyphs">4</text>
<line x1="46.0" y1="41.3" x2="54.4" y2="41.3" stroke="#9467bd" stroke-opacity="0.85" stroke-width="1.5"/>
<text x="59.2" y="44.20" font-size="6.8" fill="#1a1a1a" textLength="3.9" lengthAdjust="spacingAndGlyphs">5</text>
<line x1="46.0" y1="48.9" x2="54.4" y2="48.9" stroke="#8c564b" stroke-opacity="0.85" stroke-width="1.5"/>
<text x="59.2" y="51.80" font-size="6.8" fill="#1a1a1a" textLength="3.9" lengthAdjust="spacingAndGlyphs">6</text>
<line x1="66.1" y1="10.9" x2="74.5" y2="10.9" stroke="#e377c2" stroke-opacity="0.85" stroke-width="1.5"/>
<text x="79.2" y="13.80" font-size="6.8" fill="#1a1a1a" textLength="3.9" lengthAdjust="spacingAndGlyphs">7</text>
<line x1="66.1" y1="18.5" x2="74.5" y2="18.5" stroke="#7f7f7f" stroke-opacity="0.85" stroke-width="1.5"/>
<text x="79.2" y="21.40" font-size="6.8" fill="#1a1a1a" textLength="3.9" lengthAdjust="spacingAndGlyphs">8</text>
<line x1="66.1" y1="26.1" x2="74.5" y2="26.1" stroke="#bcbd22" stroke-opacity="0.85" stroke-width="1.5"/>
<text x="79.2" y="29.00" font-size="6.8" fill="#1a1a1a" textLength="3.9" lengthAdjust="spacingAndGlyphs">9</text>
<line x1="66.1" y1="33.7" x2="74.5" y2="33.7" stroke="#17becf" stroke-opacity="0.85" stroke-width="1.5"/>
<text x="79.2" y="36.60" font-size="6.8" fill="#1a1a1a" textLength="7.8" lengthAdjust="spacingAndGlyphs">10</text>
<line x1="66.1" y1="41.3" x2="74.5" y2="41.3" stroke="#1f77b4" stroke-opacity="0.85" stroke-width="1.5"/>
<text x="79.2" y="44.20" font-size="6.8" fill="#1a1a1a" textLength="7.8" lengthAdjust="spacingAndGlyphs">11</text>
<line x1="66.1" y1="48.9" x2="74.5" y2="48.9" stroke="#ff7f0e" stroke-opacity="0.85" stroke-width="1.5"/>
<text x="79.2" y="51.80" font-size="6.8" fill="#1a1a1a" textLength="7.8" lengthAdjust="spacingAndGlyphs">12</text>
<line x1="89.9" y1="10.9" x2="98.5" y2="10.9" stroke="#2ca02c" stroke-opacity="0.85" stroke-width="1.5"/>
<text x="103.4" y="13.80" font-size="6.8" fill="#1a1a1a" textLength="7.8" lengthAdjust="spacingAndGlyphs">13</text>
<line x1="89.9" y1="18.5" x2="98.5" y2="18.5" stroke="#d62728" stroke-opacity="0.85" stroke-width="1.5"/>
<text x="103.4" y="21.40" font-size="6.8" fill="#1a1a1a" textLength="7.8" lengthAdjust="spacingAndGlyphs">14</text>
<line x1="89.9" y1="26.1" x2="98.5" y2="26.1" stroke="#9467bd" stroke-opacity="0.85" stroke-width="1.5"/>
<text x="103.4" y="29.00" font-size="6.8" fill="#1a1a1a" textLength="7.8" lengthAdjust="spacingAndGlyphs">15</text>
<line x1="89.9" y1="33.7" x2="98.5" y2="33.7" stroke="#8c564b" stroke-opacity="0.85" stroke-width="1.5"/>
<text x="103.4" y="36.60" font-size="6.8" fill="#1a1a1a" textLength="7.8" lengthAdjust="spacingAndGlyphs">16</text>
<line x1="89.9" y1="41.3" x2="98.5" y2="41.3" stroke="#000000" stroke-opacity="1" stroke-width="1.8"/>
<text x="103.4" y="44.20" font-size="6.8" fill="#1a1a1a" textLength="34.5" lengthAdjust="spacingAndGlyphs">Fresh wood</text>
</svg>
</body></html>
